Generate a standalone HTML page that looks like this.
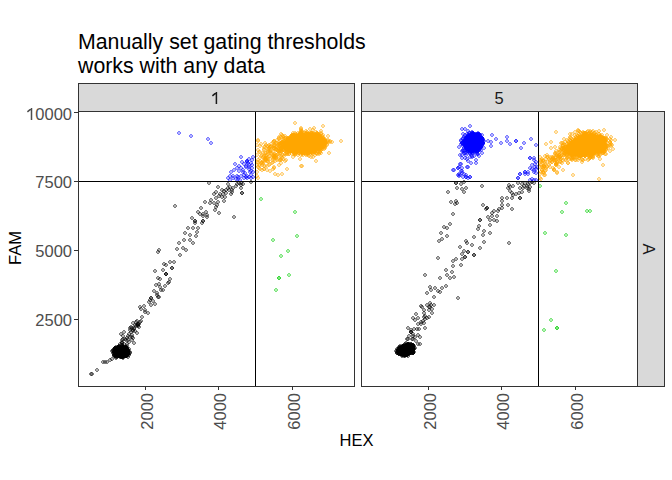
<!DOCTYPE html>
<html><head><meta charset="utf-8">
<style>
html,body{margin:0;padding:0;background:#fff;}
svg{display:block;}
text{font-family:"Liberation Sans",sans-serif;}
</style></head>
<body>
<svg width="672" height="480" viewBox="0 0 672 480">
<defs>
<g id="p"><path d="M-1-2h2v4h-2zM-2-1h1v2h-1zM1-1h1v2h-1z"/><path d="M-1-2h2v1h-2zM-1 1h2v1h-2zM-2-1h1v2h-1zM1-1h1v2h-1z"/></g>
</defs>
<rect x="0" y="0" width="672" height="480" fill="#fff"/>
<text x="78" y="49" font-size="21.3" fill="#000">Manually set gating thresholds</text>
<text x="78" y="73" font-size="21.3" fill="#000">works with any data</text>
<rect x="78.5" y="83.5" width="276" height="28" fill="#d9d9d9" stroke="#333" stroke-width="1"/>
<rect x="361.5" y="83.5" width="276" height="28" fill="#d9d9d9" stroke="#333" stroke-width="1"/>
<rect x="637.5" y="111.5" width="27" height="275" fill="#d9d9d9" stroke="#333" stroke-width="1"/>
<path d="M216.4 92V104M216.2 92.6L212.4 95.9" stroke="#1a1a1a" stroke-width="1.5" fill="none"/>
<text x="499" y="104" font-size="16.5" fill="#1a1a1a" text-anchor="middle">5</text>
<text transform="translate(643,249) rotate(90)" font-size="16.5" fill="#1a1a1a" text-anchor="middle">A</text>
<g fill="#000000" fill-opacity="0.3">
<use href="#p" x="209" y="183"/>
<use href="#p" x="175" y="206"/>
<use href="#p" x="201" y="208"/>
<use href="#p" x="205" y="202"/>
<use href="#p" x="218" y="187"/>
<use href="#p" x="228" y="184"/>
<use href="#p" x="228" y="188"/>
<use href="#p" x="236" y="186"/>
<use href="#p" x="233" y="188"/>
<use href="#p" x="239" y="183"/>
<use href="#p" x="241" y="183"/>
<use href="#p" x="243" y="184"/>
<use href="#p" x="241" y="185"/>
<use href="#p" x="241" y="188"/>
<use href="#p" x="251" y="182"/>
<use href="#p" x="242" y="193"/>
<use href="#p" x="242" y="193"/>
<use href="#p" x="222" y="190"/>
<use href="#p" x="224" y="191"/>
<use href="#p" x="226" y="190"/>
<use href="#p" x="232" y="192"/>
<use href="#p" x="216" y="192"/>
<use href="#p" x="214" y="194"/>
<use href="#p" x="220" y="194"/>
<use href="#p" x="219" y="196"/>
<use href="#p" x="223" y="194"/>
<use href="#p" x="225" y="197"/>
<use href="#p" x="222" y="197"/>
<use href="#p" x="216" y="198"/>
<use href="#p" x="224" y="201"/>
<use href="#p" x="218" y="202"/>
<use href="#p" x="211" y="200"/>
<use href="#p" x="214" y="203"/>
<use href="#p" x="210" y="203"/>
<use href="#p" x="217" y="205"/>
<use href="#p" x="216" y="207"/>
<use href="#p" x="215" y="210"/>
<use href="#p" x="219" y="213"/>
<use href="#p" x="198" y="212"/>
<use href="#p" x="200" y="214"/>
<use href="#p" x="206" y="212"/>
<use href="#p" x="207" y="215"/>
<use href="#p" x="207" y="217"/>
<use href="#p" x="203" y="216"/>
<use href="#p" x="234" y="217"/>
<use href="#p" x="192" y="218"/>
<use href="#p" x="195" y="221"/>
<use href="#p" x="195" y="223"/>
<use href="#p" x="203" y="221"/>
<use href="#p" x="202" y="223"/>
<use href="#p" x="203" y="214"/>
<use href="#p" x="203" y="221"/>
<use href="#p" x="195" y="221"/>
<use href="#p" x="188" y="228"/>
<use href="#p" x="193" y="228"/>
<use href="#p" x="198" y="228"/>
<use href="#p" x="185" y="233"/>
<use href="#p" x="190" y="235"/>
<use href="#p" x="197" y="232"/>
<use href="#p" x="196" y="236"/>
<use href="#p" x="184" y="240"/>
<use href="#p" x="190" y="240"/>
<use href="#p" x="193" y="243"/>
<use href="#p" x="179" y="243"/>
<use href="#p" x="177" y="249"/>
<use href="#p" x="183" y="248"/>
<use href="#p" x="186" y="250"/>
<use href="#p" x="180" y="255"/>
<use href="#p" x="159" y="250"/>
<use href="#p" x="158" y="252"/>
<use href="#p" x="170" y="262"/>
<use href="#p" x="174" y="262"/>
<use href="#p" x="164" y="264"/>
<use href="#p" x="166" y="265"/>
<use href="#p" x="172" y="268"/>
<use href="#p" x="172" y="268"/>
<use href="#p" x="155" y="271"/>
<use href="#p" x="163" y="270"/>
<use href="#p" x="166" y="274"/>
<use href="#p" x="166" y="274"/>
<use href="#p" x="166" y="274"/>
<use href="#p" x="170" y="279"/>
<use href="#p" x="158" y="278"/>
<use href="#p" x="159" y="284"/>
<use href="#p" x="156" y="285"/>
<use href="#p" x="165" y="286"/>
<use href="#p" x="163" y="290"/>
<use href="#p" x="154" y="291"/>
<use href="#p" x="157" y="293"/>
<use href="#p" x="159" y="297"/>
<use href="#p" x="151" y="298"/>
<use href="#p" x="151" y="298"/>
<use href="#p" x="103" y="362"/>
<use href="#p" x="107" y="362"/>
<use href="#p" x="110" y="360"/>
<use href="#p" x="112" y="359"/>
<use href="#p" x="97" y="370"/>
<use href="#p" x="91" y="374"/>
<use href="#p" x="92" y="374"/>
<use href="#p" x="105" y="362"/>
<use href="#p" x="150" y="300"/>
<use href="#p" x="149" y="302"/>
<use href="#p" x="153" y="301"/>
<use href="#p" x="155" y="304"/>
<use href="#p" x="151" y="305"/>
<use href="#p" x="140" y="307"/>
<use href="#p" x="144" y="306"/>
<use href="#p" x="141" y="309"/>
<use href="#p" x="145" y="310"/>
<use href="#p" x="145" y="312"/>
<use href="#p" x="142" y="317"/>
<use href="#p" x="137" y="321"/>
<use href="#p" x="141" y="321"/>
<use href="#p" x="133" y="323"/>
<use href="#p" x="135" y="325"/>
<use href="#p" x="138" y="324"/>
<use href="#p" x="139" y="327"/>
<use href="#p" x="131" y="327"/>
<use href="#p" x="134" y="328"/>
<use href="#p" x="130" y="330"/>
<use href="#p" x="133" y="330"/>
<use href="#p" x="137" y="333"/>
<use href="#p" x="124" y="332"/>
<use href="#p" x="121" y="334"/>
<use href="#p" x="129" y="334"/>
<use href="#p" x="128" y="336"/>
<use href="#p" x="132" y="337"/>
<use href="#p" x="133" y="338"/>
<use href="#p" x="123" y="339"/>
<use href="#p" x="126" y="340"/>
<use href="#p" x="129" y="342"/>
<use href="#p" x="132" y="340"/>
<use href="#p" x="134" y="343"/>
<use href="#p" x="127" y="344"/>
<use href="#p" x="128" y="340"/>
<use href="#p" x="131" y="332"/>
<use href="#p" x="132" y="335"/>
<use href="#p" x="229" y="190"/>
<use href="#p" x="226" y="193"/>
<use href="#p" x="230" y="187"/>
<use href="#p" x="232" y="190"/>
<use href="#p" x="237" y="184"/>
<use href="#p" x="231" y="194"/>
<use href="#p" x="118" y="347"/>
<use href="#p" x="124" y="349"/>
<use href="#p" x="124" y="350"/>
<use href="#p" x="121" y="357"/>
<use href="#p" x="119" y="355"/>
<use href="#p" x="121" y="355"/>
<use href="#p" x="115" y="352"/>
<use href="#p" x="119" y="354"/>
<use href="#p" x="123" y="348"/>
<use href="#p" x="126" y="352"/>
<use href="#p" x="127" y="353"/>
<use href="#p" x="115" y="352"/>
<use href="#p" x="126" y="348"/>
<use href="#p" x="121" y="357"/>
<use href="#p" x="125" y="354"/>
<use href="#p" x="116" y="350"/>
<use href="#p" x="116" y="352"/>
<use href="#p" x="115" y="348"/>
<use href="#p" x="123" y="347"/>
<use href="#p" x="124" y="353"/>
<use href="#p" x="116" y="351"/>
<use href="#p" x="122" y="353"/>
<use href="#p" x="128" y="352"/>
<use href="#p" x="116" y="349"/>
<use href="#p" x="114" y="352"/>
<use href="#p" x="120" y="354"/>
<use href="#p" x="126" y="352"/>
<use href="#p" x="128" y="352"/>
<use href="#p" x="123" y="354"/>
<use href="#p" x="122" y="348"/>
<use href="#p" x="122" y="355"/>
<use href="#p" x="118" y="349"/>
<use href="#p" x="117" y="349"/>
<use href="#p" x="117" y="350"/>
<use href="#p" x="114" y="351"/>
<use href="#p" x="118" y="348"/>
<use href="#p" x="126" y="351"/>
<use href="#p" x="124" y="350"/>
<use href="#p" x="121" y="354"/>
<use href="#p" x="117" y="349"/>
<use href="#p" x="117" y="352"/>
<use href="#p" x="121" y="348"/>
<use href="#p" x="119" y="356"/>
<use href="#p" x="121" y="348"/>
<use href="#p" x="123" y="356"/>
<use href="#p" x="123" y="348"/>
<use href="#p" x="124" y="351"/>
<use href="#p" x="117" y="353"/>
<use href="#p" x="128" y="351"/>
<use href="#p" x="119" y="352"/>
<use href="#p" x="121" y="347"/>
<use href="#p" x="124" y="356"/>
<use href="#p" x="114" y="349"/>
<use href="#p" x="116" y="351"/>
<use href="#p" x="119" y="350"/>
<use href="#p" x="122" y="349"/>
<use href="#p" x="122" y="356"/>
<use href="#p" x="117" y="357"/>
<use href="#p" x="123" y="351"/>
<use href="#p" x="119" y="348"/>
<use href="#p" x="128" y="350"/>
<use href="#p" x="115" y="354"/>
<use href="#p" x="122" y="350"/>
<use href="#p" x="121" y="349"/>
<use href="#p" x="118" y="347"/>
<use href="#p" x="116" y="357"/>
<use href="#p" x="116" y="351"/>
<use href="#p" x="119" y="351"/>
<use href="#p" x="124" y="350"/>
<use href="#p" x="124" y="352"/>
<use href="#p" x="114" y="352"/>
<use href="#p" x="115" y="353"/>
<use href="#p" x="123" y="350"/>
<use href="#p" x="122" y="352"/>
<use href="#p" x="121" y="349"/>
<use href="#p" x="120" y="351"/>
<use href="#p" x="117" y="350"/>
<use href="#p" x="120" y="349"/>
<use href="#p" x="126" y="351"/>
<use href="#p" x="119" y="353"/>
<use href="#p" x="124" y="356"/>
<use href="#p" x="119" y="348"/>
<use href="#p" x="124" y="351"/>
<use href="#p" x="122" y="349"/>
<use href="#p" x="116" y="353"/>
<use href="#p" x="128" y="353"/>
<use href="#p" x="124" y="350"/>
<use href="#p" x="114" y="355"/>
<use href="#p" x="119" y="349"/>
<use href="#p" x="118" y="349"/>
<use href="#p" x="125" y="353"/>
<use href="#p" x="121" y="348"/>
<use href="#p" x="119" y="352"/>
<use href="#p" x="119" y="347"/>
<use href="#p" x="128" y="353"/>
<use href="#p" x="127" y="355"/>
<use href="#p" x="127" y="353"/>
<use href="#p" x="125" y="351"/>
<use href="#p" x="124" y="352"/>
<use href="#p" x="124" y="354"/>
<use href="#p" x="120" y="356"/>
<use href="#p" x="114" y="354"/>
<use href="#p" x="121" y="353"/>
<use href="#p" x="121" y="347"/>
<use href="#p" x="122" y="353"/>
<use href="#p" x="121" y="356"/>
<use href="#p" x="117" y="350"/>
<use href="#p" x="116" y="353"/>
<use href="#p" x="113" y="353"/>
<use href="#p" x="125" y="349"/>
<use href="#p" x="117" y="355"/>
<use href="#p" x="115" y="350"/>
<use href="#p" x="123" y="351"/>
<use href="#p" x="120" y="347"/>
<use href="#p" x="119" y="351"/>
<use href="#p" x="115" y="350"/>
<use href="#p" x="126" y="350"/>
<use href="#p" x="122" y="352"/>
<use href="#p" x="121" y="355"/>
<use href="#p" x="116" y="354"/>
<use href="#p" x="118" y="349"/>
<use href="#p" x="123" y="351"/>
<use href="#p" x="126" y="355"/>
<use href="#p" x="120" y="353"/>
<use href="#p" x="122" y="355"/>
<use href="#p" x="123" y="355"/>
<use href="#p" x="114" y="351"/>
<use href="#p" x="114" y="355"/>
<use href="#p" x="115" y="353"/>
<use href="#p" x="124" y="354"/>
<use href="#p" x="124" y="352"/>
<use href="#p" x="126" y="353"/>
<use href="#p" x="117" y="352"/>
<use href="#p" x="129" y="349"/>
<use href="#p" x="115" y="351"/>
<use href="#p" x="123" y="356"/>
<use href="#p" x="121" y="354"/>
<use href="#p" x="122" y="352"/>
<use href="#p" x="117" y="355"/>
<use href="#p" x="116" y="353"/>
<use href="#p" x="114" y="356"/>
<use href="#p" x="125" y="354"/>
<use href="#p" x="116" y="356"/>
<use href="#p" x="126" y="349"/>
<use href="#p" x="115" y="352"/>
<use href="#p" x="118" y="353"/>
<use href="#p" x="119" y="346"/>
<use href="#p" x="126" y="356"/>
<use href="#p" x="119" y="350"/>
<use href="#p" x="117" y="353"/>
<use href="#p" x="115" y="349"/>
<use href="#p" x="120" y="352"/>
<use href="#p" x="115" y="351"/>
<use href="#p" x="121" y="354"/>
<use href="#p" x="124" y="351"/>
<use href="#p" x="118" y="347"/>
<use href="#p" x="121" y="351"/>
<use href="#p" x="117" y="356"/>
<use href="#p" x="125" y="348"/>
<use href="#p" x="126" y="347"/>
<use href="#p" x="120" y="356"/>
<use href="#p" x="119" y="355"/>
<use href="#p" x="123" y="350"/>
<use href="#p" x="119" y="351"/>
<use href="#p" x="116" y="358"/>
<use href="#p" x="122" y="355"/>
<use href="#p" x="120" y="356"/>
<use href="#p" x="126" y="351"/>
<use href="#p" x="119" y="356"/>
<use href="#p" x="119" y="350"/>
<use href="#p" x="117" y="350"/>
<use href="#p" x="120" y="357"/>
<use href="#p" x="122" y="349"/>
<use href="#p" x="114" y="352"/>
<use href="#p" x="122" y="348"/>
<use href="#p" x="117" y="355"/>
<use href="#p" x="124" y="355"/>
<use href="#p" x="124" y="354"/>
<use href="#p" x="115" y="350"/>
<use href="#p" x="115" y="350"/>
<use href="#p" x="127" y="350"/>
<use href="#p" x="116" y="354"/>
<use href="#p" x="118" y="350"/>
<use href="#p" x="115" y="348"/>
<use href="#p" x="126" y="352"/>
<use href="#p" x="117" y="350"/>
<use href="#p" x="128" y="352"/>
<use href="#p" x="121" y="349"/>
<use href="#p" x="121" y="349"/>
<use href="#p" x="126" y="350"/>
<use href="#p" x="119" y="349"/>
<use href="#p" x="118" y="354"/>
<use href="#p" x="122" y="351"/>
<use href="#p" x="119" y="352"/>
<use href="#p" x="120" y="354"/>
<use href="#p" x="116" y="353"/>
<use href="#p" x="117" y="353"/>
<use href="#p" x="113" y="350"/>
<use href="#p" x="121" y="355"/>
<use href="#p" x="120" y="349"/>
<use href="#p" x="115" y="351"/>
<use href="#p" x="115" y="350"/>
<use href="#p" x="124" y="353"/>
<use href="#p" x="121" y="356"/>
<use href="#p" x="126" y="353"/>
<use href="#p" x="119" y="354"/>
<use href="#p" x="115" y="351"/>
<use href="#p" x="120" y="353"/>
<use href="#p" x="126" y="352"/>
<use href="#p" x="115" y="355"/>
<use href="#p" x="120" y="351"/>
<use href="#p" x="124" y="352"/>
<use href="#p" x="116" y="356"/>
<use href="#p" x="123" y="349"/>
<use href="#p" x="119" y="349"/>
<use href="#p" x="125" y="351"/>
<use href="#p" x="119" y="349"/>
<use href="#p" x="123" y="356"/>
<use href="#p" x="124" y="352"/>
<use href="#p" x="119" y="348"/>
<use href="#p" x="116" y="351"/>
<use href="#p" x="114" y="353"/>
<use href="#p" x="116" y="351"/>
<use href="#p" x="122" y="349"/>
<use href="#p" x="124" y="356"/>
<use href="#p" x="116" y="352"/>
<use href="#p" x="117" y="352"/>
<use href="#p" x="121" y="349"/>
<use href="#p" x="117" y="353"/>
<use href="#p" x="126" y="355"/>
<use href="#p" x="120" y="352"/>
<use href="#p" x="119" y="351"/>
<use href="#p" x="115" y="348"/>
<use href="#p" x="116" y="353"/>
<use href="#p" x="116" y="354"/>
<use href="#p" x="124" y="349"/>
<use href="#p" x="122" y="349"/>
<use href="#p" x="115" y="350"/>
<use href="#p" x="123" y="357"/>
<use href="#p" x="125" y="354"/>
<use href="#p" x="118" y="354"/>
<use href="#p" x="118" y="353"/>
<use href="#p" x="117" y="348"/>
<use href="#p" x="121" y="351"/>
<use href="#p" x="127" y="351"/>
<use href="#p" x="123" y="352"/>
<use href="#p" x="115" y="352"/>
<use href="#p" x="121" y="352"/>
<use href="#p" x="119" y="346"/>
<use href="#p" x="119" y="355"/>
<use href="#p" x="124" y="350"/>
<use href="#p" x="116" y="347"/>
<use href="#p" x="122" y="347"/>
<use href="#p" x="125" y="351"/>
<use href="#p" x="126" y="350"/>
<use href="#p" x="128" y="353"/>
<use href="#p" x="115" y="352"/>
<use href="#p" x="124" y="353"/>
<use href="#p" x="126" y="350"/>
<use href="#p" x="120" y="356"/>
<use href="#p" x="116" y="351"/>
<use href="#p" x="126" y="351"/>
<use href="#p" x="119" y="356"/>
<use href="#p" x="118" y="356"/>
<use href="#p" x="117" y="352"/>
<use href="#p" x="123" y="350"/>
<use href="#p" x="122" y="353"/>
<use href="#p" x="125" y="355"/>
<use href="#p" x="118" y="356"/>
<use href="#p" x="112" y="351"/>
<use href="#p" x="128" y="353"/>
<use href="#p" x="124" y="349"/>
<use href="#p" x="127" y="348"/>
<use href="#p" x="115" y="352"/>
<use href="#p" x="118" y="351"/>
<use href="#p" x="116" y="352"/>
<use href="#p" x="113" y="351"/>
<use href="#p" x="116" y="348"/>
<use href="#p" x="117" y="351"/>
<use href="#p" x="115" y="356"/>
<use href="#p" x="128" y="353"/>
<use href="#p" x="117" y="349"/>
<use href="#p" x="122" y="349"/>
<use href="#p" x="115" y="352"/>
<use href="#p" x="120" y="356"/>
<use href="#p" x="116" y="349"/>
<use href="#p" x="126" y="350"/>
<use href="#p" x="127" y="350"/>
<use href="#p" x="125" y="350"/>
<use href="#p" x="116" y="351"/>
<use href="#p" x="121" y="355"/>
<use href="#p" x="119" y="353"/>
<use href="#p" x="116" y="351"/>
<use href="#p" x="124" y="351"/>
<use href="#p" x="124" y="351"/>
<use href="#p" x="124" y="350"/>
<use href="#p" x="121" y="354"/>
<use href="#p" x="123" y="349"/>
<use href="#p" x="123" y="349"/>
<use href="#p" x="122" y="349"/>
<use href="#p" x="123" y="356"/>
<use href="#p" x="128" y="354"/>
<use href="#p" x="121" y="349"/>
<use href="#p" x="120" y="354"/>
<use href="#p" x="127" y="350"/>
<use href="#p" x="123" y="347"/>
<use href="#p" x="127" y="356"/>
<use href="#p" x="124" y="354"/>
<use href="#p" x="122" y="349"/>
<use href="#p" x="129" y="355"/>
<use href="#p" x="120" y="355"/>
<use href="#p" x="127" y="350"/>
<use href="#p" x="122" y="357"/>
<use href="#p" x="127" y="349"/>
<use href="#p" x="124" y="355"/>
<use href="#p" x="123" y="356"/>
<use href="#p" x="123" y="355"/>
<use href="#p" x="121" y="354"/>
<use href="#p" x="122" y="348"/>
<use href="#p" x="126" y="347"/>
<use href="#p" x="126" y="356"/>
<use href="#p" x="126" y="348"/>
<use href="#p" x="128" y="354"/>
<use href="#p" x="128" y="352"/>
<use href="#p" x="118" y="351"/>
<use href="#p" x="122" y="352"/>
<use href="#p" x="120" y="353"/>
<use href="#p" x="119" y="349"/>
<use href="#p" x="130" y="353"/>
<use href="#p" x="127" y="346"/>
<use href="#p" x="123" y="357"/>
<use href="#p" x="120" y="350"/>
<use href="#p" x="122" y="351"/>
<use href="#p" x="128" y="354"/>
<use href="#p" x="125" y="350"/>
<use href="#p" x="128" y="353"/>
<use href="#p" x="127" y="355"/>
<use href="#p" x="122" y="348"/>
<use href="#p" x="126" y="351"/>
<use href="#p" x="124" y="355"/>
<use href="#p" x="122" y="349"/>
<use href="#p" x="126" y="356"/>
<use href="#p" x="119" y="350"/>
<use href="#p" x="123" y="355"/>
<use href="#p" x="126" y="351"/>
<use href="#p" x="124" y="348"/>
<use href="#p" x="119" y="349"/>
<use href="#p" x="120" y="352"/>
<use href="#p" x="125" y="353"/>
<use href="#p" x="127" y="348"/>
<use href="#p" x="120" y="354"/>
<use href="#p" x="123" y="353"/>
<use href="#p" x="123" y="352"/>
<use href="#p" x="122" y="355"/>
<use href="#p" x="120" y="350"/>
<use href="#p" x="124" y="351"/>
<use href="#p" x="125" y="348"/>
<use href="#p" x="125" y="350"/>
<use href="#p" x="127" y="352"/>
<use href="#p" x="125" y="347"/>
<use href="#p" x="124" y="355"/>
<use href="#p" x="121" y="352"/>
<use href="#p" x="127" y="351"/>
<use href="#p" x="125" y="355"/>
<use href="#p" x="122" y="351"/>
<use href="#p" x="126" y="349"/>
<use href="#p" x="124" y="355"/>
<use href="#p" x="123" y="349"/>
<use href="#p" x="122" y="352"/>
<use href="#p" x="123" y="353"/>
<use href="#p" x="123" y="352"/>
<use href="#p" x="124" y="348"/>
<use href="#p" x="127" y="349"/>
<use href="#p" x="121" y="348"/>
<use href="#p" x="119" y="353"/>
<use href="#p" x="129" y="354"/>
<use href="#p" x="125" y="354"/>
<use href="#p" x="122" y="349"/>
<use href="#p" x="126" y="350"/>
<use href="#p" x="122" y="351"/>
<use href="#p" x="128" y="351"/>
<use href="#p" x="123" y="351"/>
<use href="#p" x="123" y="352"/>
<use href="#p" x="125" y="350"/>
<use href="#p" x="121" y="349"/>
<use href="#p" x="130" y="352"/>
<use href="#p" x="118" y="350"/>
<use href="#p" x="126" y="356"/>
<use href="#p" x="121" y="349"/>
<use href="#p" x="125" y="352"/>
<use href="#p" x="124" y="348"/>
<use href="#p" x="121" y="352"/>
<use href="#p" x="128" y="354"/>
<use href="#p" x="122" y="348"/>
<use href="#p" x="128" y="351"/>
<use href="#p" x="120" y="347"/>
<use href="#p" x="125" y="348"/>
<use href="#p" x="121" y="351"/>
<use href="#p" x="128" y="350"/>
<use href="#p" x="125" y="350"/>
<use href="#p" x="126" y="354"/>
<use href="#p" x="127" y="350"/>
<use href="#p" x="124" y="350"/>
<use href="#p" x="125" y="356"/>
<use href="#p" x="125" y="348"/>
<use href="#p" x="126" y="351"/>
<use href="#p" x="123" y="358"/>
<use href="#p" x="123" y="347"/>
<use href="#p" x="126" y="354"/>
<use href="#p" x="125" y="351"/>
<use href="#p" x="125" y="351"/>
<use href="#p" x="128" y="352"/>
<use href="#p" x="125" y="354"/>
<use href="#p" x="123" y="347"/>
<use href="#p" x="120" y="350"/>
<use href="#p" x="124" y="348"/>
<use href="#p" x="124" y="354"/>
<use href="#p" x="121" y="355"/>
<use href="#p" x="126" y="347"/>
<use href="#p" x="123" y="355"/>
<use href="#p" x="127" y="355"/>
<use href="#p" x="121" y="349"/>
<use href="#p" x="123" y="349"/>
<use href="#p" x="121" y="351"/>
<use href="#p" x="120" y="352"/>
<use href="#p" x="123" y="354"/>
<use href="#p" x="128" y="354"/>
<use href="#p" x="129" y="352"/>
<use href="#p" x="122" y="348"/>
<use href="#p" x="118" y="353"/>
<use href="#p" x="124" y="351"/>
<use href="#p" x="123" y="346"/>
<use href="#p" x="128" y="351"/>
<use href="#p" x="128" y="354"/>
<use href="#p" x="121" y="349"/>
<use href="#p" x="120" y="353"/>
<use href="#p" x="124" y="350"/>
<use href="#p" x="128" y="353"/>
<use href="#p" x="121" y="349"/>
<use href="#p" x="126" y="351"/>
<use href="#p" x="128" y="350"/>
<use href="#p" x="123" y="355"/>
<use href="#p" x="123" y="356"/>
<use href="#p" x="125" y="356"/>
<use href="#p" x="123" y="357"/>
<use href="#p" x="123" y="349"/>
<use href="#p" x="124" y="347"/>
<use href="#p" x="128" y="357"/>
<use href="#p" x="122" y="357"/>
<use href="#p" x="123" y="356"/>
<use href="#p" x="137" y="325"/>
<use href="#p" x="122" y="343"/>
<use href="#p" x="124" y="344"/>
<use href="#p" x="136" y="322"/>
<use href="#p" x="133" y="331"/>
<use href="#p" x="122" y="342"/>
<use href="#p" x="138" y="324"/>
<use href="#p" x="138" y="325"/>
<use href="#p" x="123" y="336"/>
<use href="#p" x="120" y="344"/>
<use href="#p" x="127" y="338"/>
<use href="#p" x="134" y="329"/>
<use href="#p" x="130" y="337"/>
<use href="#p" x="136" y="326"/>
<use href="#p" x="132" y="328"/>
<use href="#p" x="125" y="339"/>
<use href="#p" x="122" y="345"/>
<use href="#p" x="139" y="324"/>
<use href="#p" x="138" y="326"/>
<use href="#p" x="122" y="345"/>
<use href="#p" x="130" y="328"/>
<use href="#p" x="135" y="331"/>
<use href="#p" x="122" y="340"/>
<use href="#p" x="140" y="322"/>
<use href="#p" x="122" y="343"/>
<use href="#p" x="168" y="283"/>
<use href="#p" x="169" y="282"/>
<use href="#p" x="157" y="295"/>
<use href="#p" x="158" y="297"/>
<use href="#p" x="160" y="287"/>
<use href="#p" x="161" y="290"/>
<use href="#p" x="148" y="313"/>
<use href="#p" x="160" y="279"/>
</g>
<g fill="#0000ff" fill-opacity="0.3">
<use href="#p" x="179" y="133"/>
<use href="#p" x="191" y="136"/>
<use href="#p" x="208" y="139"/>
<use href="#p" x="211" y="143"/>
<use href="#p" x="241" y="157"/>
<use href="#p" x="253" y="157"/>
<use href="#p" x="249" y="159"/>
<use href="#p" x="247" y="161"/>
<use href="#p" x="247" y="161"/>
<use href="#p" x="242" y="162"/>
<use href="#p" x="235" y="164"/>
<use href="#p" x="244" y="164"/>
<use href="#p" x="252" y="165"/>
<use href="#p" x="239" y="166"/>
<use href="#p" x="237" y="168"/>
<use href="#p" x="241" y="168"/>
<use href="#p" x="246" y="167"/>
<use href="#p" x="249" y="169"/>
<use href="#p" x="234" y="170"/>
<use href="#p" x="231" y="172"/>
<use href="#p" x="239" y="171"/>
<use href="#p" x="243" y="172"/>
<use href="#p" x="251" y="171"/>
<use href="#p" x="252" y="168"/>
<use href="#p" x="233" y="176"/>
<use href="#p" x="237" y="176"/>
<use href="#p" x="230" y="176"/>
<use href="#p" x="228" y="178"/>
<use href="#p" x="246" y="177"/>
<use href="#p" x="247" y="178"/>
<use href="#p" x="253" y="177"/>
<use href="#p" x="238" y="179"/>
<use href="#p" x="240" y="180"/>
<use href="#p" x="230" y="180"/>
<use href="#p" x="251" y="175"/>
<use href="#p" x="244" y="175"/>
<use href="#p" x="247" y="162"/>
<use href="#p" x="248" y="163"/>
<use href="#p" x="246" y="166"/>
<use href="#p" x="249" y="167"/>
<use href="#p" x="251" y="163"/>
<use href="#p" x="252" y="160"/>
<use href="#p" x="250" y="172"/>
<use href="#p" x="247" y="176"/>
<use href="#p" x="249" y="177"/>
<use href="#p" x="244" y="178"/>
<use href="#p" x="243" y="170"/>
<use href="#p" x="238" y="177"/>
<use href="#p" x="241" y="176"/>
<use href="#p" x="245" y="173"/>
<use href="#p" x="233" y="178"/>
<use href="#p" x="236" y="179"/>
<use href="#p" x="251" y="178"/>
<use href="#p" x="253" y="172"/>
<use href="#p" x="249" y="165"/>
</g>
<g fill="#ffa500" fill-opacity="0.3">
<use href="#p" x="295" y="123"/>
<use href="#p" x="301" y="128"/>
<use href="#p" x="314" y="128"/>
<use href="#p" x="323" y="126"/>
<use href="#p" x="341" y="141"/>
<use href="#p" x="332" y="142"/>
<use href="#p" x="329" y="153"/>
<use href="#p" x="316" y="161"/>
<use href="#p" x="301" y="166"/>
<use href="#p" x="302" y="166"/>
<use href="#p" x="287" y="169"/>
<use href="#p" x="282" y="174"/>
<use href="#p" x="278" y="175"/>
<use href="#p" x="275" y="174"/>
<use href="#p" x="279" y="165"/>
<use href="#p" x="273" y="162"/>
<use href="#p" x="270" y="171"/>
<use href="#p" x="267" y="170"/>
<use href="#p" x="258" y="141"/>
<use href="#p" x="281" y="134"/>
<use href="#p" x="257" y="145"/>
<use href="#p" x="258" y="150"/>
<use href="#p" x="257" y="155"/>
<use href="#p" x="258" y="160"/>
<use href="#p" x="257" y="165"/>
<use href="#p" x="259" y="168"/>
<use href="#p" x="257" y="172"/>
<use href="#p" x="260" y="158"/>
<use href="#p" x="259" y="152"/>
<use href="#p" x="258" y="140"/>
<use href="#p" x="260" y="146"/>
<use href="#p" x="257" y="176"/>
<use href="#p" x="258" y="178"/>
<use href="#p" x="261" y="163"/>
<use href="#p" x="262" y="170"/>
<use href="#p" x="262" y="155"/>
<use href="#p" x="306" y="141"/>
<use href="#p" x="306" y="148"/>
<use href="#p" x="289" y="149"/>
<use href="#p" x="285" y="145"/>
<use href="#p" x="298" y="136"/>
<use href="#p" x="299" y="148"/>
<use href="#p" x="303" y="148"/>
<use href="#p" x="321" y="145"/>
<use href="#p" x="300" y="151"/>
<use href="#p" x="306" y="144"/>
<use href="#p" x="325" y="143"/>
<use href="#p" x="320" y="145"/>
<use href="#p" x="307" y="137"/>
<use href="#p" x="316" y="136"/>
<use href="#p" x="297" y="139"/>
<use href="#p" x="304" y="135"/>
<use href="#p" x="320" y="139"/>
<use href="#p" x="309" y="145"/>
<use href="#p" x="296" y="139"/>
<use href="#p" x="290" y="141"/>
<use href="#p" x="288" y="148"/>
<use href="#p" x="293" y="139"/>
<use href="#p" x="316" y="141"/>
<use href="#p" x="297" y="136"/>
<use href="#p" x="302" y="138"/>
<use href="#p" x="322" y="136"/>
<use href="#p" x="292" y="147"/>
<use href="#p" x="311" y="152"/>
<use href="#p" x="324" y="146"/>
<use href="#p" x="297" y="151"/>
<use href="#p" x="299" y="146"/>
<use href="#p" x="301" y="143"/>
<use href="#p" x="287" y="145"/>
<use href="#p" x="286" y="145"/>
<use href="#p" x="315" y="143"/>
<use href="#p" x="288" y="144"/>
<use href="#p" x="297" y="143"/>
<use href="#p" x="288" y="139"/>
<use href="#p" x="290" y="150"/>
<use href="#p" x="309" y="135"/>
<use href="#p" x="313" y="140"/>
<use href="#p" x="287" y="144"/>
<use href="#p" x="308" y="148"/>
<use href="#p" x="295" y="145"/>
<use href="#p" x="305" y="151"/>
<use href="#p" x="308" y="150"/>
<use href="#p" x="304" y="147"/>
<use href="#p" x="307" y="139"/>
<use href="#p" x="304" y="138"/>
<use href="#p" x="302" y="132"/>
<use href="#p" x="296" y="138"/>
<use href="#p" x="294" y="135"/>
<use href="#p" x="311" y="152"/>
<use href="#p" x="299" y="148"/>
<use href="#p" x="316" y="145"/>
<use href="#p" x="313" y="139"/>
<use href="#p" x="310" y="151"/>
<use href="#p" x="307" y="136"/>
<use href="#p" x="287" y="144"/>
<use href="#p" x="307" y="137"/>
<use href="#p" x="308" y="136"/>
<use href="#p" x="320" y="142"/>
<use href="#p" x="307" y="149"/>
<use href="#p" x="301" y="147"/>
<use href="#p" x="318" y="146"/>
<use href="#p" x="314" y="144"/>
<use href="#p" x="299" y="147"/>
<use href="#p" x="288" y="142"/>
<use href="#p" x="298" y="138"/>
<use href="#p" x="293" y="136"/>
<use href="#p" x="296" y="149"/>
<use href="#p" x="292" y="144"/>
<use href="#p" x="317" y="145"/>
<use href="#p" x="315" y="136"/>
<use href="#p" x="316" y="138"/>
<use href="#p" x="297" y="146"/>
<use href="#p" x="297" y="144"/>
<use href="#p" x="311" y="147"/>
<use href="#p" x="315" y="147"/>
<use href="#p" x="295" y="142"/>
<use href="#p" x="323" y="139"/>
<use href="#p" x="311" y="152"/>
<use href="#p" x="315" y="144"/>
<use href="#p" x="306" y="146"/>
<use href="#p" x="291" y="146"/>
<use href="#p" x="307" y="139"/>
<use href="#p" x="320" y="147"/>
<use href="#p" x="313" y="137"/>
<use href="#p" x="289" y="139"/>
<use href="#p" x="304" y="146"/>
<use href="#p" x="302" y="152"/>
<use href="#p" x="303" y="152"/>
<use href="#p" x="308" y="154"/>
<use href="#p" x="293" y="140"/>
<use href="#p" x="310" y="147"/>
<use href="#p" x="292" y="148"/>
<use href="#p" x="312" y="135"/>
<use href="#p" x="291" y="151"/>
<use href="#p" x="303" y="142"/>
<use href="#p" x="301" y="150"/>
<use href="#p" x="292" y="142"/>
<use href="#p" x="304" y="145"/>
<use href="#p" x="325" y="141"/>
<use href="#p" x="289" y="141"/>
<use href="#p" x="308" y="145"/>
<use href="#p" x="296" y="139"/>
<use href="#p" x="291" y="146"/>
<use href="#p" x="309" y="151"/>
<use href="#p" x="319" y="143"/>
<use href="#p" x="309" y="147"/>
<use href="#p" x="322" y="143"/>
<use href="#p" x="302" y="142"/>
<use href="#p" x="294" y="143"/>
<use href="#p" x="314" y="136"/>
<use href="#p" x="323" y="140"/>
<use href="#p" x="309" y="150"/>
<use href="#p" x="292" y="144"/>
<use href="#p" x="319" y="144"/>
<use href="#p" x="305" y="147"/>
<use href="#p" x="318" y="141"/>
<use href="#p" x="296" y="141"/>
<use href="#p" x="311" y="141"/>
<use href="#p" x="293" y="149"/>
<use href="#p" x="305" y="146"/>
<use href="#p" x="304" y="147"/>
<use href="#p" x="309" y="135"/>
<use href="#p" x="287" y="145"/>
<use href="#p" x="294" y="145"/>
<use href="#p" x="314" y="139"/>
<use href="#p" x="310" y="135"/>
<use href="#p" x="297" y="139"/>
<use href="#p" x="303" y="143"/>
<use href="#p" x="320" y="141"/>
<use href="#p" x="301" y="141"/>
<use href="#p" x="296" y="141"/>
<use href="#p" x="313" y="141"/>
<use href="#p" x="323" y="138"/>
<use href="#p" x="321" y="143"/>
<use href="#p" x="295" y="141"/>
<use href="#p" x="320" y="144"/>
<use href="#p" x="295" y="136"/>
<use href="#p" x="312" y="139"/>
<use href="#p" x="301" y="134"/>
<use href="#p" x="312" y="145"/>
<use href="#p" x="311" y="151"/>
<use href="#p" x="302" y="142"/>
<use href="#p" x="308" y="145"/>
<use href="#p" x="295" y="143"/>
<use href="#p" x="309" y="143"/>
<use href="#p" x="309" y="137"/>
<use href="#p" x="318" y="137"/>
<use href="#p" x="309" y="147"/>
<use href="#p" x="307" y="141"/>
<use href="#p" x="285" y="148"/>
<use href="#p" x="299" y="138"/>
<use href="#p" x="302" y="146"/>
<use href="#p" x="319" y="137"/>
<use href="#p" x="315" y="136"/>
<use href="#p" x="305" y="143"/>
<use href="#p" x="311" y="149"/>
<use href="#p" x="313" y="139"/>
<use href="#p" x="306" y="144"/>
<use href="#p" x="324" y="142"/>
<use href="#p" x="318" y="142"/>
<use href="#p" x="292" y="151"/>
<use href="#p" x="296" y="136"/>
<use href="#p" x="316" y="146"/>
<use href="#p" x="305" y="136"/>
<use href="#p" x="313" y="144"/>
<use href="#p" x="319" y="138"/>
<use href="#p" x="308" y="148"/>
<use href="#p" x="319" y="135"/>
<use href="#p" x="296" y="136"/>
<use href="#p" x="320" y="146"/>
<use href="#p" x="300" y="149"/>
<use href="#p" x="313" y="135"/>
<use href="#p" x="304" y="148"/>
<use href="#p" x="308" y="144"/>
<use href="#p" x="314" y="147"/>
<use href="#p" x="289" y="149"/>
<use href="#p" x="299" y="145"/>
<use href="#p" x="290" y="148"/>
<use href="#p" x="308" y="144"/>
<use href="#p" x="312" y="146"/>
<use href="#p" x="318" y="145"/>
<use href="#p" x="322" y="143"/>
<use href="#p" x="315" y="144"/>
<use href="#p" x="303" y="151"/>
<use href="#p" x="304" y="141"/>
<use href="#p" x="297" y="138"/>
<use href="#p" x="307" y="149"/>
<use href="#p" x="292" y="144"/>
<use href="#p" x="304" y="140"/>
<use href="#p" x="316" y="140"/>
<use href="#p" x="304" y="150"/>
<use href="#p" x="319" y="143"/>
<use href="#p" x="307" y="139"/>
<use href="#p" x="293" y="145"/>
<use href="#p" x="293" y="151"/>
<use href="#p" x="299" y="153"/>
<use href="#p" x="301" y="135"/>
<use href="#p" x="304" y="139"/>
<use href="#p" x="310" y="150"/>
<use href="#p" x="294" y="135"/>
<use href="#p" x="308" y="139"/>
<use href="#p" x="292" y="146"/>
<use href="#p" x="299" y="148"/>
<use href="#p" x="292" y="142"/>
<use href="#p" x="304" y="145"/>
<use href="#p" x="300" y="148"/>
<use href="#p" x="315" y="143"/>
<use href="#p" x="301" y="151"/>
<use href="#p" x="301" y="141"/>
<use href="#p" x="308" y="149"/>
<use href="#p" x="325" y="141"/>
<use href="#p" x="319" y="141"/>
<use href="#p" x="322" y="144"/>
<use href="#p" x="307" y="149"/>
<use href="#p" x="305" y="136"/>
<use href="#p" x="294" y="149"/>
<use href="#p" x="292" y="148"/>
<use href="#p" x="313" y="145"/>
<use href="#p" x="289" y="148"/>
<use href="#p" x="318" y="144"/>
<use href="#p" x="308" y="144"/>
<use href="#p" x="316" y="142"/>
<use href="#p" x="295" y="147"/>
<use href="#p" x="309" y="151"/>
<use href="#p" x="314" y="140"/>
<use href="#p" x="302" y="133"/>
<use href="#p" x="297" y="142"/>
<use href="#p" x="294" y="145"/>
<use href="#p" x="291" y="140"/>
<use href="#p" x="312" y="138"/>
<use href="#p" x="316" y="145"/>
<use href="#p" x="301" y="134"/>
<use href="#p" x="309" y="136"/>
<use href="#p" x="313" y="149"/>
<use href="#p" x="315" y="149"/>
<use href="#p" x="298" y="138"/>
<use href="#p" x="307" y="136"/>
<use href="#p" x="302" y="136"/>
<use href="#p" x="305" y="153"/>
<use href="#p" x="289" y="142"/>
<use href="#p" x="303" y="138"/>
<use href="#p" x="302" y="147"/>
<use href="#p" x="322" y="140"/>
<use href="#p" x="318" y="136"/>
<use href="#p" x="290" y="141"/>
<use href="#p" x="288" y="147"/>
<use href="#p" x="295" y="139"/>
<use href="#p" x="301" y="143"/>
<use href="#p" x="293" y="149"/>
<use href="#p" x="297" y="148"/>
<use href="#p" x="316" y="134"/>
<use href="#p" x="307" y="135"/>
<use href="#p" x="307" y="146"/>
<use href="#p" x="285" y="142"/>
<use href="#p" x="297" y="146"/>
<use href="#p" x="306" y="142"/>
<use href="#p" x="304" y="151"/>
<use href="#p" x="314" y="145"/>
<use href="#p" x="304" y="149"/>
<use href="#p" x="307" y="141"/>
<use href="#p" x="314" y="150"/>
<use href="#p" x="318" y="139"/>
<use href="#p" x="291" y="147"/>
<use href="#p" x="302" y="134"/>
<use href="#p" x="290" y="147"/>
<use href="#p" x="299" y="135"/>
<use href="#p" x="307" y="139"/>
<use href="#p" x="295" y="141"/>
<use href="#p" x="320" y="142"/>
<use href="#p" x="307" y="147"/>
<use href="#p" x="315" y="135"/>
<use href="#p" x="319" y="142"/>
<use href="#p" x="299" y="142"/>
<use href="#p" x="302" y="134"/>
<use href="#p" x="311" y="153"/>
<use href="#p" x="309" y="151"/>
<use href="#p" x="315" y="141"/>
<use href="#p" x="295" y="144"/>
<use href="#p" x="316" y="140"/>
<use href="#p" x="304" y="135"/>
<use href="#p" x="325" y="144"/>
<use href="#p" x="291" y="136"/>
<use href="#p" x="313" y="148"/>
<use href="#p" x="303" y="149"/>
<use href="#p" x="298" y="137"/>
<use href="#p" x="301" y="144"/>
<use href="#p" x="292" y="142"/>
<use href="#p" x="323" y="141"/>
<use href="#p" x="299" y="147"/>
<use href="#p" x="297" y="149"/>
<use href="#p" x="307" y="138"/>
<use href="#p" x="302" y="136"/>
<use href="#p" x="291" y="149"/>
<use href="#p" x="292" y="144"/>
<use href="#p" x="319" y="147"/>
<use href="#p" x="317" y="143"/>
<use href="#p" x="304" y="143"/>
<use href="#p" x="316" y="147"/>
<use href="#p" x="315" y="138"/>
<use href="#p" x="296" y="151"/>
<use href="#p" x="314" y="150"/>
<use href="#p" x="301" y="148"/>
<use href="#p" x="314" y="137"/>
<use href="#p" x="314" y="146"/>
<use href="#p" x="311" y="150"/>
<use href="#p" x="311" y="148"/>
<use href="#p" x="295" y="146"/>
<use href="#p" x="291" y="139"/>
<use href="#p" x="301" y="150"/>
<use href="#p" x="306" y="140"/>
<use href="#p" x="323" y="139"/>
<use href="#p" x="295" y="139"/>
<use href="#p" x="323" y="144"/>
<use href="#p" x="311" y="145"/>
<use href="#p" x="307" y="141"/>
<use href="#p" x="316" y="136"/>
<use href="#p" x="301" y="143"/>
<use href="#p" x="298" y="142"/>
<use href="#p" x="292" y="143"/>
<use href="#p" x="298" y="141"/>
<use href="#p" x="313" y="140"/>
<use href="#p" x="293" y="147"/>
<use href="#p" x="320" y="141"/>
<use href="#p" x="298" y="150"/>
<use href="#p" x="306" y="145"/>
<use href="#p" x="314" y="142"/>
<use href="#p" x="302" y="142"/>
<use href="#p" x="300" y="145"/>
<use href="#p" x="300" y="149"/>
<use href="#p" x="302" y="152"/>
<use href="#p" x="298" y="143"/>
<use href="#p" x="290" y="149"/>
<use href="#p" x="307" y="141"/>
<use href="#p" x="298" y="149"/>
<use href="#p" x="297" y="148"/>
<use href="#p" x="319" y="144"/>
<use href="#p" x="307" y="132"/>
<use href="#p" x="303" y="149"/>
<use href="#p" x="314" y="140"/>
<use href="#p" x="295" y="142"/>
<use href="#p" x="299" y="144"/>
<use href="#p" x="323" y="143"/>
<use href="#p" x="310" y="147"/>
<use href="#p" x="307" y="149"/>
<use href="#p" x="291" y="151"/>
<use href="#p" x="300" y="140"/>
<use href="#p" x="318" y="148"/>
<use href="#p" x="314" y="141"/>
<use href="#p" x="304" y="153"/>
<use href="#p" x="319" y="139"/>
<use href="#p" x="321" y="139"/>
<use href="#p" x="310" y="146"/>
<use href="#p" x="297" y="138"/>
<use href="#p" x="303" y="138"/>
<use href="#p" x="294" y="151"/>
<use href="#p" x="300" y="137"/>
<use href="#p" x="311" y="147"/>
<use href="#p" x="288" y="140"/>
<use href="#p" x="303" y="140"/>
<use href="#p" x="314" y="135"/>
<use href="#p" x="325" y="140"/>
<use href="#p" x="306" y="149"/>
<use href="#p" x="308" y="153"/>
<use href="#p" x="294" y="142"/>
<use href="#p" x="307" y="148"/>
<use href="#p" x="302" y="153"/>
<use href="#p" x="292" y="146"/>
<use href="#p" x="321" y="140"/>
<use href="#p" x="311" y="144"/>
<use href="#p" x="315" y="147"/>
<use href="#p" x="309" y="151"/>
<use href="#p" x="316" y="141"/>
<use href="#p" x="309" y="146"/>
<use href="#p" x="305" y="150"/>
<use href="#p" x="300" y="145"/>
<use href="#p" x="309" y="144"/>
<use href="#p" x="306" y="144"/>
<use href="#p" x="297" y="142"/>
<use href="#p" x="287" y="143"/>
<use href="#p" x="312" y="146"/>
<use href="#p" x="304" y="137"/>
<use href="#p" x="302" y="139"/>
<use href="#p" x="290" y="141"/>
<use href="#p" x="318" y="147"/>
<use href="#p" x="309" y="142"/>
<use href="#p" x="301" y="147"/>
<use href="#p" x="312" y="149"/>
<use href="#p" x="297" y="148"/>
<use href="#p" x="312" y="139"/>
<use href="#p" x="302" y="147"/>
<use href="#p" x="326" y="143"/>
<use href="#p" x="286" y="143"/>
<use href="#p" x="317" y="148"/>
<use href="#p" x="317" y="136"/>
<use href="#p" x="320" y="141"/>
<use href="#p" x="300" y="137"/>
<use href="#p" x="292" y="141"/>
<use href="#p" x="296" y="139"/>
<use href="#p" x="302" y="153"/>
<use href="#p" x="294" y="140"/>
<use href="#p" x="295" y="146"/>
<use href="#p" x="316" y="143"/>
<use href="#p" x="310" y="140"/>
<use href="#p" x="309" y="143"/>
<use href="#p" x="290" y="146"/>
<use href="#p" x="301" y="146"/>
<use href="#p" x="314" y="144"/>
<use href="#p" x="323" y="141"/>
<use href="#p" x="307" y="149"/>
<use href="#p" x="307" y="139"/>
<use href="#p" x="297" y="151"/>
<use href="#p" x="321" y="148"/>
<use href="#p" x="312" y="139"/>
<use href="#p" x="318" y="141"/>
<use href="#p" x="289" y="141"/>
<use href="#p" x="313" y="145"/>
<use href="#p" x="322" y="143"/>
<use href="#p" x="309" y="135"/>
<use href="#p" x="296" y="149"/>
<use href="#p" x="317" y="141"/>
<use href="#p" x="305" y="149"/>
<use href="#p" x="309" y="153"/>
<use href="#p" x="293" y="149"/>
<use href="#p" x="290" y="142"/>
<use href="#p" x="302" y="146"/>
<use href="#p" x="318" y="143"/>
<use href="#p" x="307" y="139"/>
<use href="#p" x="298" y="138"/>
<use href="#p" x="296" y="138"/>
<use href="#p" x="306" y="146"/>
<use href="#p" x="319" y="144"/>
<use href="#p" x="315" y="143"/>
<use href="#p" x="316" y="141"/>
<use href="#p" x="293" y="143"/>
<use href="#p" x="312" y="142"/>
<use href="#p" x="307" y="143"/>
<use href="#p" x="303" y="139"/>
<use href="#p" x="317" y="142"/>
<use href="#p" x="293" y="138"/>
<use href="#p" x="315" y="151"/>
<use href="#p" x="298" y="137"/>
<use href="#p" x="317" y="139"/>
<use href="#p" x="320" y="139"/>
<use href="#p" x="302" y="151"/>
<use href="#p" x="309" y="149"/>
<use href="#p" x="290" y="143"/>
<use href="#p" x="295" y="144"/>
<use href="#p" x="292" y="144"/>
<use href="#p" x="294" y="147"/>
<use href="#p" x="319" y="145"/>
<use href="#p" x="294" y="137"/>
<use href="#p" x="310" y="150"/>
<use href="#p" x="292" y="149"/>
<use href="#p" x="293" y="146"/>
<use href="#p" x="297" y="138"/>
<use href="#p" x="311" y="133"/>
<use href="#p" x="313" y="137"/>
<use href="#p" x="302" y="143"/>
<use href="#p" x="297" y="137"/>
<use href="#p" x="303" y="139"/>
<use href="#p" x="305" y="138"/>
<use href="#p" x="291" y="143"/>
<use href="#p" x="306" y="139"/>
<use href="#p" x="308" y="142"/>
<use href="#p" x="317" y="137"/>
<use href="#p" x="303" y="140"/>
<use href="#p" x="291" y="145"/>
<use href="#p" x="319" y="147"/>
<use href="#p" x="304" y="138"/>
<use href="#p" x="307" y="141"/>
<use href="#p" x="292" y="140"/>
<use href="#p" x="290" y="149"/>
<use href="#p" x="308" y="134"/>
<use href="#p" x="318" y="136"/>
<use href="#p" x="298" y="138"/>
<use href="#p" x="307" y="146"/>
<use href="#p" x="291" y="142"/>
<use href="#p" x="321" y="148"/>
<use href="#p" x="319" y="145"/>
<use href="#p" x="290" y="143"/>
<use href="#p" x="309" y="146"/>
<use href="#p" x="298" y="136"/>
<use href="#p" x="315" y="145"/>
<use href="#p" x="301" y="139"/>
<use href="#p" x="323" y="143"/>
<use href="#p" x="298" y="139"/>
<use href="#p" x="294" y="149"/>
<use href="#p" x="287" y="145"/>
<use href="#p" x="292" y="149"/>
<use href="#p" x="316" y="136"/>
<use href="#p" x="295" y="147"/>
<use href="#p" x="323" y="144"/>
<use href="#p" x="296" y="144"/>
<use href="#p" x="306" y="140"/>
<use href="#p" x="309" y="137"/>
<use href="#p" x="289" y="143"/>
<use href="#p" x="315" y="150"/>
<use href="#p" x="320" y="138"/>
<use href="#p" x="313" y="147"/>
<use href="#p" x="305" y="150"/>
<use href="#p" x="321" y="138"/>
<use href="#p" x="303" y="142"/>
<use href="#p" x="288" y="138"/>
<use href="#p" x="316" y="145"/>
<use href="#p" x="298" y="137"/>
<use href="#p" x="320" y="145"/>
<use href="#p" x="300" y="151"/>
<use href="#p" x="303" y="144"/>
<use href="#p" x="292" y="149"/>
<use href="#p" x="316" y="143"/>
<use href="#p" x="296" y="147"/>
<use href="#p" x="312" y="133"/>
<use href="#p" x="313" y="148"/>
<use href="#p" x="293" y="148"/>
<use href="#p" x="312" y="142"/>
<use href="#p" x="311" y="149"/>
<use href="#p" x="292" y="143"/>
<use href="#p" x="305" y="145"/>
<use href="#p" x="313" y="151"/>
<use href="#p" x="310" y="145"/>
<use href="#p" x="307" y="136"/>
<use href="#p" x="301" y="143"/>
<use href="#p" x="302" y="150"/>
<use href="#p" x="307" y="149"/>
<use href="#p" x="298" y="147"/>
<use href="#p" x="297" y="136"/>
<use href="#p" x="312" y="144"/>
<use href="#p" x="293" y="149"/>
<use href="#p" x="317" y="149"/>
<use href="#p" x="312" y="142"/>
<use href="#p" x="310" y="140"/>
<use href="#p" x="314" y="143"/>
<use href="#p" x="293" y="140"/>
<use href="#p" x="303" y="138"/>
<use href="#p" x="310" y="148"/>
<use href="#p" x="313" y="150"/>
<use href="#p" x="297" y="152"/>
<use href="#p" x="295" y="145"/>
<use href="#p" x="308" y="153"/>
<use href="#p" x="302" y="150"/>
<use href="#p" x="301" y="145"/>
<use href="#p" x="289" y="145"/>
<use href="#p" x="311" y="146"/>
<use href="#p" x="293" y="137"/>
<use href="#p" x="317" y="148"/>
<use href="#p" x="308" y="143"/>
<use href="#p" x="290" y="143"/>
<use href="#p" x="304" y="143"/>
<use href="#p" x="292" y="148"/>
<use href="#p" x="305" y="151"/>
<use href="#p" x="291" y="137"/>
<use href="#p" x="316" y="140"/>
<use href="#p" x="288" y="148"/>
<use href="#p" x="292" y="142"/>
<use href="#p" x="298" y="147"/>
<use href="#p" x="311" y="150"/>
<use href="#p" x="314" y="143"/>
<use href="#p" x="313" y="138"/>
<use href="#p" x="296" y="149"/>
<use href="#p" x="313" y="138"/>
<use href="#p" x="303" y="153"/>
<use href="#p" x="298" y="151"/>
<use href="#p" x="291" y="149"/>
<use href="#p" x="302" y="146"/>
<use href="#p" x="290" y="146"/>
<use href="#p" x="307" y="151"/>
<use href="#p" x="309" y="137"/>
<use href="#p" x="304" y="145"/>
<use href="#p" x="296" y="139"/>
<use href="#p" x="305" y="149"/>
<use href="#p" x="289" y="148"/>
<use href="#p" x="307" y="147"/>
<use href="#p" x="309" y="147"/>
<use href="#p" x="316" y="150"/>
<use href="#p" x="295" y="144"/>
<use href="#p" x="297" y="151"/>
<use href="#p" x="312" y="145"/>
<use href="#p" x="300" y="141"/>
<use href="#p" x="314" y="150"/>
<use href="#p" x="305" y="151"/>
<use href="#p" x="287" y="147"/>
<use href="#p" x="316" y="141"/>
<use href="#p" x="317" y="149"/>
<use href="#p" x="320" y="136"/>
<use href="#p" x="310" y="134"/>
<use href="#p" x="317" y="147"/>
<use href="#p" x="319" y="147"/>
<use href="#p" x="291" y="149"/>
<use href="#p" x="288" y="149"/>
<use href="#p" x="309" y="143"/>
<use href="#p" x="315" y="149"/>
<use href="#p" x="309" y="135"/>
<use href="#p" x="308" y="143"/>
<use href="#p" x="320" y="137"/>
<use href="#p" x="316" y="143"/>
<use href="#p" x="319" y="148"/>
<use href="#p" x="287" y="145"/>
<use href="#p" x="310" y="140"/>
<use href="#p" x="303" y="147"/>
<use href="#p" x="321" y="141"/>
<use href="#p" x="303" y="143"/>
<use href="#p" x="291" y="149"/>
<use href="#p" x="315" y="137"/>
<use href="#p" x="325" y="144"/>
<use href="#p" x="313" y="137"/>
<use href="#p" x="309" y="141"/>
<use href="#p" x="310" y="152"/>
<use href="#p" x="310" y="137"/>
<use href="#p" x="306" y="145"/>
<use href="#p" x="307" y="135"/>
<use href="#p" x="305" y="150"/>
<use href="#p" x="309" y="152"/>
<use href="#p" x="295" y="138"/>
<use href="#p" x="287" y="143"/>
<use href="#p" x="305" y="153"/>
<use href="#p" x="324" y="140"/>
<use href="#p" x="309" y="145"/>
<use href="#p" x="289" y="139"/>
<use href="#p" x="287" y="141"/>
<use href="#p" x="309" y="146"/>
<use href="#p" x="312" y="151"/>
<use href="#p" x="290" y="138"/>
<use href="#p" x="297" y="136"/>
<use href="#p" x="302" y="137"/>
<use href="#p" x="288" y="145"/>
<use href="#p" x="322" y="140"/>
<use href="#p" x="295" y="147"/>
<use href="#p" x="323" y="143"/>
<use href="#p" x="321" y="144"/>
<use href="#p" x="315" y="142"/>
<use href="#p" x="313" y="137"/>
<use href="#p" x="314" y="138"/>
<use href="#p" x="301" y="139"/>
<use href="#p" x="307" y="149"/>
<use href="#p" x="320" y="144"/>
<use href="#p" x="315" y="148"/>
<use href="#p" x="323" y="144"/>
<use href="#p" x="308" y="143"/>
<use href="#p" x="293" y="138"/>
<use href="#p" x="316" y="135"/>
<use href="#p" x="315" y="141"/>
<use href="#p" x="300" y="139"/>
<use href="#p" x="286" y="149"/>
<use href="#p" x="287" y="146"/>
<use href="#p" x="305" y="148"/>
<use href="#p" x="301" y="150"/>
<use href="#p" x="319" y="143"/>
<use href="#p" x="295" y="149"/>
<use href="#p" x="313" y="144"/>
<use href="#p" x="298" y="137"/>
<use href="#p" x="315" y="146"/>
<use href="#p" x="293" y="146"/>
<use href="#p" x="293" y="137"/>
<use href="#p" x="317" y="138"/>
<use href="#p" x="324" y="144"/>
<use href="#p" x="290" y="139"/>
<use href="#p" x="306" y="148"/>
<use href="#p" x="297" y="148"/>
<use href="#p" x="307" y="137"/>
<use href="#p" x="294" y="151"/>
<use href="#p" x="320" y="141"/>
<use href="#p" x="304" y="147"/>
<use href="#p" x="322" y="145"/>
<use href="#p" x="312" y="147"/>
<use href="#p" x="296" y="143"/>
<use href="#p" x="302" y="152"/>
<use href="#p" x="289" y="144"/>
<use href="#p" x="318" y="147"/>
<use href="#p" x="287" y="142"/>
<use href="#p" x="309" y="135"/>
<use href="#p" x="305" y="142"/>
<use href="#p" x="287" y="147"/>
<use href="#p" x="302" y="150"/>
<use href="#p" x="302" y="136"/>
<use href="#p" x="306" y="142"/>
<use href="#p" x="293" y="142"/>
<use href="#p" x="304" y="138"/>
<use href="#p" x="306" y="139"/>
<use href="#p" x="297" y="151"/>
<use href="#p" x="298" y="141"/>
<use href="#p" x="298" y="149"/>
<use href="#p" x="315" y="137"/>
<use href="#p" x="294" y="145"/>
<use href="#p" x="304" y="138"/>
<use href="#p" x="294" y="148"/>
<use href="#p" x="313" y="152"/>
<use href="#p" x="321" y="148"/>
<use href="#p" x="320" y="140"/>
<use href="#p" x="296" y="148"/>
<use href="#p" x="302" y="134"/>
<use href="#p" x="300" y="140"/>
<use href="#p" x="316" y="142"/>
<use href="#p" x="293" y="145"/>
<use href="#p" x="321" y="145"/>
<use href="#p" x="302" y="148"/>
<use href="#p" x="296" y="141"/>
<use href="#p" x="291" y="140"/>
<use href="#p" x="290" y="147"/>
<use href="#p" x="293" y="142"/>
<use href="#p" x="293" y="139"/>
<use href="#p" x="298" y="148"/>
<use href="#p" x="294" y="141"/>
<use href="#p" x="301" y="142"/>
<use href="#p" x="302" y="145"/>
<use href="#p" x="310" y="139"/>
<use href="#p" x="310" y="149"/>
<use href="#p" x="300" y="134"/>
<use href="#p" x="311" y="151"/>
<use href="#p" x="291" y="145"/>
<use href="#p" x="301" y="138"/>
<use href="#p" x="300" y="146"/>
<use href="#p" x="308" y="137"/>
<use href="#p" x="322" y="143"/>
<use href="#p" x="307" y="151"/>
<use href="#p" x="309" y="146"/>
<use href="#p" x="299" y="140"/>
<use href="#p" x="307" y="139"/>
<use href="#p" x="315" y="145"/>
<use href="#p" x="314" y="146"/>
<use href="#p" x="293" y="141"/>
<use href="#p" x="313" y="141"/>
<use href="#p" x="307" y="146"/>
<use href="#p" x="296" y="141"/>
<use href="#p" x="289" y="145"/>
<use href="#p" x="321" y="148"/>
<use href="#p" x="319" y="137"/>
<use href="#p" x="292" y="149"/>
<use href="#p" x="306" y="142"/>
<use href="#p" x="308" y="144"/>
<use href="#p" x="312" y="137"/>
<use href="#p" x="288" y="147"/>
<use href="#p" x="302" y="137"/>
<use href="#p" x="319" y="144"/>
<use href="#p" x="307" y="143"/>
<use href="#p" x="288" y="139"/>
<use href="#p" x="309" y="145"/>
<use href="#p" x="295" y="148"/>
<use href="#p" x="305" y="147"/>
<use href="#p" x="296" y="138"/>
<use href="#p" x="305" y="139"/>
<use href="#p" x="313" y="141"/>
<use href="#p" x="292" y="148"/>
<use href="#p" x="301" y="150"/>
<use href="#p" x="301" y="140"/>
<use href="#p" x="319" y="142"/>
<use href="#p" x="299" y="144"/>
<use href="#p" x="305" y="143"/>
<use href="#p" x="293" y="141"/>
<use href="#p" x="315" y="138"/>
<use href="#p" x="297" y="148"/>
<use href="#p" x="319" y="138"/>
<use href="#p" x="309" y="140"/>
<use href="#p" x="316" y="143"/>
<use href="#p" x="315" y="144"/>
<use href="#p" x="307" y="139"/>
<use href="#p" x="294" y="145"/>
<use href="#p" x="309" y="144"/>
<use href="#p" x="306" y="147"/>
<use href="#p" x="311" y="152"/>
<use href="#p" x="310" y="137"/>
<use href="#p" x="294" y="150"/>
<use href="#p" x="309" y="145"/>
<use href="#p" x="290" y="146"/>
<use href="#p" x="309" y="137"/>
<use href="#p" x="311" y="143"/>
<use href="#p" x="297" y="152"/>
<use href="#p" x="289" y="150"/>
<use href="#p" x="298" y="151"/>
<use href="#p" x="288" y="145"/>
<use href="#p" x="310" y="148"/>
<use href="#p" x="297" y="139"/>
<use href="#p" x="294" y="138"/>
<use href="#p" x="309" y="149"/>
<use href="#p" x="307" y="147"/>
<use href="#p" x="319" y="136"/>
<use href="#p" x="316" y="140"/>
<use href="#p" x="289" y="144"/>
<use href="#p" x="296" y="142"/>
<use href="#p" x="313" y="143"/>
<use href="#p" x="323" y="142"/>
<use href="#p" x="295" y="145"/>
<use href="#p" x="303" y="142"/>
<use href="#p" x="307" y="144"/>
<use href="#p" x="316" y="144"/>
<use href="#p" x="313" y="143"/>
<use href="#p" x="305" y="150"/>
<use href="#p" x="296" y="149"/>
<use href="#p" x="294" y="151"/>
<use href="#p" x="291" y="138"/>
<use href="#p" x="317" y="145"/>
<use href="#p" x="295" y="152"/>
<use href="#p" x="315" y="139"/>
<use href="#p" x="299" y="148"/>
<use href="#p" x="314" y="146"/>
<use href="#p" x="323" y="138"/>
<use href="#p" x="306" y="150"/>
<use href="#p" x="293" y="151"/>
<use href="#p" x="291" y="139"/>
<use href="#p" x="301" y="150"/>
<use href="#p" x="321" y="138"/>
<use href="#p" x="300" y="137"/>
<use href="#p" x="290" y="151"/>
<use href="#p" x="302" y="145"/>
<use href="#p" x="309" y="150"/>
<use href="#p" x="305" y="143"/>
<use href="#p" x="316" y="137"/>
<use href="#p" x="317" y="148"/>
<use href="#p" x="304" y="138"/>
<use href="#p" x="319" y="142"/>
<use href="#p" x="292" y="145"/>
<use href="#p" x="306" y="138"/>
<use href="#p" x="303" y="137"/>
<use href="#p" x="319" y="144"/>
<use href="#p" x="318" y="149"/>
<use href="#p" x="291" y="148"/>
<use href="#p" x="287" y="145"/>
<use href="#p" x="317" y="140"/>
<use href="#p" x="310" y="147"/>
<use href="#p" x="321" y="145"/>
<use href="#p" x="300" y="147"/>
<use href="#p" x="291" y="145"/>
<use href="#p" x="304" y="140"/>
<use href="#p" x="312" y="151"/>
<use href="#p" x="292" y="138"/>
<use href="#p" x="309" y="136"/>
<use href="#p" x="301" y="138"/>
<use href="#p" x="320" y="145"/>
<use href="#p" x="294" y="144"/>
<use href="#p" x="290" y="146"/>
<use href="#p" x="288" y="142"/>
<use href="#p" x="297" y="137"/>
<use href="#p" x="320" y="139"/>
<use href="#p" x="291" y="147"/>
<use href="#p" x="291" y="144"/>
<use href="#p" x="314" y="144"/>
<use href="#p" x="317" y="141"/>
<use href="#p" x="310" y="148"/>
<use href="#p" x="301" y="152"/>
<use href="#p" x="298" y="151"/>
<use href="#p" x="296" y="144"/>
<use href="#p" x="308" y="145"/>
<use href="#p" x="304" y="137"/>
<use href="#p" x="310" y="147"/>
<use href="#p" x="311" y="147"/>
<use href="#p" x="311" y="137"/>
<use href="#p" x="312" y="136"/>
<use href="#p" x="286" y="143"/>
<use href="#p" x="325" y="141"/>
<use href="#p" x="312" y="135"/>
<use href="#p" x="322" y="141"/>
<use href="#p" x="316" y="137"/>
<use href="#p" x="290" y="140"/>
<use href="#p" x="301" y="147"/>
<use href="#p" x="298" y="133"/>
<use href="#p" x="304" y="148"/>
<use href="#p" x="308" y="153"/>
<use href="#p" x="299" y="142"/>
<use href="#p" x="300" y="139"/>
<use href="#p" x="294" y="148"/>
<use href="#p" x="292" y="149"/>
<use href="#p" x="315" y="147"/>
<use href="#p" x="320" y="142"/>
<use href="#p" x="310" y="141"/>
<use href="#p" x="316" y="145"/>
<use href="#p" x="310" y="140"/>
<use href="#p" x="302" y="138"/>
<use href="#p" x="289" y="149"/>
<use href="#p" x="296" y="142"/>
<use href="#p" x="302" y="148"/>
<use href="#p" x="289" y="145"/>
<use href="#p" x="309" y="140"/>
<use href="#p" x="289" y="139"/>
<use href="#p" x="320" y="149"/>
<use href="#p" x="294" y="151"/>
<use href="#p" x="309" y="145"/>
<use href="#p" x="286" y="146"/>
<use href="#p" x="321" y="145"/>
<use href="#p" x="307" y="142"/>
<use href="#p" x="307" y="148"/>
<use href="#p" x="301" y="139"/>
<use href="#p" x="321" y="144"/>
<use href="#p" x="299" y="138"/>
<use href="#p" x="293" y="142"/>
<use href="#p" x="294" y="141"/>
<use href="#p" x="310" y="144"/>
<use href="#p" x="299" y="151"/>
<use href="#p" x="286" y="144"/>
<use href="#p" x="322" y="147"/>
<use href="#p" x="318" y="141"/>
<use href="#p" x="306" y="137"/>
<use href="#p" x="296" y="141"/>
<use href="#p" x="315" y="141"/>
<use href="#p" x="295" y="151"/>
<use href="#p" x="325" y="143"/>
<use href="#p" x="295" y="147"/>
<use href="#p" x="322" y="142"/>
<use href="#p" x="318" y="149"/>
<use href="#p" x="325" y="142"/>
<use href="#p" x="297" y="143"/>
<use href="#p" x="286" y="146"/>
<use href="#p" x="310" y="139"/>
<use href="#p" x="303" y="142"/>
<use href="#p" x="289" y="141"/>
<use href="#p" x="299" y="135"/>
<use href="#p" x="303" y="153"/>
<use href="#p" x="288" y="147"/>
<use href="#p" x="293" y="147"/>
<use href="#p" x="298" y="137"/>
<use href="#p" x="313" y="146"/>
<use href="#p" x="316" y="138"/>
<use href="#p" x="299" y="140"/>
<use href="#p" x="309" y="149"/>
<use href="#p" x="323" y="142"/>
<use href="#p" x="317" y="143"/>
<use href="#p" x="289" y="149"/>
<use href="#p" x="312" y="136"/>
<use href="#p" x="316" y="147"/>
<use href="#p" x="318" y="144"/>
<use href="#p" x="290" y="146"/>
<use href="#p" x="310" y="148"/>
<use href="#p" x="305" y="146"/>
<use href="#p" x="301" y="134"/>
<use href="#p" x="316" y="137"/>
<use href="#p" x="301" y="144"/>
<use href="#p" x="290" y="141"/>
<use href="#p" x="296" y="135"/>
<use href="#p" x="306" y="150"/>
<use href="#p" x="307" y="153"/>
<use href="#p" x="321" y="139"/>
<use href="#p" x="321" y="139"/>
<use href="#p" x="321" y="142"/>
<use href="#p" x="291" y="144"/>
<use href="#p" x="300" y="139"/>
<use href="#p" x="301" y="145"/>
<use href="#p" x="303" y="138"/>
<use href="#p" x="302" y="141"/>
<use href="#p" x="291" y="141"/>
<use href="#p" x="298" y="147"/>
<use href="#p" x="305" y="143"/>
<use href="#p" x="304" y="150"/>
<use href="#p" x="312" y="150"/>
<use href="#p" x="292" y="141"/>
<use href="#p" x="302" y="151"/>
<use href="#p" x="311" y="148"/>
<use href="#p" x="302" y="140"/>
<use href="#p" x="310" y="147"/>
<use href="#p" x="320" y="146"/>
<use href="#p" x="324" y="147"/>
<use href="#p" x="307" y="147"/>
<use href="#p" x="295" y="138"/>
<use href="#p" x="303" y="151"/>
<use href="#p" x="294" y="144"/>
<use href="#p" x="299" y="139"/>
<use href="#p" x="319" y="140"/>
<use href="#p" x="290" y="148"/>
<use href="#p" x="314" y="148"/>
<use href="#p" x="312" y="151"/>
<use href="#p" x="297" y="142"/>
<use href="#p" x="314" y="147"/>
<use href="#p" x="303" y="148"/>
<use href="#p" x="308" y="149"/>
<use href="#p" x="294" y="150"/>
<use href="#p" x="290" y="140"/>
<use href="#p" x="302" y="137"/>
<use href="#p" x="301" y="151"/>
<use href="#p" x="291" y="146"/>
<use href="#p" x="291" y="151"/>
<use href="#p" x="296" y="137"/>
<use href="#p" x="315" y="152"/>
<use href="#p" x="322" y="143"/>
<use href="#p" x="319" y="144"/>
<use href="#p" x="298" y="140"/>
<use href="#p" x="305" y="147"/>
<use href="#p" x="308" y="144"/>
<use href="#p" x="308" y="140"/>
<use href="#p" x="297" y="144"/>
<use href="#p" x="307" y="140"/>
<use href="#p" x="301" y="149"/>
<use href="#p" x="317" y="138"/>
<use href="#p" x="320" y="138"/>
<use href="#p" x="315" y="144"/>
<use href="#p" x="295" y="154"/>
<use href="#p" x="325" y="140"/>
<use href="#p" x="298" y="136"/>
<use href="#p" x="311" y="152"/>
<use href="#p" x="315" y="146"/>
<use href="#p" x="301" y="137"/>
<use href="#p" x="309" y="136"/>
<use href="#p" x="305" y="135"/>
<use href="#p" x="302" y="147"/>
<use href="#p" x="308" y="141"/>
<use href="#p" x="310" y="145"/>
<use href="#p" x="305" y="150"/>
<use href="#p" x="314" y="149"/>
<use href="#p" x="299" y="137"/>
<use href="#p" x="315" y="148"/>
<use href="#p" x="309" y="133"/>
<use href="#p" x="311" y="135"/>
<use href="#p" x="317" y="141"/>
<use href="#p" x="291" y="140"/>
<use href="#p" x="286" y="153"/>
<use href="#p" x="293" y="149"/>
<use href="#p" x="313" y="150"/>
<use href="#p" x="319" y="142"/>
<use href="#p" x="290" y="151"/>
<use href="#p" x="281" y="149"/>
<use href="#p" x="300" y="141"/>
<use href="#p" x="311" y="133"/>
<use href="#p" x="297" y="140"/>
<use href="#p" x="298" y="155"/>
<use href="#p" x="301" y="149"/>
<use href="#p" x="291" y="146"/>
<use href="#p" x="320" y="152"/>
<use href="#p" x="289" y="141"/>
<use href="#p" x="299" y="148"/>
<use href="#p" x="301" y="130"/>
<use href="#p" x="308" y="135"/>
<use href="#p" x="304" y="144"/>
<use href="#p" x="298" y="149"/>
<use href="#p" x="307" y="136"/>
<use href="#p" x="303" y="152"/>
<use href="#p" x="307" y="143"/>
<use href="#p" x="295" y="144"/>
<use href="#p" x="294" y="141"/>
<use href="#p" x="279" y="150"/>
<use href="#p" x="317" y="137"/>
<use href="#p" x="321" y="141"/>
<use href="#p" x="301" y="132"/>
<use href="#p" x="327" y="144"/>
<use href="#p" x="307" y="149"/>
<use href="#p" x="316" y="137"/>
<use href="#p" x="294" y="137"/>
<use href="#p" x="315" y="144"/>
<use href="#p" x="312" y="143"/>
<use href="#p" x="306" y="147"/>
<use href="#p" x="312" y="150"/>
<use href="#p" x="286" y="140"/>
<use href="#p" x="325" y="148"/>
<use href="#p" x="301" y="134"/>
<use href="#p" x="324" y="149"/>
<use href="#p" x="300" y="145"/>
<use href="#p" x="300" y="140"/>
<use href="#p" x="315" y="141"/>
<use href="#p" x="302" y="139"/>
<use href="#p" x="302" y="131"/>
<use href="#p" x="305" y="139"/>
<use href="#p" x="296" y="143"/>
<use href="#p" x="294" y="139"/>
<use href="#p" x="313" y="135"/>
<use href="#p" x="285" y="146"/>
<use href="#p" x="301" y="148"/>
<use href="#p" x="321" y="145"/>
<use href="#p" x="286" y="144"/>
<use href="#p" x="321" y="150"/>
<use href="#p" x="304" y="140"/>
<use href="#p" x="316" y="153"/>
<use href="#p" x="312" y="150"/>
<use href="#p" x="282" y="147"/>
<use href="#p" x="312" y="145"/>
<use href="#p" x="294" y="147"/>
<use href="#p" x="311" y="139"/>
<use href="#p" x="287" y="152"/>
<use href="#p" x="318" y="137"/>
<use href="#p" x="289" y="146"/>
<use href="#p" x="313" y="154"/>
<use href="#p" x="306" y="133"/>
<use href="#p" x="330" y="141"/>
<use href="#p" x="294" y="150"/>
<use href="#p" x="292" y="137"/>
<use href="#p" x="317" y="133"/>
<use href="#p" x="317" y="145"/>
<use href="#p" x="302" y="145"/>
<use href="#p" x="309" y="156"/>
<use href="#p" x="283" y="139"/>
<use href="#p" x="295" y="135"/>
<use href="#p" x="311" y="157"/>
<use href="#p" x="294" y="139"/>
<use href="#p" x="322" y="142"/>
<use href="#p" x="279" y="137"/>
<use href="#p" x="314" y="143"/>
<use href="#p" x="294" y="143"/>
<use href="#p" x="314" y="139"/>
<use href="#p" x="308" y="145"/>
<use href="#p" x="285" y="136"/>
<use href="#p" x="330" y="142"/>
<use href="#p" x="307" y="150"/>
<use href="#p" x="318" y="140"/>
<use href="#p" x="323" y="137"/>
<use href="#p" x="316" y="140"/>
<use href="#p" x="298" y="142"/>
<use href="#p" x="299" y="145"/>
<use href="#p" x="281" y="147"/>
<use href="#p" x="295" y="146"/>
<use href="#p" x="306" y="155"/>
<use href="#p" x="302" y="148"/>
<use href="#p" x="308" y="141"/>
<use href="#p" x="290" y="143"/>
<use href="#p" x="320" y="139"/>
<use href="#p" x="303" y="155"/>
<use href="#p" x="314" y="135"/>
<use href="#p" x="328" y="142"/>
<use href="#p" x="300" y="141"/>
<use href="#p" x="321" y="147"/>
<use href="#p" x="306" y="154"/>
<use href="#p" x="307" y="135"/>
<use href="#p" x="293" y="143"/>
<use href="#p" x="287" y="141"/>
<use href="#p" x="312" y="141"/>
<use href="#p" x="321" y="148"/>
<use href="#p" x="306" y="147"/>
<use href="#p" x="287" y="145"/>
<use href="#p" x="311" y="138"/>
<use href="#p" x="302" y="154"/>
<use href="#p" x="302" y="141"/>
<use href="#p" x="294" y="139"/>
<use href="#p" x="303" y="149"/>
<use href="#p" x="305" y="136"/>
<use href="#p" x="314" y="149"/>
<use href="#p" x="286" y="138"/>
<use href="#p" x="308" y="147"/>
<use href="#p" x="307" y="146"/>
<use href="#p" x="323" y="144"/>
<use href="#p" x="303" y="139"/>
<use href="#p" x="285" y="147"/>
<use href="#p" x="295" y="144"/>
<use href="#p" x="286" y="146"/>
<use href="#p" x="322" y="149"/>
<use href="#p" x="305" y="147"/>
<use href="#p" x="306" y="138"/>
<use href="#p" x="310" y="140"/>
<use href="#p" x="309" y="138"/>
<use href="#p" x="299" y="147"/>
<use href="#p" x="322" y="139"/>
<use href="#p" x="288" y="147"/>
<use href="#p" x="286" y="142"/>
<use href="#p" x="295" y="155"/>
<use href="#p" x="303" y="145"/>
<use href="#p" x="293" y="143"/>
<use href="#p" x="289" y="152"/>
<use href="#p" x="281" y="143"/>
<use href="#p" x="289" y="143"/>
<use href="#p" x="317" y="154"/>
<use href="#p" x="304" y="146"/>
<use href="#p" x="322" y="149"/>
<use href="#p" x="312" y="137"/>
<use href="#p" x="284" y="143"/>
<use href="#p" x="306" y="134"/>
<use href="#p" x="297" y="152"/>
<use href="#p" x="321" y="153"/>
<use href="#p" x="325" y="147"/>
<use href="#p" x="290" y="142"/>
<use href="#p" x="291" y="141"/>
<use href="#p" x="299" y="135"/>
<use href="#p" x="296" y="140"/>
<use href="#p" x="317" y="146"/>
<use href="#p" x="315" y="138"/>
<use href="#p" x="310" y="138"/>
<use href="#p" x="318" y="134"/>
<use href="#p" x="311" y="135"/>
<use href="#p" x="301" y="155"/>
<use href="#p" x="322" y="139"/>
<use href="#p" x="309" y="140"/>
<use href="#p" x="294" y="148"/>
<use href="#p" x="298" y="139"/>
<use href="#p" x="289" y="142"/>
<use href="#p" x="299" y="142"/>
<use href="#p" x="286" y="150"/>
<use href="#p" x="312" y="150"/>
<use href="#p" x="295" y="153"/>
<use href="#p" x="318" y="141"/>
<use href="#p" x="292" y="140"/>
<use href="#p" x="306" y="149"/>
<use href="#p" x="292" y="136"/>
<use href="#p" x="327" y="145"/>
<use href="#p" x="323" y="142"/>
<use href="#p" x="293" y="145"/>
<use href="#p" x="294" y="140"/>
<use href="#p" x="310" y="144"/>
<use href="#p" x="300" y="145"/>
<use href="#p" x="294" y="139"/>
<use href="#p" x="322" y="141"/>
<use href="#p" x="305" y="139"/>
<use href="#p" x="316" y="137"/>
<use href="#p" x="279" y="144"/>
<use href="#p" x="323" y="142"/>
<use href="#p" x="328" y="140"/>
<use href="#p" x="321" y="133"/>
<use href="#p" x="283" y="136"/>
<use href="#p" x="302" y="136"/>
<use href="#p" x="312" y="153"/>
<use href="#p" x="283" y="143"/>
<use href="#p" x="301" y="133"/>
<use href="#p" x="318" y="140"/>
<use href="#p" x="296" y="137"/>
<use href="#p" x="312" y="153"/>
<use href="#p" x="322" y="147"/>
<use href="#p" x="300" y="152"/>
<use href="#p" x="295" y="138"/>
<use href="#p" x="310" y="143"/>
<use href="#p" x="283" y="137"/>
<use href="#p" x="326" y="142"/>
<use href="#p" x="310" y="136"/>
<use href="#p" x="309" y="143"/>
<use href="#p" x="322" y="142"/>
<use href="#p" x="293" y="141"/>
<use href="#p" x="323" y="135"/>
<use href="#p" x="314" y="145"/>
<use href="#p" x="287" y="146"/>
<use href="#p" x="302" y="138"/>
<use href="#p" x="292" y="139"/>
<use href="#p" x="278" y="151"/>
<use href="#p" x="284" y="141"/>
<use href="#p" x="297" y="137"/>
<use href="#p" x="308" y="134"/>
<use href="#p" x="307" y="136"/>
<use href="#p" x="317" y="138"/>
<use href="#p" x="287" y="154"/>
<use href="#p" x="318" y="152"/>
<use href="#p" x="318" y="146"/>
<use href="#p" x="320" y="152"/>
<use href="#p" x="312" y="140"/>
<use href="#p" x="290" y="150"/>
<use href="#p" x="291" y="150"/>
<use href="#p" x="290" y="142"/>
<use href="#p" x="289" y="141"/>
<use href="#p" x="310" y="148"/>
<use href="#p" x="313" y="130"/>
<use href="#p" x="282" y="142"/>
<use href="#p" x="316" y="150"/>
<use href="#p" x="321" y="143"/>
<use href="#p" x="301" y="129"/>
<use href="#p" x="317" y="133"/>
<use href="#p" x="317" y="139"/>
<use href="#p" x="303" y="150"/>
<use href="#p" x="315" y="140"/>
<use href="#p" x="299" y="144"/>
<use href="#p" x="283" y="142"/>
<use href="#p" x="294" y="148"/>
<use href="#p" x="315" y="149"/>
<use href="#p" x="283" y="144"/>
<use href="#p" x="305" y="145"/>
<use href="#p" x="285" y="147"/>
<use href="#p" x="293" y="151"/>
<use href="#p" x="287" y="144"/>
<use href="#p" x="328" y="136"/>
<use href="#p" x="305" y="143"/>
<use href="#p" x="314" y="134"/>
<use href="#p" x="290" y="145"/>
<use href="#p" x="286" y="144"/>
<use href="#p" x="295" y="133"/>
<use href="#p" x="296" y="143"/>
<use href="#p" x="311" y="133"/>
<use href="#p" x="300" y="151"/>
<use href="#p" x="294" y="153"/>
<use href="#p" x="296" y="134"/>
<use href="#p" x="320" y="142"/>
<use href="#p" x="317" y="144"/>
<use href="#p" x="312" y="137"/>
<use href="#p" x="296" y="150"/>
<use href="#p" x="299" y="147"/>
<use href="#p" x="305" y="137"/>
<use href="#p" x="304" y="139"/>
<use href="#p" x="319" y="153"/>
<use href="#p" x="307" y="137"/>
<use href="#p" x="308" y="134"/>
<use href="#p" x="320" y="136"/>
<use href="#p" x="298" y="141"/>
<use href="#p" x="306" y="151"/>
<use href="#p" x="303" y="150"/>
<use href="#p" x="328" y="141"/>
<use href="#p" x="300" y="133"/>
<use href="#p" x="292" y="146"/>
<use href="#p" x="299" y="138"/>
<use href="#p" x="312" y="141"/>
<use href="#p" x="295" y="142"/>
<use href="#p" x="321" y="138"/>
<use href="#p" x="310" y="147"/>
<use href="#p" x="293" y="133"/>
<use href="#p" x="304" y="142"/>
<use href="#p" x="318" y="141"/>
<use href="#p" x="311" y="143"/>
<use href="#p" x="292" y="150"/>
<use href="#p" x="307" y="150"/>
<use href="#p" x="314" y="142"/>
<use href="#p" x="320" y="147"/>
<use href="#p" x="312" y="140"/>
<use href="#p" x="308" y="139"/>
<use href="#p" x="304" y="141"/>
<use href="#p" x="300" y="159"/>
<use href="#p" x="296" y="143"/>
<use href="#p" x="299" y="134"/>
<use href="#p" x="312" y="139"/>
<use href="#p" x="292" y="150"/>
<use href="#p" x="318" y="145"/>
<use href="#p" x="290" y="149"/>
<use href="#p" x="292" y="149"/>
<use href="#p" x="310" y="148"/>
<use href="#p" x="303" y="138"/>
<use href="#p" x="314" y="151"/>
<use href="#p" x="304" y="133"/>
<use href="#p" x="311" y="148"/>
<use href="#p" x="285" y="145"/>
<use href="#p" x="282" y="142"/>
<use href="#p" x="312" y="141"/>
<use href="#p" x="305" y="144"/>
<use href="#p" x="307" y="151"/>
<use href="#p" x="305" y="142"/>
<use href="#p" x="314" y="152"/>
<use href="#p" x="309" y="135"/>
<use href="#p" x="308" y="155"/>
<use href="#p" x="303" y="137"/>
<use href="#p" x="310" y="129"/>
<use href="#p" x="320" y="149"/>
<use href="#p" x="322" y="146"/>
<use href="#p" x="307" y="136"/>
<use href="#p" x="309" y="146"/>
<use href="#p" x="315" y="148"/>
<use href="#p" x="297" y="145"/>
<use href="#p" x="303" y="147"/>
<use href="#p" x="308" y="145"/>
<use href="#p" x="306" y="145"/>
<use href="#p" x="318" y="146"/>
<use href="#p" x="281" y="148"/>
<use href="#p" x="325" y="146"/>
<use href="#p" x="303" y="138"/>
<use href="#p" x="323" y="143"/>
<use href="#p" x="324" y="146"/>
<use href="#p" x="293" y="149"/>
<use href="#p" x="322" y="140"/>
<use href="#p" x="316" y="146"/>
<use href="#p" x="306" y="149"/>
<use href="#p" x="319" y="149"/>
<use href="#p" x="309" y="142"/>
<use href="#p" x="320" y="137"/>
<use href="#p" x="304" y="145"/>
<use href="#p" x="299" y="145"/>
<use href="#p" x="296" y="152"/>
<use href="#p" x="314" y="151"/>
<use href="#p" x="306" y="134"/>
<use href="#p" x="303" y="148"/>
<use href="#p" x="292" y="149"/>
<use href="#p" x="294" y="136"/>
<use href="#p" x="316" y="151"/>
<use href="#p" x="319" y="134"/>
<use href="#p" x="306" y="133"/>
<use href="#p" x="299" y="149"/>
<use href="#p" x="294" y="154"/>
<use href="#p" x="316" y="139"/>
<use href="#p" x="312" y="134"/>
<use href="#p" x="313" y="133"/>
<use href="#p" x="309" y="143"/>
<use href="#p" x="295" y="137"/>
<use href="#p" x="314" y="137"/>
<use href="#p" x="314" y="143"/>
<use href="#p" x="307" y="144"/>
<use href="#p" x="315" y="155"/>
<use href="#p" x="300" y="137"/>
<use href="#p" x="298" y="136"/>
<use href="#p" x="320" y="138"/>
<use href="#p" x="294" y="149"/>
<use href="#p" x="317" y="135"/>
<use href="#p" x="288" y="138"/>
<use href="#p" x="311" y="140"/>
<use href="#p" x="308" y="136"/>
<use href="#p" x="319" y="150"/>
<use href="#p" x="294" y="137"/>
<use href="#p" x="311" y="142"/>
<use href="#p" x="323" y="140"/>
<use href="#p" x="284" y="150"/>
<use href="#p" x="293" y="135"/>
<use href="#p" x="298" y="138"/>
<use href="#p" x="308" y="147"/>
<use href="#p" x="282" y="143"/>
<use href="#p" x="284" y="139"/>
<use href="#p" x="293" y="135"/>
<use href="#p" x="316" y="142"/>
<use href="#p" x="320" y="147"/>
<use href="#p" x="299" y="138"/>
<use href="#p" x="320" y="142"/>
<use href="#p" x="294" y="153"/>
<use href="#p" x="321" y="134"/>
<use href="#p" x="306" y="131"/>
<use href="#p" x="324" y="145"/>
<use href="#p" x="298" y="137"/>
<use href="#p" x="311" y="143"/>
<use href="#p" x="313" y="157"/>
<use href="#p" x="279" y="148"/>
<use href="#p" x="317" y="134"/>
<use href="#p" x="314" y="146"/>
<use href="#p" x="318" y="149"/>
<use href="#p" x="300" y="146"/>
<use href="#p" x="291" y="143"/>
<use href="#p" x="292" y="147"/>
<use href="#p" x="290" y="139"/>
<use href="#p" x="284" y="141"/>
<use href="#p" x="282" y="144"/>
<use href="#p" x="307" y="143"/>
<use href="#p" x="280" y="141"/>
<use href="#p" x="302" y="143"/>
<use href="#p" x="293" y="140"/>
<use href="#p" x="287" y="150"/>
<use href="#p" x="288" y="140"/>
<use href="#p" x="291" y="147"/>
<use href="#p" x="308" y="145"/>
<use href="#p" x="301" y="143"/>
<use href="#p" x="313" y="144"/>
<use href="#p" x="313" y="146"/>
<use href="#p" x="301" y="152"/>
<use href="#p" x="293" y="157"/>
<use href="#p" x="303" y="146"/>
<use href="#p" x="315" y="140"/>
<use href="#p" x="321" y="147"/>
<use href="#p" x="300" y="146"/>
<use href="#p" x="311" y="151"/>
<use href="#p" x="293" y="149"/>
<use href="#p" x="285" y="138"/>
<use href="#p" x="297" y="151"/>
<use href="#p" x="287" y="154"/>
<use href="#p" x="300" y="152"/>
<use href="#p" x="286" y="145"/>
<use href="#p" x="301" y="140"/>
<use href="#p" x="317" y="146"/>
<use href="#p" x="301" y="131"/>
<use href="#p" x="305" y="148"/>
<use href="#p" x="298" y="153"/>
<use href="#p" x="325" y="139"/>
<use href="#p" x="312" y="135"/>
<use href="#p" x="295" y="154"/>
<use href="#p" x="322" y="146"/>
<use href="#p" x="320" y="141"/>
<use href="#p" x="317" y="153"/>
<use href="#p" x="306" y="143"/>
<use href="#p" x="316" y="132"/>
<use href="#p" x="295" y="152"/>
<use href="#p" x="306" y="153"/>
<use href="#p" x="292" y="149"/>
<use href="#p" x="288" y="138"/>
<use href="#p" x="312" y="146"/>
<use href="#p" x="296" y="138"/>
<use href="#p" x="293" y="142"/>
<use href="#p" x="301" y="133"/>
<use href="#p" x="321" y="140"/>
<use href="#p" x="295" y="151"/>
<use href="#p" x="279" y="152"/>
<use href="#p" x="304" y="145"/>
<use href="#p" x="318" y="143"/>
<use href="#p" x="303" y="143"/>
<use href="#p" x="303" y="143"/>
<use href="#p" x="314" y="137"/>
<use href="#p" x="292" y="135"/>
<use href="#p" x="299" y="153"/>
<use href="#p" x="291" y="147"/>
<use href="#p" x="290" y="149"/>
<use href="#p" x="307" y="139"/>
<use href="#p" x="296" y="148"/>
<use href="#p" x="311" y="152"/>
<use href="#p" x="319" y="154"/>
<use href="#p" x="308" y="137"/>
<use href="#p" x="301" y="135"/>
<use href="#p" x="302" y="139"/>
<use href="#p" x="308" y="145"/>
<use href="#p" x="315" y="138"/>
<use href="#p" x="295" y="141"/>
<use href="#p" x="306" y="134"/>
<use href="#p" x="299" y="142"/>
<use href="#p" x="312" y="143"/>
<use href="#p" x="320" y="143"/>
<use href="#p" x="298" y="150"/>
<use href="#p" x="307" y="142"/>
<use href="#p" x="291" y="148"/>
<use href="#p" x="312" y="140"/>
<use href="#p" x="309" y="141"/>
<use href="#p" x="302" y="141"/>
<use href="#p" x="292" y="137"/>
<use href="#p" x="321" y="131"/>
<use href="#p" x="308" y="149"/>
<use href="#p" x="293" y="149"/>
<use href="#p" x="294" y="146"/>
<use href="#p" x="307" y="142"/>
<use href="#p" x="289" y="141"/>
<use href="#p" x="313" y="143"/>
<use href="#p" x="296" y="143"/>
<use href="#p" x="282" y="135"/>
<use href="#p" x="288" y="150"/>
<use href="#p" x="313" y="134"/>
<use href="#p" x="292" y="135"/>
<use href="#p" x="304" y="144"/>
<use href="#p" x="300" y="142"/>
<use href="#p" x="289" y="145"/>
<use href="#p" x="313" y="146"/>
<use href="#p" x="294" y="147"/>
<use href="#p" x="291" y="136"/>
<use href="#p" x="299" y="140"/>
<use href="#p" x="285" y="148"/>
<use href="#p" x="306" y="146"/>
<use href="#p" x="298" y="151"/>
<use href="#p" x="281" y="137"/>
<use href="#p" x="294" y="143"/>
<use href="#p" x="304" y="142"/>
<use href="#p" x="277" y="143"/>
<use href="#p" x="299" y="138"/>
<use href="#p" x="299" y="138"/>
<use href="#p" x="290" y="144"/>
<use href="#p" x="289" y="149"/>
<use href="#p" x="308" y="146"/>
<use href="#p" x="303" y="140"/>
<use href="#p" x="273" y="156"/>
<use href="#p" x="279" y="138"/>
<use href="#p" x="281" y="148"/>
<use href="#p" x="266" y="160"/>
<use href="#p" x="276" y="149"/>
<use href="#p" x="283" y="147"/>
<use href="#p" x="264" y="147"/>
<use href="#p" x="275" y="154"/>
<use href="#p" x="281" y="156"/>
<use href="#p" x="278" y="148"/>
<use href="#p" x="290" y="147"/>
<use href="#p" x="281" y="151"/>
<use href="#p" x="274" y="141"/>
<use href="#p" x="275" y="145"/>
<use href="#p" x="290" y="149"/>
<use href="#p" x="289" y="151"/>
<use href="#p" x="269" y="165"/>
<use href="#p" x="277" y="148"/>
<use href="#p" x="282" y="151"/>
<use href="#p" x="283" y="155"/>
<use href="#p" x="291" y="150"/>
<use href="#p" x="274" y="142"/>
<use href="#p" x="265" y="153"/>
<use href="#p" x="274" y="154"/>
<use href="#p" x="279" y="160"/>
<use href="#p" x="284" y="148"/>
<use href="#p" x="265" y="158"/>
<use href="#p" x="284" y="147"/>
<use href="#p" x="289" y="154"/>
<use href="#p" x="282" y="158"/>
<use href="#p" x="292" y="154"/>
<use href="#p" x="282" y="155"/>
<use href="#p" x="270" y="151"/>
<use href="#p" x="290" y="144"/>
<use href="#p" x="280" y="153"/>
<use href="#p" x="285" y="143"/>
<use href="#p" x="268" y="150"/>
<use href="#p" x="288" y="150"/>
<use href="#p" x="282" y="149"/>
<use href="#p" x="277" y="140"/>
<use href="#p" x="273" y="160"/>
<use href="#p" x="265" y="143"/>
<use href="#p" x="286" y="142"/>
<use href="#p" x="264" y="150"/>
<use href="#p" x="269" y="148"/>
<use href="#p" x="270" y="147"/>
<use href="#p" x="280" y="151"/>
<use href="#p" x="289" y="146"/>
<use href="#p" x="274" y="145"/>
<use href="#p" x="276" y="143"/>
<use href="#p" x="268" y="149"/>
<use href="#p" x="292" y="147"/>
<use href="#p" x="274" y="158"/>
<use href="#p" x="286" y="145"/>
<use href="#p" x="263" y="153"/>
<use href="#p" x="277" y="147"/>
<use href="#p" x="291" y="151"/>
<use href="#p" x="269" y="145"/>
<use href="#p" x="274" y="141"/>
<use href="#p" x="274" y="148"/>
<use href="#p" x="284" y="150"/>
<use href="#p" x="265" y="159"/>
<use href="#p" x="265" y="147"/>
<use href="#p" x="266" y="145"/>
<use href="#p" x="284" y="146"/>
<use href="#p" x="279" y="139"/>
<use href="#p" x="264" y="149"/>
<use href="#p" x="287" y="143"/>
<use href="#p" x="296" y="148"/>
<use href="#p" x="283" y="159"/>
<use href="#p" x="289" y="149"/>
<use href="#p" x="281" y="143"/>
<use href="#p" x="263" y="161"/>
<use href="#p" x="271" y="153"/>
<use href="#p" x="285" y="154"/>
<use href="#p" x="290" y="143"/>
<use href="#p" x="285" y="146"/>
<use href="#p" x="263" y="163"/>
<use href="#p" x="268" y="151"/>
<use href="#p" x="273" y="158"/>
<use href="#p" x="287" y="152"/>
<use href="#p" x="284" y="147"/>
<use href="#p" x="286" y="148"/>
<use href="#p" x="276" y="158"/>
<use href="#p" x="274" y="148"/>
<use href="#p" x="263" y="157"/>
<use href="#p" x="278" y="154"/>
<use href="#p" x="276" y="149"/>
<use href="#p" x="264" y="158"/>
<use href="#p" x="274" y="146"/>
<use href="#p" x="280" y="160"/>
<use href="#p" x="277" y="150"/>
<use href="#p" x="285" y="161"/>
<use href="#p" x="279" y="144"/>
<use href="#p" x="271" y="146"/>
<use href="#p" x="261" y="144"/>
<use href="#p" x="274" y="146"/>
<use href="#p" x="270" y="149"/>
<use href="#p" x="271" y="147"/>
<use href="#p" x="271" y="144"/>
<use href="#p" x="279" y="156"/>
<use href="#p" x="266" y="159"/>
<use href="#p" x="292" y="149"/>
<use href="#p" x="267" y="146"/>
<use href="#p" x="281" y="149"/>
<use href="#p" x="286" y="144"/>
<use href="#p" x="274" y="149"/>
<use href="#p" x="290" y="148"/>
<use href="#p" x="289" y="150"/>
<use href="#p" x="282" y="147"/>
<use href="#p" x="264" y="156"/>
<use href="#p" x="260" y="152"/>
<use href="#p" x="274" y="148"/>
<use href="#p" x="284" y="144"/>
<use href="#p" x="292" y="144"/>
<use href="#p" x="289" y="154"/>
<use href="#p" x="279" y="146"/>
<use href="#p" x="268" y="146"/>
<use href="#p" x="270" y="152"/>
<use href="#p" x="276" y="150"/>
<use href="#p" x="286" y="143"/>
<use href="#p" x="275" y="156"/>
<use href="#p" x="283" y="145"/>
<use href="#p" x="293" y="147"/>
<use href="#p" x="266" y="153"/>
<use href="#p" x="267" y="161"/>
<use href="#p" x="287" y="144"/>
<use href="#p" x="284" y="156"/>
<use href="#p" x="291" y="146"/>
<use href="#p" x="267" y="158"/>
<use href="#p" x="274" y="167"/>
<use href="#p" x="270" y="164"/>
<use href="#p" x="280" y="144"/>
<use href="#p" x="262" y="162"/>
<use href="#p" x="262" y="165"/>
<use href="#p" x="274" y="157"/>
<use href="#p" x="281" y="160"/>
<use href="#p" x="269" y="156"/>
<use href="#p" x="264" y="166"/>
<use href="#p" x="274" y="168"/>
<use href="#p" x="276" y="157"/>
<use href="#p" x="277" y="155"/>
<use href="#p" x="278" y="151"/>
<use href="#p" x="260" y="161"/>
<use href="#p" x="282" y="147"/>
<use href="#p" x="281" y="149"/>
<use href="#p" x="268" y="152"/>
<use href="#p" x="273" y="142"/>
<use href="#p" x="260" y="165"/>
<use href="#p" x="257" y="162"/>
<use href="#p" x="270" y="159"/>
<use href="#p" x="274" y="157"/>
<use href="#p" x="266" y="155"/>
<use href="#p" x="260" y="169"/>
<use href="#p" x="280" y="151"/>
<use href="#p" x="286" y="160"/>
<use href="#p" x="281" y="145"/>
<use href="#p" x="264" y="169"/>
<use href="#p" x="280" y="146"/>
<use href="#p" x="261" y="156"/>
<use href="#p" x="265" y="166"/>
<use href="#p" x="270" y="153"/>
<use href="#p" x="283" y="150"/>
<use href="#p" x="274" y="156"/>
<use href="#p" x="268" y="159"/>
<use href="#p" x="271" y="151"/>
<use href="#p" x="275" y="157"/>
<use href="#p" x="267" y="166"/>
<use href="#p" x="281" y="152"/>
<use href="#p" x="281" y="159"/>
<use href="#p" x="267" y="155"/>
<use href="#p" x="259" y="165"/>
<use href="#p" x="280" y="145"/>
<use href="#p" x="266" y="156"/>
<use href="#p" x="268" y="162"/>
<use href="#p" x="268" y="161"/>
<use href="#p" x="273" y="169"/>
<use href="#p" x="276" y="155"/>
<use href="#p" x="258" y="167"/>
<use href="#p" x="280" y="143"/>
<use href="#p" x="264" y="169"/>
<use href="#p" x="264" y="162"/>
<use href="#p" x="275" y="157"/>
<use href="#p" x="273" y="155"/>
<use href="#p" x="262" y="163"/>
<use href="#p" x="276" y="158"/>
<use href="#p" x="273" y="151"/>
<use href="#p" x="270" y="147"/>
<use href="#p" x="266" y="159"/>
<use href="#p" x="285" y="151"/>
<use href="#p" x="277" y="144"/>
<use href="#p" x="258" y="162"/>
<use href="#p" x="274" y="155"/>
<use href="#p" x="275" y="161"/>
<use href="#p" x="272" y="163"/>
<use href="#p" x="270" y="156"/>
<use href="#p" x="277" y="160"/>
<use href="#p" x="281" y="163"/>
<use href="#p" x="265" y="160"/>
<use href="#p" x="266" y="158"/>
</g>
<g fill="#00cd00" fill-opacity="0.3">
<use href="#p" x="261" y="199"/>
<use href="#p" x="295" y="212"/>
<use href="#p" x="297" y="236"/>
<use href="#p" x="273" y="240"/>
<use href="#p" x="288" y="251"/>
<use href="#p" x="281" y="256"/>
<use href="#p" x="289" y="275"/>
<use href="#p" x="279" y="278"/>
<use href="#p" x="279" y="278"/>
<use href="#p" x="276" y="290"/>
</g>
<g fill="#000000" fill-opacity="0.3">
<use href="#p" x="456" y="183"/>
<use href="#p" x="457" y="188"/>
<use href="#p" x="461" y="184"/>
<use href="#p" x="464" y="182"/>
<use href="#p" x="462" y="189"/>
<use href="#p" x="466" y="188"/>
<use href="#p" x="464" y="192"/>
<use href="#p" x="448" y="192"/>
<use href="#p" x="451" y="202"/>
<use href="#p" x="456" y="201"/>
<use href="#p" x="457" y="203"/>
<use href="#p" x="455" y="204"/>
<use href="#p" x="453" y="214"/>
<use href="#p" x="450" y="224"/>
<use href="#p" x="444" y="227"/>
<use href="#p" x="447" y="228"/>
<use href="#p" x="441" y="233"/>
<use href="#p" x="447" y="236"/>
<use href="#p" x="442" y="239"/>
<use href="#p" x="482" y="186"/>
<use href="#p" x="509" y="185"/>
<use href="#p" x="513" y="186"/>
<use href="#p" x="508" y="188"/>
<use href="#p" x="510" y="191"/>
<use href="#p" x="512" y="193"/>
<use href="#p" x="513" y="195"/>
<use href="#p" x="518" y="183"/>
<use href="#p" x="522" y="184"/>
<use href="#p" x="525" y="183"/>
<use href="#p" x="528" y="184"/>
<use href="#p" x="532" y="182"/>
<use href="#p" x="534" y="183"/>
<use href="#p" x="520" y="188"/>
<use href="#p" x="523" y="188"/>
<use href="#p" x="527" y="188"/>
<use href="#p" x="529" y="189"/>
<use href="#p" x="529" y="191"/>
<use href="#p" x="522" y="192"/>
<use href="#p" x="519" y="193"/>
<use href="#p" x="516" y="194"/>
<use href="#p" x="520" y="198"/>
<use href="#p" x="520" y="198"/>
<use href="#p" x="512" y="198"/>
<use href="#p" x="507" y="198"/>
<use href="#p" x="502" y="198"/>
<use href="#p" x="502" y="201"/>
<use href="#p" x="508" y="205"/>
<use href="#p" x="512" y="209"/>
<use href="#p" x="502" y="205"/>
<use href="#p" x="502" y="208"/>
<use href="#p" x="499" y="209"/>
<use href="#p" x="498" y="211"/>
<use href="#p" x="494" y="211"/>
<use href="#p" x="492" y="213"/>
<use href="#p" x="488" y="217"/>
<use href="#p" x="492" y="216"/>
<use href="#p" x="497" y="216"/>
<use href="#p" x="494" y="220"/>
<use href="#p" x="497" y="221"/>
<use href="#p" x="490" y="220"/>
<use href="#p" x="490" y="225"/>
<use href="#p" x="483" y="205"/>
<use href="#p" x="487" y="208"/>
<use href="#p" x="486" y="209"/>
<use href="#p" x="480" y="220"/>
<use href="#p" x="479" y="226"/>
<use href="#p" x="478" y="229"/>
<use href="#p" x="484" y="231"/>
<use href="#p" x="483" y="235"/>
<use href="#p" x="490" y="233"/>
<use href="#p" x="474" y="237"/>
<use href="#p" x="484" y="242"/>
<use href="#p" x="466" y="241"/>
<use href="#p" x="467" y="243"/>
<use href="#p" x="472" y="245"/>
<use href="#p" x="460" y="247"/>
<use href="#p" x="480" y="248"/>
<use href="#p" x="464" y="251"/>
<use href="#p" x="468" y="252"/>
<use href="#p" x="462" y="254"/>
<use href="#p" x="465" y="257"/>
<use href="#p" x="474" y="255"/>
<use href="#p" x="509" y="243"/>
<use href="#p" x="456" y="259"/>
<use href="#p" x="510" y="187"/>
<use href="#p" x="530" y="183"/>
<use href="#p" x="524" y="186"/>
<use href="#p" x="527" y="186"/>
<use href="#p" x="530" y="187"/>
<use href="#p" x="439" y="241"/>
<use href="#p" x="468" y="252"/>
<use href="#p" x="465" y="257"/>
<use href="#p" x="462" y="259"/>
<use href="#p" x="474" y="255"/>
<use href="#p" x="438" y="258"/>
<use href="#p" x="453" y="261"/>
<use href="#p" x="453" y="266"/>
<use href="#p" x="461" y="265"/>
<use href="#p" x="446" y="270"/>
<use href="#p" x="452" y="272"/>
<use href="#p" x="447" y="275"/>
<use href="#p" x="450" y="278"/>
<use href="#p" x="454" y="277"/>
<use href="#p" x="425" y="275"/>
<use href="#p" x="440" y="278"/>
<use href="#p" x="446" y="286"/>
<use href="#p" x="442" y="288"/>
<use href="#p" x="430" y="287"/>
<use href="#p" x="431" y="290"/>
<use href="#p" x="435" y="288"/>
<use href="#p" x="438" y="291"/>
<use href="#p" x="440" y="292"/>
<use href="#p" x="427" y="293"/>
<use href="#p" x="434" y="297"/>
<use href="#p" x="458" y="298"/>
<use href="#p" x="430" y="303"/>
<use href="#p" x="422" y="307"/>
<use href="#p" x="432" y="309"/>
<use href="#p" x="429" y="310"/>
<use href="#p" x="432" y="313"/>
<use href="#p" x="424" y="313"/>
<use href="#p" x="416" y="314"/>
<use href="#p" x="425" y="316"/>
<use href="#p" x="427" y="318"/>
<use href="#p" x="413" y="318"/>
<use href="#p" x="418" y="318"/>
<use href="#p" x="414" y="329"/>
<use href="#p" x="419" y="329"/>
<use href="#p" x="425" y="328"/>
<use href="#p" x="411" y="332"/>
<use href="#p" x="409" y="336"/>
<use href="#p" x="413" y="334"/>
<use href="#p" x="413" y="336"/>
<use href="#p" x="412" y="339"/>
<use href="#p" x="418" y="335"/>
<use href="#p" x="420" y="337"/>
<use href="#p" x="416" y="341"/>
<use href="#p" x="420" y="344"/>
<use href="#p" x="418" y="344"/>
<use href="#p" x="415" y="320"/>
<use href="#p" x="421" y="322"/>
<use href="#p" x="423" y="321"/>
<use href="#p" x="424" y="323"/>
<use href="#p" x="480" y="220"/>
<use href="#p" x="487" y="208"/>
<use href="#p" x="456" y="183"/>
<use href="#p" x="410" y="347"/>
<use href="#p" x="405" y="348"/>
<use href="#p" x="410" y="349"/>
<use href="#p" x="402" y="347"/>
<use href="#p" x="402" y="346"/>
<use href="#p" x="409" y="352"/>
<use href="#p" x="399" y="350"/>
<use href="#p" x="409" y="350"/>
<use href="#p" x="408" y="352"/>
<use href="#p" x="407" y="346"/>
<use href="#p" x="410" y="347"/>
<use href="#p" x="408" y="347"/>
<use href="#p" x="411" y="351"/>
<use href="#p" x="400" y="350"/>
<use href="#p" x="402" y="354"/>
<use href="#p" x="401" y="350"/>
<use href="#p" x="407" y="348"/>
<use href="#p" x="404" y="350"/>
<use href="#p" x="405" y="349"/>
<use href="#p" x="412" y="350"/>
<use href="#p" x="400" y="353"/>
<use href="#p" x="404" y="354"/>
<use href="#p" x="402" y="349"/>
<use href="#p" x="406" y="349"/>
<use href="#p" x="410" y="351"/>
<use href="#p" x="406" y="347"/>
<use href="#p" x="401" y="353"/>
<use href="#p" x="401" y="353"/>
<use href="#p" x="403" y="348"/>
<use href="#p" x="413" y="351"/>
<use href="#p" x="408" y="351"/>
<use href="#p" x="407" y="345"/>
<use href="#p" x="403" y="355"/>
<use href="#p" x="407" y="350"/>
<use href="#p" x="402" y="354"/>
<use href="#p" x="407" y="351"/>
<use href="#p" x="399" y="350"/>
<use href="#p" x="411" y="352"/>
<use href="#p" x="399" y="353"/>
<use href="#p" x="408" y="352"/>
<use href="#p" x="402" y="347"/>
<use href="#p" x="403" y="351"/>
<use href="#p" x="399" y="354"/>
<use href="#p" x="400" y="348"/>
<use href="#p" x="407" y="345"/>
<use href="#p" x="403" y="350"/>
<use href="#p" x="401" y="350"/>
<use href="#p" x="400" y="349"/>
<use href="#p" x="399" y="352"/>
<use href="#p" x="407" y="350"/>
<use href="#p" x="409" y="353"/>
<use href="#p" x="406" y="345"/>
<use href="#p" x="407" y="350"/>
<use href="#p" x="406" y="350"/>
<use href="#p" x="406" y="353"/>
<use href="#p" x="412" y="350"/>
<use href="#p" x="410" y="349"/>
<use href="#p" x="413" y="348"/>
<use href="#p" x="397" y="353"/>
<use href="#p" x="401" y="353"/>
<use href="#p" x="409" y="345"/>
<use href="#p" x="407" y="347"/>
<use href="#p" x="401" y="350"/>
<use href="#p" x="410" y="347"/>
<use href="#p" x="409" y="346"/>
<use href="#p" x="400" y="348"/>
<use href="#p" x="400" y="350"/>
<use href="#p" x="404" y="353"/>
<use href="#p" x="408" y="356"/>
<use href="#p" x="412" y="349"/>
<use href="#p" x="401" y="347"/>
<use href="#p" x="399" y="350"/>
<use href="#p" x="403" y="348"/>
<use href="#p" x="409" y="348"/>
<use href="#p" x="412" y="351"/>
<use href="#p" x="399" y="347"/>
<use href="#p" x="399" y="348"/>
<use href="#p" x="405" y="348"/>
<use href="#p" x="406" y="350"/>
<use href="#p" x="403" y="351"/>
<use href="#p" x="409" y="354"/>
<use href="#p" x="411" y="346"/>
<use href="#p" x="404" y="353"/>
<use href="#p" x="405" y="355"/>
<use href="#p" x="399" y="351"/>
<use href="#p" x="398" y="352"/>
<use href="#p" x="409" y="348"/>
<use href="#p" x="407" y="355"/>
<use href="#p" x="407" y="347"/>
<use href="#p" x="406" y="350"/>
<use href="#p" x="404" y="348"/>
<use href="#p" x="407" y="350"/>
<use href="#p" x="403" y="346"/>
<use href="#p" x="400" y="348"/>
<use href="#p" x="405" y="355"/>
<use href="#p" x="413" y="349"/>
<use href="#p" x="401" y="351"/>
<use href="#p" x="404" y="348"/>
<use href="#p" x="408" y="352"/>
<use href="#p" x="400" y="352"/>
<use href="#p" x="403" y="348"/>
<use href="#p" x="406" y="352"/>
<use href="#p" x="409" y="348"/>
<use href="#p" x="400" y="353"/>
<use href="#p" x="409" y="351"/>
<use href="#p" x="408" y="345"/>
<use href="#p" x="406" y="348"/>
<use href="#p" x="401" y="350"/>
<use href="#p" x="400" y="346"/>
<use href="#p" x="404" y="345"/>
<use href="#p" x="404" y="346"/>
<use href="#p" x="407" y="346"/>
<use href="#p" x="405" y="348"/>
<use href="#p" x="405" y="353"/>
<use href="#p" x="408" y="354"/>
<use href="#p" x="402" y="354"/>
<use href="#p" x="408" y="352"/>
<use href="#p" x="410" y="351"/>
<use href="#p" x="408" y="349"/>
<use href="#p" x="405" y="355"/>
<use href="#p" x="413" y="352"/>
<use href="#p" x="405" y="348"/>
<use href="#p" x="402" y="352"/>
<use href="#p" x="402" y="348"/>
<use href="#p" x="402" y="354"/>
<use href="#p" x="403" y="346"/>
<use href="#p" x="409" y="346"/>
<use href="#p" x="406" y="354"/>
<use href="#p" x="406" y="349"/>
<use href="#p" x="402" y="355"/>
<use href="#p" x="399" y="352"/>
<use href="#p" x="403" y="348"/>
<use href="#p" x="405" y="355"/>
<use href="#p" x="410" y="349"/>
<use href="#p" x="405" y="351"/>
<use href="#p" x="410" y="353"/>
<use href="#p" x="407" y="349"/>
<use href="#p" x="413" y="352"/>
<use href="#p" x="403" y="348"/>
<use href="#p" x="412" y="350"/>
<use href="#p" x="402" y="356"/>
<use href="#p" x="411" y="349"/>
<use href="#p" x="405" y="349"/>
<use href="#p" x="399" y="351"/>
<use href="#p" x="409" y="353"/>
<use href="#p" x="403" y="346"/>
<use href="#p" x="407" y="346"/>
<use href="#p" x="411" y="350"/>
<use href="#p" x="409" y="350"/>
<use href="#p" x="411" y="348"/>
<use href="#p" x="398" y="353"/>
<use href="#p" x="402" y="347"/>
<use href="#p" x="398" y="350"/>
<use href="#p" x="402" y="347"/>
<use href="#p" x="410" y="350"/>
<use href="#p" x="407" y="354"/>
<use href="#p" x="401" y="350"/>
<use href="#p" x="410" y="353"/>
<use href="#p" x="411" y="353"/>
<use href="#p" x="402" y="349"/>
<use href="#p" x="407" y="348"/>
<use href="#p" x="405" y="351"/>
<use href="#p" x="405" y="347"/>
<use href="#p" x="401" y="354"/>
<use href="#p" x="404" y="353"/>
<use href="#p" x="403" y="349"/>
<use href="#p" x="398" y="351"/>
<use href="#p" x="409" y="346"/>
<use href="#p" x="401" y="351"/>
<use href="#p" x="409" y="347"/>
<use href="#p" x="402" y="349"/>
<use href="#p" x="407" y="355"/>
<use href="#p" x="406" y="350"/>
<use href="#p" x="405" y="355"/>
<use href="#p" x="401" y="353"/>
<use href="#p" x="402" y="354"/>
<use href="#p" x="412" y="348"/>
<use href="#p" x="402" y="350"/>
<use href="#p" x="410" y="351"/>
<use href="#p" x="406" y="348"/>
<use href="#p" x="407" y="352"/>
<use href="#p" x="409" y="353"/>
<use href="#p" x="405" y="349"/>
<use href="#p" x="412" y="350"/>
<use href="#p" x="405" y="354"/>
<use href="#p" x="400" y="347"/>
<use href="#p" x="397" y="352"/>
<use href="#p" x="403" y="351"/>
<use href="#p" x="410" y="352"/>
<use href="#p" x="407" y="347"/>
<use href="#p" x="407" y="345"/>
<use href="#p" x="405" y="346"/>
<use href="#p" x="403" y="354"/>
<use href="#p" x="409" y="353"/>
<use href="#p" x="407" y="352"/>
<use href="#p" x="397" y="351"/>
<use href="#p" x="411" y="347"/>
<use href="#p" x="405" y="349"/>
<use href="#p" x="409" y="346"/>
<use href="#p" x="404" y="347"/>
<use href="#p" x="399" y="353"/>
<use href="#p" x="403" y="354"/>
<use href="#p" x="410" y="351"/>
<use href="#p" x="402" y="351"/>
<use href="#p" x="408" y="353"/>
<use href="#p" x="403" y="351"/>
<use href="#p" x="404" y="353"/>
<use href="#p" x="403" y="349"/>
<use href="#p" x="406" y="352"/>
<use href="#p" x="401" y="349"/>
<use href="#p" x="400" y="348"/>
<use href="#p" x="399" y="349"/>
<use href="#p" x="402" y="353"/>
<use href="#p" x="408" y="352"/>
<use href="#p" x="400" y="351"/>
<use href="#p" x="409" y="347"/>
<use href="#p" x="409" y="353"/>
<use href="#p" x="401" y="349"/>
<use href="#p" x="397" y="349"/>
<use href="#p" x="401" y="354"/>
<use href="#p" x="400" y="349"/>
<use href="#p" x="405" y="351"/>
<use href="#p" x="409" y="353"/>
<use href="#p" x="403" y="354"/>
<use href="#p" x="402" y="352"/>
<use href="#p" x="400" y="350"/>
<use href="#p" x="401" y="349"/>
<use href="#p" x="399" y="354"/>
<use href="#p" x="406" y="348"/>
<use href="#p" x="403" y="352"/>
<use href="#p" x="406" y="350"/>
<use href="#p" x="401" y="352"/>
<use href="#p" x="406" y="355"/>
<use href="#p" x="406" y="355"/>
<use href="#p" x="401" y="349"/>
<use href="#p" x="402" y="351"/>
<use href="#p" x="408" y="352"/>
<use href="#p" x="400" y="350"/>
<use href="#p" x="401" y="351"/>
<use href="#p" x="405" y="354"/>
<use href="#p" x="397" y="353"/>
<use href="#p" x="406" y="350"/>
<use href="#p" x="398" y="350"/>
<use href="#p" x="410" y="348"/>
<use href="#p" x="406" y="354"/>
<use href="#p" x="399" y="354"/>
<use href="#p" x="402" y="348"/>
<use href="#p" x="405" y="352"/>
<use href="#p" x="407" y="353"/>
<use href="#p" x="403" y="348"/>
<use href="#p" x="412" y="350"/>
<use href="#p" x="407" y="351"/>
<use href="#p" x="404" y="355"/>
<use href="#p" x="410" y="348"/>
<use href="#p" x="408" y="352"/>
<use href="#p" x="400" y="348"/>
<use href="#p" x="408" y="344"/>
<use href="#p" x="409" y="348"/>
<use href="#p" x="406" y="345"/>
<use href="#p" x="400" y="352"/>
<use href="#p" x="409" y="353"/>
<use href="#p" x="403" y="349"/>
<use href="#p" x="405" y="350"/>
<use href="#p" x="406" y="349"/>
<use href="#p" x="406" y="347"/>
<use href="#p" x="413" y="350"/>
<use href="#p" x="408" y="353"/>
<use href="#p" x="410" y="352"/>
<use href="#p" x="401" y="350"/>
<use href="#p" x="403" y="346"/>
<use href="#p" x="403" y="351"/>
<use href="#p" x="403" y="347"/>
<use href="#p" x="407" y="355"/>
<use href="#p" x="401" y="353"/>
<use href="#p" x="404" y="356"/>
<use href="#p" x="407" y="347"/>
<use href="#p" x="401" y="348"/>
<use href="#p" x="411" y="350"/>
<use href="#p" x="404" y="347"/>
<use href="#p" x="404" y="349"/>
<use href="#p" x="410" y="349"/>
<use href="#p" x="414" y="349"/>
<use href="#p" x="407" y="353"/>
<use href="#p" x="402" y="349"/>
<use href="#p" x="401" y="354"/>
<use href="#p" x="405" y="356"/>
<use href="#p" x="407" y="354"/>
<use href="#p" x="408" y="353"/>
<use href="#p" x="409" y="346"/>
<use href="#p" x="396" y="351"/>
<use href="#p" x="406" y="353"/>
<use href="#p" x="411" y="349"/>
<use href="#p" x="413" y="350"/>
<use href="#p" x="411" y="347"/>
<use href="#p" x="412" y="352"/>
<use href="#p" x="401" y="354"/>
<use href="#p" x="398" y="349"/>
<use href="#p" x="407" y="346"/>
<use href="#p" x="402" y="355"/>
<use href="#p" x="402" y="351"/>
<use href="#p" x="405" y="350"/>
<use href="#p" x="415" y="348"/>
<use href="#p" x="409" y="344"/>
<use href="#p" x="408" y="344"/>
<use href="#p" x="408" y="348"/>
<use href="#p" x="408" y="350"/>
<use href="#p" x="405" y="346"/>
<use href="#p" x="413" y="349"/>
<use href="#p" x="412" y="345"/>
<use href="#p" x="411" y="353"/>
<use href="#p" x="404" y="350"/>
<use href="#p" x="410" y="348"/>
<use href="#p" x="412" y="352"/>
<use href="#p" x="413" y="353"/>
<use href="#p" x="411" y="349"/>
<use href="#p" x="408" y="351"/>
<use href="#p" x="410" y="350"/>
<use href="#p" x="407" y="345"/>
<use href="#p" x="408" y="346"/>
<use href="#p" x="406" y="348"/>
<use href="#p" x="408" y="347"/>
<use href="#p" x="407" y="349"/>
<use href="#p" x="407" y="347"/>
<use href="#p" x="408" y="354"/>
<use href="#p" x="406" y="351"/>
<use href="#p" x="410" y="351"/>
<use href="#p" x="411" y="351"/>
<use href="#p" x="410" y="348"/>
<use href="#p" x="407" y="347"/>
<use href="#p" x="410" y="346"/>
<use href="#p" x="413" y="347"/>
<use href="#p" x="411" y="347"/>
<use href="#p" x="403" y="351"/>
<use href="#p" x="413" y="346"/>
<use href="#p" x="407" y="350"/>
<use href="#p" x="413" y="351"/>
<use href="#p" x="410" y="351"/>
<use href="#p" x="410" y="348"/>
<use href="#p" x="407" y="352"/>
<use href="#p" x="412" y="351"/>
<use href="#p" x="405" y="347"/>
<use href="#p" x="406" y="347"/>
<use href="#p" x="407" y="348"/>
<use href="#p" x="408" y="349"/>
<use href="#p" x="407" y="351"/>
<use href="#p" x="410" y="348"/>
<use href="#p" x="411" y="351"/>
<use href="#p" x="413" y="348"/>
<use href="#p" x="410" y="350"/>
<use href="#p" x="411" y="345"/>
<use href="#p" x="411" y="349"/>
<use href="#p" x="406" y="351"/>
<use href="#p" x="412" y="351"/>
<use href="#p" x="410" y="347"/>
<use href="#p" x="413" y="349"/>
<use href="#p" x="413" y="353"/>
<use href="#p" x="406" y="352"/>
<use href="#p" x="408" y="347"/>
<use href="#p" x="412" y="349"/>
<use href="#p" x="411" y="346"/>
<use href="#p" x="411" y="347"/>
<use href="#p" x="404" y="351"/>
<use href="#p" x="406" y="350"/>
<use href="#p" x="414" y="348"/>
<use href="#p" x="406" y="347"/>
<use href="#p" x="412" y="349"/>
<use href="#p" x="409" y="351"/>
<use href="#p" x="409" y="348"/>
<use href="#p" x="409" y="353"/>
<use href="#p" x="406" y="348"/>
<use href="#p" x="412" y="345"/>
<use href="#p" x="411" y="350"/>
<use href="#p" x="409" y="351"/>
<use href="#p" x="414" y="346"/>
<use href="#p" x="409" y="351"/>
<use href="#p" x="410" y="348"/>
<use href="#p" x="412" y="350"/>
<use href="#p" x="410" y="345"/>
<use href="#p" x="411" y="352"/>
<use href="#p" x="405" y="344"/>
<use href="#p" x="407" y="346"/>
<use href="#p" x="408" y="344"/>
<use href="#p" x="409" y="345"/>
<use href="#p" x="407" y="344"/>
<use href="#p" x="412" y="345"/>
<use href="#p" x="413" y="350"/>
<use href="#p" x="408" y="346"/>
<use href="#p" x="410" y="351"/>
<use href="#p" x="410" y="345"/>
<use href="#p" x="406" y="346"/>
<use href="#p" x="410" y="347"/>
<use href="#p" x="406" y="343"/>
<use href="#p" x="408" y="348"/>
<use href="#p" x="411" y="353"/>
<use href="#p" x="409" y="347"/>
<use href="#p" x="408" y="351"/>
<use href="#p" x="413" y="345"/>
<use href="#p" x="413" y="353"/>
<use href="#p" x="408" y="350"/>
<use href="#p" x="407" y="351"/>
<use href="#p" x="414" y="352"/>
<use href="#p" x="411" y="344"/>
<use href="#p" x="413" y="351"/>
<use href="#p" x="411" y="344"/>
<use href="#p" x="413" y="353"/>
<use href="#p" x="410" y="349"/>
<use href="#p" x="411" y="349"/>
<use href="#p" x="406" y="347"/>
<use href="#p" x="411" y="352"/>
<use href="#p" x="411" y="352"/>
<use href="#p" x="410" y="346"/>
<use href="#p" x="412" y="346"/>
<use href="#p" x="408" y="349"/>
<use href="#p" x="409" y="350"/>
<use href="#p" x="412" y="348"/>
<use href="#p" x="413" y="349"/>
<use href="#p" x="409" y="344"/>
<use href="#p" x="413" y="345"/>
<use href="#p" x="412" y="350"/>
<use href="#p" x="413" y="346"/>
<use href="#p" x="421" y="306"/>
<use href="#p" x="429" y="317"/>
<use href="#p" x="415" y="337"/>
<use href="#p" x="407" y="339"/>
<use href="#p" x="424" y="317"/>
<use href="#p" x="418" y="324"/>
<use href="#p" x="431" y="305"/>
<use href="#p" x="434" y="305"/>
<use href="#p" x="421" y="324"/>
<use href="#p" x="427" y="305"/>
<use href="#p" x="417" y="329"/>
<use href="#p" x="411" y="330"/>
<use href="#p" x="408" y="328"/>
<use href="#p" x="430" y="307"/>
<use href="#p" x="413" y="339"/>
<use href="#p" x="411" y="332"/>
<use href="#p" x="429" y="307"/>
<use href="#p" x="413" y="345"/>
<use href="#p" x="408" y="339"/>
<use href="#p" x="424" y="310"/>
<use href="#p" x="425" y="319"/>
<use href="#p" x="411" y="332"/>
</g>
<g fill="#0000ff" fill-opacity="0.3">
<use href="#p" x="492" y="135"/>
<use href="#p" x="496" y="139"/>
<use href="#p" x="501" y="143"/>
<use href="#p" x="507" y="137"/>
<use href="#p" x="507" y="141"/>
<use href="#p" x="510" y="144"/>
<use href="#p" x="516" y="141"/>
<use href="#p" x="516" y="141"/>
<use href="#p" x="524" y="143"/>
<use href="#p" x="521" y="148"/>
<use href="#p" x="531" y="139"/>
<use href="#p" x="536" y="145"/>
<use href="#p" x="530" y="158"/>
<use href="#p" x="520" y="174"/>
<use href="#p" x="518" y="178"/>
<use href="#p" x="525" y="172"/>
<use href="#p" x="470" y="126"/>
<use href="#p" x="462" y="129"/>
<use href="#p" x="465" y="129"/>
<use href="#p" x="461" y="140"/>
<use href="#p" x="461" y="144"/>
<use href="#p" x="488" y="141"/>
<use href="#p" x="491" y="142"/>
<use href="#p" x="491" y="146"/>
<use href="#p" x="482" y="153"/>
<use href="#p" x="479" y="156"/>
<use href="#p" x="476" y="160"/>
<use href="#p" x="471" y="163"/>
<use href="#p" x="468" y="161"/>
<use href="#p" x="462" y="158"/>
<use href="#p" x="462" y="151"/>
<use href="#p" x="467" y="167"/>
<use href="#p" x="460" y="164"/>
<use href="#p" x="458" y="168"/>
<use href="#p" x="454" y="170"/>
<use href="#p" x="461" y="171"/>
<use href="#p" x="460" y="175"/>
<use href="#p" x="458" y="175"/>
<use href="#p" x="466" y="177"/>
<use href="#p" x="470" y="177"/>
<use href="#p" x="453" y="170"/>
<use href="#p" x="458" y="168"/>
<use href="#p" x="461" y="164"/>
<use href="#p" x="462" y="168"/>
<use href="#p" x="462" y="171"/>
<use href="#p" x="468" y="167"/>
<use href="#p" x="459" y="174"/>
<use href="#p" x="459" y="176"/>
<use href="#p" x="464" y="174"/>
<use href="#p" x="466" y="177"/>
<use href="#p" x="470" y="177"/>
<use href="#p" x="530" y="158"/>
<use href="#p" x="534" y="158"/>
<use href="#p" x="534" y="160"/>
<use href="#p" x="536" y="162"/>
<use href="#p" x="535" y="164"/>
<use href="#p" x="532" y="165"/>
<use href="#p" x="530" y="168"/>
<use href="#p" x="532" y="169"/>
<use href="#p" x="534" y="170"/>
<use href="#p" x="536" y="169"/>
<use href="#p" x="534" y="172"/>
<use href="#p" x="536" y="173"/>
<use href="#p" x="525" y="172"/>
<use href="#p" x="528" y="172"/>
<use href="#p" x="525" y="174"/>
<use href="#p" x="528" y="174"/>
<use href="#p" x="520" y="174"/>
<use href="#p" x="518" y="178"/>
<use href="#p" x="532" y="179"/>
<use href="#p" x="534" y="180"/>
<use href="#p" x="536" y="180"/>
<use href="#p" x="530" y="180"/>
<use href="#p" x="535" y="167"/>
<use href="#p" x="537" y="167"/>
<use href="#p" x="462" y="173"/>
<use href="#p" x="466" y="175"/>
<use href="#p" x="468" y="178"/>
<use href="#p" x="463" y="177"/>
<use href="#p" x="473" y="138"/>
<use href="#p" x="474" y="150"/>
<use href="#p" x="469" y="146"/>
<use href="#p" x="479" y="148"/>
<use href="#p" x="475" y="149"/>
<use href="#p" x="474" y="142"/>
<use href="#p" x="468" y="149"/>
<use href="#p" x="478" y="150"/>
<use href="#p" x="478" y="144"/>
<use href="#p" x="466" y="144"/>
<use href="#p" x="479" y="141"/>
<use href="#p" x="474" y="139"/>
<use href="#p" x="467" y="149"/>
<use href="#p" x="484" y="141"/>
<use href="#p" x="468" y="147"/>
<use href="#p" x="473" y="138"/>
<use href="#p" x="473" y="137"/>
<use href="#p" x="466" y="147"/>
<use href="#p" x="478" y="140"/>
<use href="#p" x="469" y="148"/>
<use href="#p" x="475" y="149"/>
<use href="#p" x="469" y="138"/>
<use href="#p" x="471" y="136"/>
<use href="#p" x="468" y="149"/>
<use href="#p" x="469" y="139"/>
<use href="#p" x="473" y="145"/>
<use href="#p" x="481" y="143"/>
<use href="#p" x="475" y="140"/>
<use href="#p" x="474" y="137"/>
<use href="#p" x="475" y="141"/>
<use href="#p" x="477" y="135"/>
<use href="#p" x="466" y="145"/>
<use href="#p" x="474" y="141"/>
<use href="#p" x="475" y="145"/>
<use href="#p" x="468" y="139"/>
<use href="#p" x="475" y="140"/>
<use href="#p" x="477" y="149"/>
<use href="#p" x="467" y="145"/>
<use href="#p" x="470" y="146"/>
<use href="#p" x="471" y="150"/>
<use href="#p" x="469" y="141"/>
<use href="#p" x="477" y="145"/>
<use href="#p" x="470" y="148"/>
<use href="#p" x="467" y="139"/>
<use href="#p" x="475" y="149"/>
<use href="#p" x="467" y="144"/>
<use href="#p" x="475" y="135"/>
<use href="#p" x="480" y="142"/>
<use href="#p" x="478" y="137"/>
<use href="#p" x="470" y="144"/>
<use href="#p" x="470" y="142"/>
<use href="#p" x="477" y="148"/>
<use href="#p" x="482" y="143"/>
<use href="#p" x="466" y="147"/>
<use href="#p" x="473" y="148"/>
<use href="#p" x="471" y="143"/>
<use href="#p" x="469" y="139"/>
<use href="#p" x="472" y="139"/>
<use href="#p" x="482" y="143"/>
<use href="#p" x="472" y="141"/>
<use href="#p" x="473" y="143"/>
<use href="#p" x="471" y="136"/>
<use href="#p" x="466" y="148"/>
<use href="#p" x="471" y="151"/>
<use href="#p" x="476" y="148"/>
<use href="#p" x="475" y="139"/>
<use href="#p" x="478" y="135"/>
<use href="#p" x="478" y="148"/>
<use href="#p" x="470" y="136"/>
<use href="#p" x="475" y="139"/>
<use href="#p" x="471" y="138"/>
<use href="#p" x="466" y="140"/>
<use href="#p" x="481" y="144"/>
<use href="#p" x="479" y="143"/>
<use href="#p" x="473" y="145"/>
<use href="#p" x="466" y="137"/>
<use href="#p" x="467" y="143"/>
<use href="#p" x="472" y="143"/>
<use href="#p" x="468" y="137"/>
<use href="#p" x="478" y="138"/>
<use href="#p" x="481" y="145"/>
<use href="#p" x="468" y="145"/>
<use href="#p" x="467" y="146"/>
<use href="#p" x="471" y="143"/>
<use href="#p" x="473" y="139"/>
<use href="#p" x="476" y="142"/>
<use href="#p" x="473" y="138"/>
<use href="#p" x="474" y="146"/>
<use href="#p" x="477" y="148"/>
<use href="#p" x="478" y="136"/>
<use href="#p" x="480" y="139"/>
<use href="#p" x="468" y="139"/>
<use href="#p" x="481" y="143"/>
<use href="#p" x="477" y="147"/>
<use href="#p" x="468" y="147"/>
<use href="#p" x="465" y="141"/>
<use href="#p" x="470" y="146"/>
<use href="#p" x="481" y="143"/>
<use href="#p" x="475" y="141"/>
<use href="#p" x="472" y="144"/>
<use href="#p" x="482" y="135"/>
<use href="#p" x="481" y="147"/>
<use href="#p" x="469" y="142"/>
<use href="#p" x="466" y="147"/>
<use href="#p" x="474" y="145"/>
<use href="#p" x="474" y="145"/>
<use href="#p" x="473" y="141"/>
<use href="#p" x="472" y="136"/>
<use href="#p" x="479" y="138"/>
<use href="#p" x="480" y="143"/>
<use href="#p" x="478" y="147"/>
<use href="#p" x="475" y="144"/>
<use href="#p" x="475" y="146"/>
<use href="#p" x="481" y="139"/>
<use href="#p" x="476" y="148"/>
<use href="#p" x="477" y="149"/>
<use href="#p" x="475" y="150"/>
<use href="#p" x="472" y="146"/>
<use href="#p" x="475" y="142"/>
<use href="#p" x="468" y="136"/>
<use href="#p" x="471" y="137"/>
<use href="#p" x="473" y="142"/>
<use href="#p" x="476" y="142"/>
<use href="#p" x="476" y="140"/>
<use href="#p" x="474" y="136"/>
<use href="#p" x="476" y="143"/>
<use href="#p" x="465" y="140"/>
<use href="#p" x="470" y="151"/>
<use href="#p" x="479" y="139"/>
<use href="#p" x="468" y="139"/>
<use href="#p" x="480" y="138"/>
<use href="#p" x="469" y="139"/>
<use href="#p" x="467" y="138"/>
<use href="#p" x="481" y="137"/>
<use href="#p" x="478" y="149"/>
<use href="#p" x="470" y="148"/>
<use href="#p" x="468" y="143"/>
<use href="#p" x="472" y="137"/>
<use href="#p" x="479" y="148"/>
<use href="#p" x="469" y="149"/>
<use href="#p" x="467" y="148"/>
<use href="#p" x="468" y="146"/>
<use href="#p" x="475" y="148"/>
<use href="#p" x="473" y="142"/>
<use href="#p" x="466" y="143"/>
<use href="#p" x="479" y="145"/>
<use href="#p" x="472" y="144"/>
<use href="#p" x="475" y="143"/>
<use href="#p" x="483" y="141"/>
<use href="#p" x="480" y="146"/>
<use href="#p" x="476" y="150"/>
<use href="#p" x="472" y="148"/>
<use href="#p" x="467" y="143"/>
<use href="#p" x="474" y="148"/>
<use href="#p" x="473" y="135"/>
<use href="#p" x="473" y="139"/>
<use href="#p" x="471" y="145"/>
<use href="#p" x="479" y="144"/>
<use href="#p" x="469" y="145"/>
<use href="#p" x="475" y="140"/>
<use href="#p" x="470" y="137"/>
<use href="#p" x="471" y="144"/>
<use href="#p" x="477" y="146"/>
<use href="#p" x="467" y="143"/>
<use href="#p" x="476" y="135"/>
<use href="#p" x="481" y="146"/>
<use href="#p" x="470" y="146"/>
<use href="#p" x="472" y="142"/>
<use href="#p" x="473" y="137"/>
<use href="#p" x="471" y="149"/>
<use href="#p" x="467" y="151"/>
<use href="#p" x="479" y="137"/>
<use href="#p" x="465" y="141"/>
<use href="#p" x="470" y="140"/>
<use href="#p" x="477" y="149"/>
<use href="#p" x="471" y="148"/>
<use href="#p" x="469" y="149"/>
<use href="#p" x="470" y="147"/>
<use href="#p" x="472" y="142"/>
<use href="#p" x="474" y="139"/>
<use href="#p" x="482" y="141"/>
<use href="#p" x="470" y="148"/>
<use href="#p" x="478" y="141"/>
<use href="#p" x="477" y="145"/>
<use href="#p" x="473" y="149"/>
<use href="#p" x="474" y="136"/>
<use href="#p" x="467" y="145"/>
<use href="#p" x="469" y="140"/>
<use href="#p" x="482" y="145"/>
<use href="#p" x="469" y="144"/>
<use href="#p" x="478" y="144"/>
<use href="#p" x="476" y="137"/>
<use href="#p" x="481" y="147"/>
<use href="#p" x="469" y="147"/>
<use href="#p" x="479" y="139"/>
<use href="#p" x="475" y="151"/>
<use href="#p" x="471" y="145"/>
<use href="#p" x="471" y="143"/>
<use href="#p" x="472" y="142"/>
<use href="#p" x="478" y="137"/>
<use href="#p" x="472" y="135"/>
<use href="#p" x="477" y="143"/>
<use href="#p" x="473" y="142"/>
<use href="#p" x="474" y="143"/>
<use href="#p" x="480" y="147"/>
<use href="#p" x="478" y="144"/>
<use href="#p" x="480" y="146"/>
<use href="#p" x="472" y="153"/>
<use href="#p" x="479" y="145"/>
<use href="#p" x="469" y="137"/>
<use href="#p" x="472" y="140"/>
<use href="#p" x="472" y="137"/>
<use href="#p" x="479" y="142"/>
<use href="#p" x="474" y="135"/>
<use href="#p" x="469" y="142"/>
<use href="#p" x="477" y="136"/>
<use href="#p" x="472" y="134"/>
<use href="#p" x="481" y="142"/>
<use href="#p" x="470" y="146"/>
<use href="#p" x="478" y="142"/>
<use href="#p" x="476" y="149"/>
<use href="#p" x="482" y="145"/>
<use href="#p" x="476" y="148"/>
<use href="#p" x="476" y="137"/>
<use href="#p" x="469" y="139"/>
<use href="#p" x="473" y="133"/>
<use href="#p" x="479" y="138"/>
<use href="#p" x="467" y="143"/>
<use href="#p" x="470" y="143"/>
<use href="#p" x="469" y="136"/>
<use href="#p" x="468" y="139"/>
<use href="#p" x="471" y="143"/>
<use href="#p" x="473" y="148"/>
<use href="#p" x="480" y="145"/>
<use href="#p" x="478" y="144"/>
<use href="#p" x="476" y="143"/>
<use href="#p" x="475" y="144"/>
<use href="#p" x="478" y="140"/>
<use href="#p" x="475" y="144"/>
<use href="#p" x="472" y="143"/>
<use href="#p" x="483" y="144"/>
<use href="#p" x="480" y="137"/>
<use href="#p" x="480" y="147"/>
<use href="#p" x="471" y="148"/>
<use href="#p" x="471" y="143"/>
<use href="#p" x="477" y="151"/>
<use href="#p" x="479" y="148"/>
<use href="#p" x="478" y="138"/>
<use href="#p" x="467" y="143"/>
<use href="#p" x="472" y="140"/>
<use href="#p" x="476" y="146"/>
<use href="#p" x="473" y="139"/>
<use href="#p" x="475" y="137"/>
<use href="#p" x="473" y="147"/>
<use href="#p" x="472" y="151"/>
<use href="#p" x="474" y="138"/>
<use href="#p" x="478" y="137"/>
<use href="#p" x="476" y="142"/>
<use href="#p" x="470" y="143"/>
<use href="#p" x="469" y="144"/>
<use href="#p" x="469" y="143"/>
<use href="#p" x="473" y="151"/>
<use href="#p" x="474" y="144"/>
<use href="#p" x="470" y="144"/>
<use href="#p" x="479" y="150"/>
<use href="#p" x="472" y="143"/>
<use href="#p" x="469" y="147"/>
<use href="#p" x="478" y="147"/>
<use href="#p" x="472" y="141"/>
<use href="#p" x="467" y="138"/>
<use href="#p" x="476" y="141"/>
<use href="#p" x="483" y="143"/>
<use href="#p" x="466" y="143"/>
<use href="#p" x="478" y="137"/>
<use href="#p" x="468" y="137"/>
<use href="#p" x="468" y="139"/>
<use href="#p" x="480" y="142"/>
<use href="#p" x="474" y="150"/>
<use href="#p" x="469" y="143"/>
<use href="#p" x="472" y="148"/>
<use href="#p" x="477" y="142"/>
<use href="#p" x="468" y="145"/>
<use href="#p" x="471" y="137"/>
<use href="#p" x="474" y="147"/>
<use href="#p" x="476" y="140"/>
<use href="#p" x="474" y="136"/>
<use href="#p" x="468" y="148"/>
<use href="#p" x="477" y="142"/>
<use href="#p" x="476" y="150"/>
<use href="#p" x="472" y="139"/>
<use href="#p" x="473" y="139"/>
<use href="#p" x="472" y="151"/>
<use href="#p" x="468" y="136"/>
<use href="#p" x="475" y="135"/>
<use href="#p" x="471" y="148"/>
<use href="#p" x="474" y="145"/>
<use href="#p" x="470" y="148"/>
<use href="#p" x="473" y="150"/>
<use href="#p" x="468" y="139"/>
<use href="#p" x="482" y="141"/>
<use href="#p" x="470" y="145"/>
<use href="#p" x="475" y="141"/>
<use href="#p" x="468" y="139"/>
<use href="#p" x="477" y="141"/>
<use href="#p" x="479" y="138"/>
<use href="#p" x="474" y="141"/>
<use href="#p" x="472" y="144"/>
<use href="#p" x="474" y="147"/>
<use href="#p" x="471" y="136"/>
<use href="#p" x="480" y="143"/>
<use href="#p" x="471" y="145"/>
<use href="#p" x="471" y="143"/>
<use href="#p" x="473" y="140"/>
<use href="#p" x="474" y="152"/>
<use href="#p" x="475" y="147"/>
<use href="#p" x="476" y="143"/>
<use href="#p" x="466" y="145"/>
<use href="#p" x="468" y="143"/>
<use href="#p" x="475" y="141"/>
<use href="#p" x="473" y="145"/>
<use href="#p" x="468" y="148"/>
<use href="#p" x="475" y="150"/>
<use href="#p" x="481" y="143"/>
<use href="#p" x="469" y="139"/>
<use href="#p" x="469" y="138"/>
<use href="#p" x="480" y="142"/>
<use href="#p" x="477" y="135"/>
<use href="#p" x="473" y="138"/>
<use href="#p" x="465" y="143"/>
<use href="#p" x="476" y="146"/>
<use href="#p" x="480" y="138"/>
<use href="#p" x="471" y="138"/>
<use href="#p" x="472" y="144"/>
<use href="#p" x="473" y="138"/>
<use href="#p" x="477" y="144"/>
<use href="#p" x="473" y="147"/>
<use href="#p" x="474" y="150"/>
<use href="#p" x="473" y="134"/>
<use href="#p" x="473" y="141"/>
<use href="#p" x="478" y="144"/>
<use href="#p" x="479" y="150"/>
<use href="#p" x="477" y="144"/>
<use href="#p" x="473" y="134"/>
<use href="#p" x="476" y="143"/>
<use href="#p" x="471" y="150"/>
<use href="#p" x="471" y="143"/>
<use href="#p" x="471" y="141"/>
<use href="#p" x="479" y="142"/>
<use href="#p" x="471" y="143"/>
<use href="#p" x="472" y="136"/>
<use href="#p" x="482" y="142"/>
<use href="#p" x="480" y="148"/>
<use href="#p" x="475" y="145"/>
<use href="#p" x="482" y="138"/>
<use href="#p" x="473" y="141"/>
<use href="#p" x="476" y="142"/>
<use href="#p" x="478" y="137"/>
<use href="#p" x="473" y="142"/>
<use href="#p" x="481" y="144"/>
<use href="#p" x="477" y="137"/>
<use href="#p" x="473" y="137"/>
<use href="#p" x="472" y="151"/>
<use href="#p" x="475" y="143"/>
<use href="#p" x="473" y="146"/>
<use href="#p" x="469" y="142"/>
<use href="#p" x="478" y="139"/>
<use href="#p" x="469" y="140"/>
<use href="#p" x="468" y="147"/>
<use href="#p" x="474" y="137"/>
<use href="#p" x="467" y="141"/>
<use href="#p" x="481" y="147"/>
<use href="#p" x="467" y="145"/>
<use href="#p" x="470" y="137"/>
<use href="#p" x="478" y="146"/>
<use href="#p" x="470" y="137"/>
<use href="#p" x="478" y="140"/>
<use href="#p" x="475" y="141"/>
<use href="#p" x="473" y="141"/>
<use href="#p" x="469" y="133"/>
<use href="#p" x="475" y="145"/>
<use href="#p" x="470" y="133"/>
<use href="#p" x="471" y="143"/>
<use href="#p" x="475" y="144"/>
<use href="#p" x="479" y="146"/>
<use href="#p" x="473" y="143"/>
<use href="#p" x="475" y="148"/>
<use href="#p" x="475" y="141"/>
<use href="#p" x="471" y="148"/>
<use href="#p" x="478" y="138"/>
<use href="#p" x="478" y="145"/>
<use href="#p" x="477" y="138"/>
<use href="#p" x="470" y="145"/>
<use href="#p" x="467" y="146"/>
<use href="#p" x="469" y="148"/>
<use href="#p" x="468" y="139"/>
<use href="#p" x="477" y="144"/>
<use href="#p" x="467" y="148"/>
<use href="#p" x="472" y="141"/>
<use href="#p" x="469" y="135"/>
<use href="#p" x="465" y="141"/>
<use href="#p" x="469" y="148"/>
<use href="#p" x="477" y="138"/>
<use href="#p" x="473" y="144"/>
<use href="#p" x="477" y="141"/>
<use href="#p" x="479" y="141"/>
<use href="#p" x="471" y="143"/>
<use href="#p" x="479" y="138"/>
<use href="#p" x="479" y="139"/>
<use href="#p" x="462" y="143"/>
<use href="#p" x="471" y="148"/>
<use href="#p" x="470" y="141"/>
<use href="#p" x="472" y="137"/>
<use href="#p" x="466" y="140"/>
<use href="#p" x="466" y="145"/>
<use href="#p" x="468" y="142"/>
<use href="#p" x="474" y="135"/>
<use href="#p" x="478" y="139"/>
<use href="#p" x="467" y="147"/>
<use href="#p" x="477" y="145"/>
<use href="#p" x="473" y="139"/>
<use href="#p" x="478" y="148"/>
<use href="#p" x="476" y="141"/>
<use href="#p" x="476" y="147"/>
<use href="#p" x="472" y="148"/>
<use href="#p" x="473" y="145"/>
<use href="#p" x="470" y="145"/>
<use href="#p" x="466" y="142"/>
<use href="#p" x="473" y="138"/>
<use href="#p" x="469" y="148"/>
<use href="#p" x="468" y="141"/>
<use href="#p" x="476" y="148"/>
<use href="#p" x="468" y="147"/>
<use href="#p" x="475" y="144"/>
<use href="#p" x="470" y="136"/>
<use href="#p" x="470" y="144"/>
<use href="#p" x="473" y="148"/>
<use href="#p" x="477" y="137"/>
<use href="#p" x="476" y="140"/>
<use href="#p" x="471" y="150"/>
<use href="#p" x="469" y="139"/>
<use href="#p" x="483" y="143"/>
<use href="#p" x="471" y="149"/>
<use href="#p" x="473" y="148"/>
<use href="#p" x="470" y="140"/>
<use href="#p" x="477" y="151"/>
<use href="#p" x="465" y="146"/>
<use href="#p" x="478" y="136"/>
<use href="#p" x="478" y="134"/>
<use href="#p" x="479" y="137"/>
<use href="#p" x="478" y="147"/>
<use href="#p" x="475" y="145"/>
<use href="#p" x="468" y="144"/>
<use href="#p" x="469" y="148"/>
<use href="#p" x="481" y="142"/>
<use href="#p" x="464" y="145"/>
<use href="#p" x="473" y="138"/>
<use href="#p" x="467" y="149"/>
<use href="#p" x="470" y="135"/>
<use href="#p" x="476" y="142"/>
<use href="#p" x="473" y="138"/>
<use href="#p" x="469" y="140"/>
<use href="#p" x="476" y="139"/>
<use href="#p" x="474" y="143"/>
<use href="#p" x="473" y="136"/>
<use href="#p" x="474" y="149"/>
<use href="#p" x="466" y="138"/>
<use href="#p" x="474" y="142"/>
<use href="#p" x="471" y="137"/>
<use href="#p" x="469" y="144"/>
<use href="#p" x="469" y="147"/>
<use href="#p" x="474" y="136"/>
<use href="#p" x="473" y="139"/>
<use href="#p" x="478" y="143"/>
<use href="#p" x="469" y="138"/>
<use href="#p" x="473" y="146"/>
<use href="#p" x="468" y="139"/>
<use href="#p" x="470" y="141"/>
<use href="#p" x="471" y="137"/>
<use href="#p" x="481" y="143"/>
<use href="#p" x="473" y="146"/>
<use href="#p" x="481" y="144"/>
<use href="#p" x="473" y="135"/>
<use href="#p" x="469" y="143"/>
<use href="#p" x="469" y="144"/>
<use href="#p" x="480" y="139"/>
<use href="#p" x="479" y="145"/>
<use href="#p" x="474" y="136"/>
<use href="#p" x="468" y="144"/>
<use href="#p" x="472" y="141"/>
<use href="#p" x="472" y="146"/>
<use href="#p" x="477" y="150"/>
<use href="#p" x="469" y="141"/>
<use href="#p" x="473" y="140"/>
<use href="#p" x="468" y="135"/>
<use href="#p" x="479" y="134"/>
<use href="#p" x="480" y="144"/>
<use href="#p" x="474" y="143"/>
<use href="#p" x="481" y="144"/>
<use href="#p" x="478" y="144"/>
<use href="#p" x="479" y="148"/>
<use href="#p" x="476" y="148"/>
<use href="#p" x="467" y="138"/>
<use href="#p" x="480" y="135"/>
<use href="#p" x="482" y="138"/>
<use href="#p" x="471" y="142"/>
<use href="#p" x="479" y="145"/>
<use href="#p" x="471" y="136"/>
<use href="#p" x="478" y="149"/>
<use href="#p" x="472" y="147"/>
<use href="#p" x="479" y="138"/>
<use href="#p" x="472" y="146"/>
<use href="#p" x="477" y="146"/>
<use href="#p" x="473" y="145"/>
<use href="#p" x="471" y="144"/>
<use href="#p" x="469" y="143"/>
<use href="#p" x="476" y="150"/>
<use href="#p" x="471" y="138"/>
<use href="#p" x="476" y="139"/>
<use href="#p" x="478" y="136"/>
<use href="#p" x="473" y="138"/>
<use href="#p" x="477" y="140"/>
<use href="#p" x="471" y="148"/>
<use href="#p" x="474" y="148"/>
<use href="#p" x="475" y="140"/>
<use href="#p" x="480" y="144"/>
<use href="#p" x="473" y="133"/>
<use href="#p" x="469" y="141"/>
<use href="#p" x="475" y="150"/>
<use href="#p" x="480" y="148"/>
<use href="#p" x="471" y="147"/>
<use href="#p" x="476" y="139"/>
<use href="#p" x="473" y="140"/>
<use href="#p" x="482" y="140"/>
<use href="#p" x="467" y="142"/>
<use href="#p" x="483" y="143"/>
<use href="#p" x="478" y="146"/>
<use href="#p" x="463" y="143"/>
<use href="#p" x="472" y="144"/>
<use href="#p" x="471" y="147"/>
<use href="#p" x="475" y="136"/>
<use href="#p" x="476" y="136"/>
<use href="#p" x="468" y="139"/>
<use href="#p" x="471" y="136"/>
<use href="#p" x="467" y="137"/>
<use href="#p" x="478" y="145"/>
<use href="#p" x="475" y="139"/>
<use href="#p" x="478" y="143"/>
<use href="#p" x="470" y="136"/>
<use href="#p" x="472" y="137"/>
<use href="#p" x="470" y="149"/>
<use href="#p" x="467" y="142"/>
<use href="#p" x="472" y="151"/>
<use href="#p" x="474" y="145"/>
<use href="#p" x="464" y="141"/>
<use href="#p" x="468" y="146"/>
<use href="#p" x="472" y="139"/>
<use href="#p" x="471" y="142"/>
<use href="#p" x="480" y="144"/>
<use href="#p" x="471" y="137"/>
<use href="#p" x="473" y="151"/>
<use href="#p" x="477" y="149"/>
<use href="#p" x="472" y="134"/>
<use href="#p" x="475" y="137"/>
<use href="#p" x="471" y="151"/>
<use href="#p" x="479" y="146"/>
<use href="#p" x="473" y="141"/>
<use href="#p" x="469" y="140"/>
<use href="#p" x="482" y="143"/>
<use href="#p" x="470" y="148"/>
<use href="#p" x="466" y="138"/>
<use href="#p" x="476" y="150"/>
<use href="#p" x="472" y="142"/>
<use href="#p" x="479" y="134"/>
<use href="#p" x="479" y="148"/>
<use href="#p" x="471" y="147"/>
<use href="#p" x="475" y="138"/>
<use href="#p" x="478" y="143"/>
<use href="#p" x="477" y="138"/>
<use href="#p" x="475" y="143"/>
<use href="#p" x="466" y="147"/>
<use href="#p" x="477" y="146"/>
<use href="#p" x="476" y="148"/>
<use href="#p" x="473" y="137"/>
<use href="#p" x="476" y="134"/>
<use href="#p" x="475" y="150"/>
<use href="#p" x="469" y="139"/>
<use href="#p" x="480" y="144"/>
<use href="#p" x="479" y="148"/>
<use href="#p" x="478" y="147"/>
<use href="#p" x="467" y="139"/>
<use href="#p" x="477" y="137"/>
<use href="#p" x="473" y="147"/>
<use href="#p" x="469" y="138"/>
<use href="#p" x="470" y="142"/>
<use href="#p" x="478" y="134"/>
<use href="#p" x="473" y="146"/>
<use href="#p" x="476" y="136"/>
<use href="#p" x="479" y="143"/>
<use href="#p" x="471" y="143"/>
<use href="#p" x="474" y="141"/>
<use href="#p" x="477" y="140"/>
<use href="#p" x="478" y="141"/>
<use href="#p" x="477" y="137"/>
<use href="#p" x="474" y="148"/>
<use href="#p" x="470" y="136"/>
<use href="#p" x="466" y="142"/>
<use href="#p" x="474" y="142"/>
<use href="#p" x="467" y="142"/>
<use href="#p" x="472" y="136"/>
<use href="#p" x="471" y="150"/>
<use href="#p" x="470" y="143"/>
<use href="#p" x="468" y="139"/>
<use href="#p" x="478" y="151"/>
<use href="#p" x="474" y="141"/>
<use href="#p" x="472" y="133"/>
<use href="#p" x="477" y="134"/>
<use href="#p" x="474" y="147"/>
<use href="#p" x="477" y="145"/>
<use href="#p" x="472" y="137"/>
<use href="#p" x="474" y="144"/>
<use href="#p" x="479" y="146"/>
<use href="#p" x="473" y="149"/>
<use href="#p" x="471" y="146"/>
<use href="#p" x="472" y="146"/>
<use href="#p" x="475" y="146"/>
<use href="#p" x="467" y="144"/>
<use href="#p" x="472" y="149"/>
<use href="#p" x="470" y="147"/>
<use href="#p" x="480" y="135"/>
<use href="#p" x="479" y="139"/>
<use href="#p" x="476" y="136"/>
<use href="#p" x="479" y="148"/>
<use href="#p" x="470" y="135"/>
<use href="#p" x="480" y="143"/>
<use href="#p" x="472" y="145"/>
<use href="#p" x="476" y="137"/>
<use href="#p" x="475" y="134"/>
<use href="#p" x="477" y="146"/>
<use href="#p" x="465" y="142"/>
<use href="#p" x="477" y="137"/>
<use href="#p" x="470" y="149"/>
<use href="#p" x="473" y="142"/>
<use href="#p" x="476" y="142"/>
<use href="#p" x="467" y="140"/>
<use href="#p" x="473" y="136"/>
<use href="#p" x="471" y="140"/>
<use href="#p" x="468" y="140"/>
<use href="#p" x="474" y="145"/>
<use href="#p" x="467" y="137"/>
<use href="#p" x="472" y="143"/>
<use href="#p" x="477" y="141"/>
<use href="#p" x="475" y="137"/>
<use href="#p" x="482" y="138"/>
<use href="#p" x="481" y="138"/>
<use href="#p" x="471" y="151"/>
<use href="#p" x="471" y="152"/>
<use href="#p" x="474" y="134"/>
<use href="#p" x="478" y="154"/>
<use href="#p" x="468" y="148"/>
<use href="#p" x="475" y="140"/>
<use href="#p" x="474" y="140"/>
<use href="#p" x="474" y="139"/>
<use href="#p" x="474" y="143"/>
<use href="#p" x="482" y="139"/>
<use href="#p" x="472" y="133"/>
<use href="#p" x="479" y="147"/>
<use href="#p" x="465" y="144"/>
<use href="#p" x="475" y="140"/>
<use href="#p" x="477" y="153"/>
<use href="#p" x="466" y="153"/>
<use href="#p" x="483" y="143"/>
<use href="#p" x="475" y="150"/>
<use href="#p" x="464" y="143"/>
<use href="#p" x="479" y="135"/>
<use href="#p" x="462" y="143"/>
<use href="#p" x="475" y="151"/>
<use href="#p" x="470" y="142"/>
<use href="#p" x="479" y="142"/>
<use href="#p" x="484" y="148"/>
<use href="#p" x="469" y="142"/>
<use href="#p" x="471" y="141"/>
<use href="#p" x="471" y="137"/>
<use href="#p" x="482" y="140"/>
<use href="#p" x="463" y="139"/>
<use href="#p" x="469" y="139"/>
<use href="#p" x="471" y="135"/>
<use href="#p" x="463" y="144"/>
<use href="#p" x="465" y="135"/>
<use href="#p" x="481" y="142"/>
<use href="#p" x="472" y="156"/>
<use href="#p" x="466" y="148"/>
<use href="#p" x="474" y="143"/>
<use href="#p" x="471" y="147"/>
<use href="#p" x="465" y="144"/>
<use href="#p" x="469" y="144"/>
<use href="#p" x="474" y="143"/>
<use href="#p" x="471" y="137"/>
<use href="#p" x="473" y="136"/>
<use href="#p" x="473" y="138"/>
<use href="#p" x="476" y="144"/>
<use href="#p" x="463" y="138"/>
<use href="#p" x="469" y="142"/>
<use href="#p" x="476" y="147"/>
<use href="#p" x="472" y="148"/>
<use href="#p" x="473" y="153"/>
<use href="#p" x="466" y="140"/>
<use href="#p" x="469" y="150"/>
<use href="#p" x="472" y="148"/>
<use href="#p" x="471" y="140"/>
<use href="#p" x="476" y="139"/>
<use href="#p" x="482" y="142"/>
<use href="#p" x="471" y="141"/>
<use href="#p" x="478" y="141"/>
<use href="#p" x="480" y="143"/>
<use href="#p" x="468" y="151"/>
<use href="#p" x="481" y="150"/>
<use href="#p" x="474" y="143"/>
<use href="#p" x="478" y="134"/>
<use href="#p" x="463" y="146"/>
<use href="#p" x="478" y="133"/>
<use href="#p" x="475" y="149"/>
<use href="#p" x="465" y="142"/>
<use href="#p" x="478" y="144"/>
<use href="#p" x="472" y="137"/>
<use href="#p" x="482" y="138"/>
<use href="#p" x="466" y="141"/>
<use href="#p" x="468" y="131"/>
<use href="#p" x="477" y="143"/>
<use href="#p" x="483" y="140"/>
<use href="#p" x="483" y="139"/>
<use href="#p" x="467" y="134"/>
<use href="#p" x="475" y="140"/>
<use href="#p" x="470" y="145"/>
<use href="#p" x="466" y="143"/>
<use href="#p" x="467" y="141"/>
<use href="#p" x="480" y="143"/>
<use href="#p" x="472" y="132"/>
<use href="#p" x="468" y="150"/>
<use href="#p" x="471" y="144"/>
<use href="#p" x="470" y="142"/>
<use href="#p" x="473" y="137"/>
<use href="#p" x="472" y="152"/>
<use href="#p" x="468" y="147"/>
<use href="#p" x="476" y="135"/>
<use href="#p" x="465" y="145"/>
<use href="#p" x="468" y="140"/>
<use href="#p" x="469" y="147"/>
<use href="#p" x="461" y="141"/>
<use href="#p" x="477" y="151"/>
<use href="#p" x="469" y="150"/>
<use href="#p" x="470" y="153"/>
<use href="#p" x="480" y="149"/>
<use href="#p" x="464" y="142"/>
<use href="#p" x="468" y="149"/>
<use href="#p" x="477" y="141"/>
<use href="#p" x="481" y="141"/>
<use href="#p" x="465" y="143"/>
<use href="#p" x="470" y="146"/>
<use href="#p" x="463" y="150"/>
<use href="#p" x="464" y="148"/>
<use href="#p" x="478" y="135"/>
<use href="#p" x="471" y="148"/>
<use href="#p" x="475" y="149"/>
<use href="#p" x="467" y="150"/>
<use href="#p" x="474" y="139"/>
<use href="#p" x="480" y="140"/>
<use href="#p" x="480" y="144"/>
<use href="#p" x="472" y="148"/>
<use href="#p" x="478" y="144"/>
<use href="#p" x="480" y="147"/>
<use href="#p" x="464" y="151"/>
<use href="#p" x="478" y="149"/>
<use href="#p" x="467" y="159"/>
<use href="#p" x="479" y="143"/>
<use href="#p" x="476" y="163"/>
<use href="#p" x="472" y="143"/>
<use href="#p" x="474" y="150"/>
<use href="#p" x="462" y="143"/>
<use href="#p" x="474" y="150"/>
<use href="#p" x="466" y="155"/>
<use href="#p" x="462" y="155"/>
<use href="#p" x="470" y="148"/>
<use href="#p" x="464" y="137"/>
<use href="#p" x="471" y="146"/>
<use href="#p" x="466" y="148"/>
<use href="#p" x="472" y="147"/>
<use href="#p" x="470" y="153"/>
<use href="#p" x="463" y="134"/>
<use href="#p" x="470" y="154"/>
<use href="#p" x="464" y="153"/>
<use href="#p" x="465" y="144"/>
<use href="#p" x="470" y="157"/>
<use href="#p" x="463" y="151"/>
<use href="#p" x="460" y="155"/>
<use href="#p" x="465" y="145"/>
<use href="#p" x="476" y="146"/>
<use href="#p" x="466" y="148"/>
<use href="#p" x="473" y="147"/>
<use href="#p" x="470" y="144"/>
<use href="#p" x="475" y="148"/>
<use href="#p" x="471" y="145"/>
<use href="#p" x="473" y="149"/>
<use href="#p" x="477" y="148"/>
<use href="#p" x="477" y="138"/>
<use href="#p" x="472" y="151"/>
<use href="#p" x="469" y="148"/>
<use href="#p" x="474" y="156"/>
<use href="#p" x="459" y="147"/>
<use href="#p" x="465" y="153"/>
<use href="#p" x="472" y="157"/>
<use href="#p" x="465" y="158"/>
<use href="#p" x="472" y="150"/>
<use href="#p" x="464" y="141"/>
<use href="#p" x="475" y="145"/>
<use href="#p" x="472" y="145"/>
<use href="#p" x="477" y="154"/>
<use href="#p" x="477" y="152"/>
<use href="#p" x="459" y="167"/>
<use href="#p" x="467" y="138"/>
<use href="#p" x="468" y="151"/>
</g>
<g fill="#ffa500" fill-opacity="0.3">
<use href="#p" x="556" y="132"/>
<use href="#p" x="604" y="130"/>
<use href="#p" x="615" y="140"/>
<use href="#p" x="613" y="149"/>
<use href="#p" x="603" y="165"/>
<use href="#p" x="599" y="179"/>
<use href="#p" x="573" y="175"/>
<use href="#p" x="563" y="170"/>
<use href="#p" x="557" y="172"/>
<use href="#p" x="546" y="144"/>
<use href="#p" x="551" y="142"/>
<use href="#p" x="551" y="148"/>
<use href="#p" x="540" y="157"/>
<use href="#p" x="541" y="162"/>
<use href="#p" x="540" y="167"/>
<use href="#p" x="542" y="170"/>
<use href="#p" x="540" y="174"/>
<use href="#p" x="543" y="160"/>
<use href="#p" x="540" y="178"/>
<use href="#p" x="541" y="179"/>
<use href="#p" x="544" y="165"/>
<use href="#p" x="545" y="171"/>
<use href="#p" x="545" y="156"/>
<use href="#p" x="541" y="164"/>
<use href="#p" x="543" y="168"/>
<use href="#p" x="592" y="139"/>
<use href="#p" x="604" y="148"/>
<use href="#p" x="577" y="143"/>
<use href="#p" x="594" y="146"/>
<use href="#p" x="606" y="141"/>
<use href="#p" x="587" y="140"/>
<use href="#p" x="593" y="139"/>
<use href="#p" x="598" y="147"/>
<use href="#p" x="580" y="141"/>
<use href="#p" x="582" y="139"/>
<use href="#p" x="578" y="145"/>
<use href="#p" x="587" y="153"/>
<use href="#p" x="588" y="142"/>
<use href="#p" x="568" y="146"/>
<use href="#p" x="594" y="137"/>
<use href="#p" x="600" y="149"/>
<use href="#p" x="582" y="148"/>
<use href="#p" x="580" y="144"/>
<use href="#p" x="596" y="143"/>
<use href="#p" x="590" y="148"/>
<use href="#p" x="592" y="139"/>
<use href="#p" x="580" y="142"/>
<use href="#p" x="580" y="150"/>
<use href="#p" x="576" y="148"/>
<use href="#p" x="589" y="149"/>
<use href="#p" x="592" y="150"/>
<use href="#p" x="581" y="147"/>
<use href="#p" x="571" y="147"/>
<use href="#p" x="600" y="145"/>
<use href="#p" x="592" y="150"/>
<use href="#p" x="593" y="153"/>
<use href="#p" x="594" y="145"/>
<use href="#p" x="573" y="147"/>
<use href="#p" x="581" y="142"/>
<use href="#p" x="596" y="141"/>
<use href="#p" x="575" y="151"/>
<use href="#p" x="576" y="146"/>
<use href="#p" x="585" y="152"/>
<use href="#p" x="594" y="143"/>
<use href="#p" x="575" y="140"/>
<use href="#p" x="580" y="140"/>
<use href="#p" x="577" y="143"/>
<use href="#p" x="571" y="150"/>
<use href="#p" x="592" y="153"/>
<use href="#p" x="598" y="143"/>
<use href="#p" x="587" y="143"/>
<use href="#p" x="575" y="151"/>
<use href="#p" x="576" y="150"/>
<use href="#p" x="586" y="140"/>
<use href="#p" x="574" y="138"/>
<use href="#p" x="586" y="146"/>
<use href="#p" x="599" y="145"/>
<use href="#p" x="601" y="140"/>
<use href="#p" x="599" y="146"/>
<use href="#p" x="575" y="149"/>
<use href="#p" x="584" y="153"/>
<use href="#p" x="597" y="137"/>
<use href="#p" x="602" y="149"/>
<use href="#p" x="586" y="150"/>
<use href="#p" x="581" y="142"/>
<use href="#p" x="571" y="144"/>
<use href="#p" x="580" y="154"/>
<use href="#p" x="598" y="138"/>
<use href="#p" x="571" y="141"/>
<use href="#p" x="597" y="149"/>
<use href="#p" x="582" y="139"/>
<use href="#p" x="597" y="150"/>
<use href="#p" x="577" y="147"/>
<use href="#p" x="582" y="143"/>
<use href="#p" x="593" y="143"/>
<use href="#p" x="574" y="143"/>
<use href="#p" x="599" y="150"/>
<use href="#p" x="577" y="142"/>
<use href="#p" x="602" y="140"/>
<use href="#p" x="579" y="141"/>
<use href="#p" x="574" y="148"/>
<use href="#p" x="588" y="150"/>
<use href="#p" x="573" y="152"/>
<use href="#p" x="577" y="142"/>
<use href="#p" x="595" y="138"/>
<use href="#p" x="595" y="146"/>
<use href="#p" x="574" y="142"/>
<use href="#p" x="591" y="135"/>
<use href="#p" x="571" y="145"/>
<use href="#p" x="583" y="146"/>
<use href="#p" x="571" y="146"/>
<use href="#p" x="589" y="142"/>
<use href="#p" x="597" y="144"/>
<use href="#p" x="603" y="143"/>
<use href="#p" x="574" y="147"/>
<use href="#p" x="583" y="145"/>
<use href="#p" x="573" y="155"/>
<use href="#p" x="595" y="152"/>
<use href="#p" x="597" y="138"/>
<use href="#p" x="583" y="136"/>
<use href="#p" x="599" y="136"/>
<use href="#p" x="587" y="138"/>
<use href="#p" x="586" y="141"/>
<use href="#p" x="599" y="145"/>
<use href="#p" x="592" y="141"/>
<use href="#p" x="575" y="139"/>
<use href="#p" x="588" y="143"/>
<use href="#p" x="595" y="151"/>
<use href="#p" x="575" y="154"/>
<use href="#p" x="593" y="143"/>
<use href="#p" x="585" y="151"/>
<use href="#p" x="586" y="147"/>
<use href="#p" x="601" y="137"/>
<use href="#p" x="601" y="144"/>
<use href="#p" x="600" y="146"/>
<use href="#p" x="584" y="149"/>
<use href="#p" x="591" y="141"/>
<use href="#p" x="595" y="142"/>
<use href="#p" x="591" y="142"/>
<use href="#p" x="584" y="155"/>
<use href="#p" x="585" y="136"/>
<use href="#p" x="588" y="143"/>
<use href="#p" x="583" y="144"/>
<use href="#p" x="590" y="145"/>
<use href="#p" x="580" y="142"/>
<use href="#p" x="597" y="141"/>
<use href="#p" x="584" y="142"/>
<use href="#p" x="603" y="146"/>
<use href="#p" x="587" y="143"/>
<use href="#p" x="594" y="149"/>
<use href="#p" x="581" y="156"/>
<use href="#p" x="596" y="146"/>
<use href="#p" x="597" y="145"/>
<use href="#p" x="601" y="142"/>
<use href="#p" x="582" y="151"/>
<use href="#p" x="605" y="138"/>
<use href="#p" x="588" y="138"/>
<use href="#p" x="597" y="143"/>
<use href="#p" x="579" y="150"/>
<use href="#p" x="604" y="144"/>
<use href="#p" x="578" y="153"/>
<use href="#p" x="578" y="149"/>
<use href="#p" x="604" y="146"/>
<use href="#p" x="570" y="146"/>
<use href="#p" x="588" y="153"/>
<use href="#p" x="592" y="145"/>
<use href="#p" x="590" y="148"/>
<use href="#p" x="598" y="148"/>
<use href="#p" x="605" y="142"/>
<use href="#p" x="572" y="145"/>
<use href="#p" x="587" y="154"/>
<use href="#p" x="574" y="155"/>
<use href="#p" x="584" y="145"/>
<use href="#p" x="592" y="143"/>
<use href="#p" x="577" y="152"/>
<use href="#p" x="570" y="147"/>
<use href="#p" x="577" y="144"/>
<use href="#p" x="585" y="141"/>
<use href="#p" x="585" y="156"/>
<use href="#p" x="582" y="138"/>
<use href="#p" x="592" y="153"/>
<use href="#p" x="591" y="152"/>
<use href="#p" x="580" y="141"/>
<use href="#p" x="603" y="151"/>
<use href="#p" x="577" y="141"/>
<use href="#p" x="600" y="147"/>
<use href="#p" x="585" y="153"/>
<use href="#p" x="583" y="142"/>
<use href="#p" x="597" y="148"/>
<use href="#p" x="596" y="144"/>
<use href="#p" x="585" y="138"/>
<use href="#p" x="583" y="142"/>
<use href="#p" x="585" y="147"/>
<use href="#p" x="581" y="137"/>
<use href="#p" x="600" y="147"/>
<use href="#p" x="574" y="151"/>
<use href="#p" x="594" y="153"/>
<use href="#p" x="575" y="146"/>
<use href="#p" x="598" y="150"/>
<use href="#p" x="603" y="145"/>
<use href="#p" x="571" y="144"/>
<use href="#p" x="589" y="146"/>
<use href="#p" x="603" y="147"/>
<use href="#p" x="583" y="150"/>
<use href="#p" x="600" y="142"/>
<use href="#p" x="585" y="147"/>
<use href="#p" x="575" y="154"/>
<use href="#p" x="584" y="146"/>
<use href="#p" x="579" y="151"/>
<use href="#p" x="572" y="143"/>
<use href="#p" x="606" y="147"/>
<use href="#p" x="595" y="145"/>
<use href="#p" x="600" y="145"/>
<use href="#p" x="602" y="145"/>
<use href="#p" x="572" y="145"/>
<use href="#p" x="586" y="146"/>
<use href="#p" x="586" y="142"/>
<use href="#p" x="591" y="149"/>
<use href="#p" x="574" y="154"/>
<use href="#p" x="607" y="145"/>
<use href="#p" x="590" y="142"/>
<use href="#p" x="597" y="143"/>
<use href="#p" x="580" y="150"/>
<use href="#p" x="593" y="146"/>
<use href="#p" x="580" y="154"/>
<use href="#p" x="589" y="140"/>
<use href="#p" x="598" y="146"/>
<use href="#p" x="584" y="148"/>
<use href="#p" x="586" y="142"/>
<use href="#p" x="588" y="140"/>
<use href="#p" x="595" y="147"/>
<use href="#p" x="589" y="153"/>
<use href="#p" x="600" y="144"/>
<use href="#p" x="592" y="144"/>
<use href="#p" x="587" y="144"/>
<use href="#p" x="580" y="141"/>
<use href="#p" x="572" y="144"/>
<use href="#p" x="591" y="150"/>
<use href="#p" x="590" y="146"/>
<use href="#p" x="583" y="141"/>
<use href="#p" x="581" y="145"/>
<use href="#p" x="576" y="147"/>
<use href="#p" x="599" y="147"/>
<use href="#p" x="585" y="140"/>
<use href="#p" x="582" y="137"/>
<use href="#p" x="576" y="139"/>
<use href="#p" x="596" y="142"/>
<use href="#p" x="581" y="149"/>
<use href="#p" x="579" y="155"/>
<use href="#p" x="595" y="136"/>
<use href="#p" x="600" y="146"/>
<use href="#p" x="571" y="150"/>
<use href="#p" x="577" y="152"/>
<use href="#p" x="592" y="146"/>
<use href="#p" x="592" y="141"/>
<use href="#p" x="581" y="146"/>
<use href="#p" x="576" y="154"/>
<use href="#p" x="585" y="143"/>
<use href="#p" x="585" y="152"/>
<use href="#p" x="582" y="150"/>
<use href="#p" x="595" y="140"/>
<use href="#p" x="593" y="148"/>
<use href="#p" x="583" y="148"/>
<use href="#p" x="571" y="145"/>
<use href="#p" x="599" y="137"/>
<use href="#p" x="593" y="154"/>
<use href="#p" x="601" y="151"/>
<use href="#p" x="595" y="142"/>
<use href="#p" x="584" y="136"/>
<use href="#p" x="580" y="149"/>
<use href="#p" x="595" y="151"/>
<use href="#p" x="587" y="136"/>
<use href="#p" x="573" y="150"/>
<use href="#p" x="598" y="139"/>
<use href="#p" x="591" y="150"/>
<use href="#p" x="575" y="145"/>
<use href="#p" x="596" y="151"/>
<use href="#p" x="597" y="147"/>
<use href="#p" x="604" y="138"/>
<use href="#p" x="580" y="138"/>
<use href="#p" x="573" y="145"/>
<use href="#p" x="585" y="141"/>
<use href="#p" x="600" y="140"/>
<use href="#p" x="583" y="137"/>
<use href="#p" x="587" y="153"/>
<use href="#p" x="579" y="143"/>
<use href="#p" x="590" y="137"/>
<use href="#p" x="590" y="139"/>
<use href="#p" x="586" y="151"/>
<use href="#p" x="587" y="145"/>
<use href="#p" x="590" y="139"/>
<use href="#p" x="578" y="147"/>
<use href="#p" x="594" y="153"/>
<use href="#p" x="596" y="138"/>
<use href="#p" x="603" y="146"/>
<use href="#p" x="575" y="151"/>
<use href="#p" x="606" y="139"/>
<use href="#p" x="571" y="141"/>
<use href="#p" x="590" y="143"/>
<use href="#p" x="582" y="150"/>
<use href="#p" x="588" y="140"/>
<use href="#p" x="585" y="146"/>
<use href="#p" x="601" y="147"/>
<use href="#p" x="580" y="149"/>
<use href="#p" x="590" y="136"/>
<use href="#p" x="603" y="138"/>
<use href="#p" x="586" y="137"/>
<use href="#p" x="574" y="141"/>
<use href="#p" x="577" y="142"/>
<use href="#p" x="577" y="144"/>
<use href="#p" x="573" y="144"/>
<use href="#p" x="604" y="146"/>
<use href="#p" x="581" y="146"/>
<use href="#p" x="603" y="149"/>
<use href="#p" x="578" y="142"/>
<use href="#p" x="579" y="137"/>
<use href="#p" x="586" y="149"/>
<use href="#p" x="605" y="141"/>
<use href="#p" x="596" y="142"/>
<use href="#p" x="574" y="150"/>
<use href="#p" x="581" y="151"/>
<use href="#p" x="585" y="144"/>
<use href="#p" x="570" y="148"/>
<use href="#p" x="586" y="137"/>
<use href="#p" x="598" y="140"/>
<use href="#p" x="590" y="141"/>
<use href="#p" x="591" y="151"/>
<use href="#p" x="602" y="144"/>
<use href="#p" x="572" y="150"/>
<use href="#p" x="595" y="148"/>
<use href="#p" x="577" y="144"/>
<use href="#p" x="575" y="150"/>
<use href="#p" x="575" y="141"/>
<use href="#p" x="601" y="145"/>
<use href="#p" x="582" y="147"/>
<use href="#p" x="600" y="146"/>
<use href="#p" x="598" y="151"/>
<use href="#p" x="580" y="143"/>
<use href="#p" x="579" y="147"/>
<use href="#p" x="603" y="148"/>
<use href="#p" x="584" y="152"/>
<use href="#p" x="601" y="138"/>
<use href="#p" x="589" y="140"/>
<use href="#p" x="582" y="140"/>
<use href="#p" x="600" y="144"/>
<use href="#p" x="592" y="152"/>
<use href="#p" x="573" y="154"/>
<use href="#p" x="588" y="149"/>
<use href="#p" x="571" y="143"/>
<use href="#p" x="569" y="146"/>
<use href="#p" x="583" y="152"/>
<use href="#p" x="592" y="146"/>
<use href="#p" x="600" y="142"/>
<use href="#p" x="584" y="153"/>
<use href="#p" x="597" y="140"/>
<use href="#p" x="603" y="142"/>
<use href="#p" x="586" y="154"/>
<use href="#p" x="570" y="151"/>
<use href="#p" x="569" y="146"/>
<use href="#p" x="570" y="146"/>
<use href="#p" x="574" y="142"/>
<use href="#p" x="569" y="146"/>
<use href="#p" x="577" y="141"/>
<use href="#p" x="600" y="147"/>
<use href="#p" x="588" y="145"/>
<use href="#p" x="590" y="152"/>
<use href="#p" x="587" y="145"/>
<use href="#p" x="572" y="151"/>
<use href="#p" x="584" y="140"/>
<use href="#p" x="588" y="144"/>
<use href="#p" x="597" y="138"/>
<use href="#p" x="590" y="142"/>
<use href="#p" x="581" y="143"/>
<use href="#p" x="597" y="142"/>
<use href="#p" x="578" y="146"/>
<use href="#p" x="594" y="150"/>
<use href="#p" x="573" y="143"/>
<use href="#p" x="572" y="146"/>
<use href="#p" x="591" y="153"/>
<use href="#p" x="579" y="148"/>
<use href="#p" x="577" y="140"/>
<use href="#p" x="595" y="139"/>
<use href="#p" x="589" y="145"/>
<use href="#p" x="596" y="137"/>
<use href="#p" x="577" y="146"/>
<use href="#p" x="589" y="141"/>
<use href="#p" x="584" y="142"/>
<use href="#p" x="579" y="140"/>
<use href="#p" x="580" y="149"/>
<use href="#p" x="585" y="154"/>
<use href="#p" x="595" y="146"/>
<use href="#p" x="572" y="142"/>
<use href="#p" x="579" y="137"/>
<use href="#p" x="597" y="142"/>
<use href="#p" x="585" y="138"/>
<use href="#p" x="581" y="141"/>
<use href="#p" x="593" y="147"/>
<use href="#p" x="591" y="136"/>
<use href="#p" x="576" y="145"/>
<use href="#p" x="596" y="146"/>
<use href="#p" x="583" y="148"/>
<use href="#p" x="571" y="138"/>
<use href="#p" x="587" y="141"/>
<use href="#p" x="581" y="140"/>
<use href="#p" x="573" y="142"/>
<use href="#p" x="580" y="149"/>
<use href="#p" x="594" y="140"/>
<use href="#p" x="578" y="147"/>
<use href="#p" x="591" y="137"/>
<use href="#p" x="587" y="147"/>
<use href="#p" x="602" y="148"/>
<use href="#p" x="572" y="142"/>
<use href="#p" x="592" y="145"/>
<use href="#p" x="575" y="144"/>
<use href="#p" x="585" y="139"/>
<use href="#p" x="573" y="143"/>
<use href="#p" x="582" y="140"/>
<use href="#p" x="595" y="149"/>
<use href="#p" x="599" y="147"/>
<use href="#p" x="584" y="146"/>
<use href="#p" x="586" y="150"/>
<use href="#p" x="593" y="140"/>
<use href="#p" x="594" y="145"/>
<use href="#p" x="570" y="145"/>
<use href="#p" x="589" y="136"/>
<use href="#p" x="573" y="145"/>
<use href="#p" x="579" y="146"/>
<use href="#p" x="602" y="141"/>
<use href="#p" x="602" y="143"/>
<use href="#p" x="590" y="139"/>
<use href="#p" x="594" y="153"/>
<use href="#p" x="592" y="137"/>
<use href="#p" x="587" y="138"/>
<use href="#p" x="579" y="140"/>
<use href="#p" x="598" y="143"/>
<use href="#p" x="585" y="138"/>
<use href="#p" x="600" y="141"/>
<use href="#p" x="576" y="137"/>
<use href="#p" x="583" y="141"/>
<use href="#p" x="599" y="147"/>
<use href="#p" x="585" y="138"/>
<use href="#p" x="581" y="142"/>
<use href="#p" x="582" y="136"/>
<use href="#p" x="601" y="147"/>
<use href="#p" x="600" y="138"/>
<use href="#p" x="578" y="144"/>
<use href="#p" x="593" y="138"/>
<use href="#p" x="596" y="143"/>
<use href="#p" x="590" y="144"/>
<use href="#p" x="587" y="147"/>
<use href="#p" x="577" y="151"/>
<use href="#p" x="588" y="155"/>
<use href="#p" x="589" y="143"/>
<use href="#p" x="578" y="141"/>
<use href="#p" x="580" y="147"/>
<use href="#p" x="573" y="152"/>
<use href="#p" x="572" y="143"/>
<use href="#p" x="573" y="153"/>
<use href="#p" x="579" y="150"/>
<use href="#p" x="589" y="145"/>
<use href="#p" x="578" y="144"/>
<use href="#p" x="596" y="151"/>
<use href="#p" x="581" y="156"/>
<use href="#p" x="590" y="138"/>
<use href="#p" x="591" y="141"/>
<use href="#p" x="581" y="139"/>
<use href="#p" x="580" y="144"/>
<use href="#p" x="591" y="149"/>
<use href="#p" x="580" y="154"/>
<use href="#p" x="582" y="142"/>
<use href="#p" x="599" y="140"/>
<use href="#p" x="581" y="143"/>
<use href="#p" x="584" y="136"/>
<use href="#p" x="588" y="138"/>
<use href="#p" x="587" y="149"/>
<use href="#p" x="585" y="142"/>
<use href="#p" x="604" y="142"/>
<use href="#p" x="598" y="152"/>
<use href="#p" x="591" y="142"/>
<use href="#p" x="574" y="142"/>
<use href="#p" x="591" y="149"/>
<use href="#p" x="572" y="146"/>
<use href="#p" x="584" y="150"/>
<use href="#p" x="586" y="137"/>
<use href="#p" x="586" y="143"/>
<use href="#p" x="570" y="145"/>
<use href="#p" x="576" y="140"/>
<use href="#p" x="580" y="138"/>
<use href="#p" x="572" y="142"/>
<use href="#p" x="591" y="143"/>
<use href="#p" x="576" y="141"/>
<use href="#p" x="592" y="140"/>
<use href="#p" x="570" y="147"/>
<use href="#p" x="585" y="142"/>
<use href="#p" x="581" y="154"/>
<use href="#p" x="580" y="146"/>
<use href="#p" x="586" y="134"/>
<use href="#p" x="588" y="149"/>
<use href="#p" x="583" y="152"/>
<use href="#p" x="586" y="151"/>
<use href="#p" x="588" y="152"/>
<use href="#p" x="583" y="139"/>
<use href="#p" x="588" y="137"/>
<use href="#p" x="570" y="150"/>
<use href="#p" x="584" y="154"/>
<use href="#p" x="594" y="143"/>
<use href="#p" x="592" y="147"/>
<use href="#p" x="603" y="142"/>
<use href="#p" x="584" y="144"/>
<use href="#p" x="588" y="151"/>
<use href="#p" x="579" y="144"/>
<use href="#p" x="582" y="151"/>
<use href="#p" x="578" y="152"/>
<use href="#p" x="605" y="145"/>
<use href="#p" x="604" y="146"/>
<use href="#p" x="587" y="142"/>
<use href="#p" x="586" y="153"/>
<use href="#p" x="580" y="153"/>
<use href="#p" x="597" y="151"/>
<use href="#p" x="598" y="142"/>
<use href="#p" x="604" y="142"/>
<use href="#p" x="591" y="151"/>
<use href="#p" x="600" y="142"/>
<use href="#p" x="580" y="153"/>
<use href="#p" x="588" y="138"/>
<use href="#p" x="578" y="147"/>
<use href="#p" x="569" y="147"/>
<use href="#p" x="578" y="150"/>
<use href="#p" x="581" y="149"/>
<use href="#p" x="586" y="152"/>
<use href="#p" x="596" y="137"/>
<use href="#p" x="592" y="138"/>
<use href="#p" x="597" y="150"/>
<use href="#p" x="582" y="144"/>
<use href="#p" x="572" y="144"/>
<use href="#p" x="594" y="143"/>
<use href="#p" x="585" y="150"/>
<use href="#p" x="588" y="143"/>
<use href="#p" x="592" y="150"/>
<use href="#p" x="573" y="149"/>
<use href="#p" x="600" y="150"/>
<use href="#p" x="577" y="149"/>
<use href="#p" x="592" y="138"/>
<use href="#p" x="590" y="146"/>
<use href="#p" x="597" y="148"/>
<use href="#p" x="585" y="156"/>
<use href="#p" x="595" y="137"/>
<use href="#p" x="586" y="145"/>
<use href="#p" x="579" y="152"/>
<use href="#p" x="604" y="142"/>
<use href="#p" x="590" y="150"/>
<use href="#p" x="599" y="152"/>
<use href="#p" x="568" y="147"/>
<use href="#p" x="598" y="151"/>
<use href="#p" x="596" y="152"/>
<use href="#p" x="594" y="151"/>
<use href="#p" x="601" y="149"/>
<use href="#p" x="574" y="152"/>
<use href="#p" x="580" y="140"/>
<use href="#p" x="599" y="146"/>
<use href="#p" x="592" y="138"/>
<use href="#p" x="588" y="153"/>
<use href="#p" x="588" y="151"/>
<use href="#p" x="569" y="153"/>
<use href="#p" x="592" y="150"/>
<use href="#p" x="587" y="142"/>
<use href="#p" x="569" y="146"/>
<use href="#p" x="589" y="136"/>
<use href="#p" x="582" y="146"/>
<use href="#p" x="582" y="141"/>
<use href="#p" x="592" y="135"/>
<use href="#p" x="600" y="147"/>
<use href="#p" x="576" y="151"/>
<use href="#p" x="591" y="145"/>
<use href="#p" x="600" y="150"/>
<use href="#p" x="578" y="147"/>
<use href="#p" x="577" y="152"/>
<use href="#p" x="597" y="145"/>
<use href="#p" x="573" y="149"/>
<use href="#p" x="599" y="139"/>
<use href="#p" x="594" y="150"/>
<use href="#p" x="570" y="148"/>
<use href="#p" x="604" y="148"/>
<use href="#p" x="583" y="142"/>
<use href="#p" x="572" y="146"/>
<use href="#p" x="576" y="154"/>
<use href="#p" x="590" y="149"/>
<use href="#p" x="582" y="152"/>
<use href="#p" x="602" y="147"/>
<use href="#p" x="601" y="142"/>
<use href="#p" x="590" y="136"/>
<use href="#p" x="588" y="141"/>
<use href="#p" x="587" y="152"/>
<use href="#p" x="601" y="140"/>
<use href="#p" x="599" y="144"/>
<use href="#p" x="588" y="141"/>
<use href="#p" x="576" y="154"/>
<use href="#p" x="580" y="148"/>
<use href="#p" x="570" y="147"/>
<use href="#p" x="584" y="152"/>
<use href="#p" x="579" y="142"/>
<use href="#p" x="581" y="146"/>
<use href="#p" x="586" y="137"/>
<use href="#p" x="601" y="139"/>
<use href="#p" x="604" y="142"/>
<use href="#p" x="575" y="148"/>
<use href="#p" x="590" y="152"/>
<use href="#p" x="589" y="150"/>
<use href="#p" x="605" y="145"/>
<use href="#p" x="574" y="141"/>
<use href="#p" x="589" y="150"/>
<use href="#p" x="603" y="146"/>
<use href="#p" x="576" y="149"/>
<use href="#p" x="572" y="149"/>
<use href="#p" x="582" y="152"/>
<use href="#p" x="593" y="145"/>
<use href="#p" x="603" y="149"/>
<use href="#p" x="573" y="148"/>
<use href="#p" x="595" y="138"/>
<use href="#p" x="579" y="143"/>
<use href="#p" x="596" y="135"/>
<use href="#p" x="587" y="139"/>
<use href="#p" x="605" y="146"/>
<use href="#p" x="572" y="147"/>
<use href="#p" x="591" y="149"/>
<use href="#p" x="601" y="138"/>
<use href="#p" x="599" y="150"/>
<use href="#p" x="585" y="144"/>
<use href="#p" x="591" y="140"/>
<use href="#p" x="602" y="140"/>
<use href="#p" x="578" y="149"/>
<use href="#p" x="597" y="138"/>
<use href="#p" x="581" y="152"/>
<use href="#p" x="576" y="152"/>
<use href="#p" x="579" y="151"/>
<use href="#p" x="573" y="148"/>
<use href="#p" x="594" y="154"/>
<use href="#p" x="580" y="140"/>
<use href="#p" x="602" y="141"/>
<use href="#p" x="593" y="137"/>
<use href="#p" x="592" y="137"/>
<use href="#p" x="602" y="142"/>
<use href="#p" x="596" y="149"/>
<use href="#p" x="588" y="149"/>
<use href="#p" x="578" y="145"/>
<use href="#p" x="581" y="152"/>
<use href="#p" x="599" y="146"/>
<use href="#p" x="590" y="141"/>
<use href="#p" x="576" y="149"/>
<use href="#p" x="596" y="142"/>
<use href="#p" x="580" y="139"/>
<use href="#p" x="578" y="153"/>
<use href="#p" x="576" y="151"/>
<use href="#p" x="577" y="147"/>
<use href="#p" x="597" y="146"/>
<use href="#p" x="592" y="154"/>
<use href="#p" x="578" y="146"/>
<use href="#p" x="591" y="140"/>
<use href="#p" x="583" y="147"/>
<use href="#p" x="593" y="149"/>
<use href="#p" x="590" y="136"/>
<use href="#p" x="606" y="145"/>
<use href="#p" x="582" y="144"/>
<use href="#p" x="600" y="149"/>
<use href="#p" x="586" y="149"/>
<use href="#p" x="573" y="148"/>
<use href="#p" x="576" y="150"/>
<use href="#p" x="584" y="147"/>
<use href="#p" x="594" y="151"/>
<use href="#p" x="598" y="141"/>
<use href="#p" x="594" y="150"/>
<use href="#p" x="597" y="151"/>
<use href="#p" x="583" y="144"/>
<use href="#p" x="593" y="144"/>
<use href="#p" x="593" y="151"/>
<use href="#p" x="594" y="139"/>
<use href="#p" x="572" y="154"/>
<use href="#p" x="581" y="144"/>
<use href="#p" x="579" y="138"/>
<use href="#p" x="594" y="140"/>
<use href="#p" x="600" y="139"/>
<use href="#p" x="599" y="151"/>
<use href="#p" x="581" y="148"/>
<use href="#p" x="598" y="145"/>
<use href="#p" x="598" y="151"/>
<use href="#p" x="601" y="142"/>
<use href="#p" x="580" y="141"/>
<use href="#p" x="602" y="144"/>
<use href="#p" x="588" y="138"/>
<use href="#p" x="576" y="141"/>
<use href="#p" x="589" y="137"/>
<use href="#p" x="585" y="142"/>
<use href="#p" x="597" y="138"/>
<use href="#p" x="591" y="145"/>
<use href="#p" x="583" y="140"/>
<use href="#p" x="602" y="142"/>
<use href="#p" x="600" y="144"/>
<use href="#p" x="589" y="138"/>
<use href="#p" x="596" y="143"/>
<use href="#p" x="582" y="147"/>
<use href="#p" x="599" y="147"/>
<use href="#p" x="584" y="143"/>
<use href="#p" x="574" y="148"/>
<use href="#p" x="568" y="152"/>
<use href="#p" x="584" y="154"/>
<use href="#p" x="592" y="141"/>
<use href="#p" x="601" y="147"/>
<use href="#p" x="591" y="149"/>
<use href="#p" x="597" y="140"/>
<use href="#p" x="596" y="151"/>
<use href="#p" x="591" y="142"/>
<use href="#p" x="573" y="144"/>
<use href="#p" x="592" y="150"/>
<use href="#p" x="601" y="147"/>
<use href="#p" x="597" y="142"/>
<use href="#p" x="594" y="145"/>
<use href="#p" x="576" y="152"/>
<use href="#p" x="579" y="154"/>
<use href="#p" x="586" y="153"/>
<use href="#p" x="589" y="143"/>
<use href="#p" x="599" y="150"/>
<use href="#p" x="591" y="146"/>
<use href="#p" x="575" y="151"/>
<use href="#p" x="589" y="136"/>
<use href="#p" x="573" y="141"/>
<use href="#p" x="602" y="143"/>
<use href="#p" x="587" y="139"/>
<use href="#p" x="571" y="153"/>
<use href="#p" x="588" y="149"/>
<use href="#p" x="589" y="138"/>
<use href="#p" x="576" y="148"/>
<use href="#p" x="582" y="141"/>
<use href="#p" x="601" y="139"/>
<use href="#p" x="597" y="144"/>
<use href="#p" x="579" y="141"/>
<use href="#p" x="590" y="154"/>
<use href="#p" x="601" y="149"/>
<use href="#p" x="592" y="148"/>
<use href="#p" x="575" y="150"/>
<use href="#p" x="601" y="140"/>
<use href="#p" x="594" y="146"/>
<use href="#p" x="581" y="148"/>
<use href="#p" x="583" y="137"/>
<use href="#p" x="583" y="146"/>
<use href="#p" x="595" y="139"/>
<use href="#p" x="597" y="139"/>
<use href="#p" x="582" y="136"/>
<use href="#p" x="594" y="143"/>
<use href="#p" x="583" y="139"/>
<use href="#p" x="598" y="140"/>
<use href="#p" x="604" y="140"/>
<use href="#p" x="575" y="144"/>
<use href="#p" x="580" y="148"/>
<use href="#p" x="607" y="146"/>
<use href="#p" x="580" y="147"/>
<use href="#p" x="582" y="155"/>
<use href="#p" x="590" y="141"/>
<use href="#p" x="585" y="146"/>
<use href="#p" x="575" y="149"/>
<use href="#p" x="596" y="138"/>
<use href="#p" x="575" y="149"/>
<use href="#p" x="596" y="150"/>
<use href="#p" x="593" y="150"/>
<use href="#p" x="592" y="148"/>
<use href="#p" x="583" y="145"/>
<use href="#p" x="593" y="137"/>
<use href="#p" x="575" y="140"/>
<use href="#p" x="595" y="144"/>
<use href="#p" x="568" y="149"/>
<use href="#p" x="595" y="148"/>
<use href="#p" x="589" y="141"/>
<use href="#p" x="601" y="144"/>
<use href="#p" x="579" y="140"/>
<use href="#p" x="579" y="150"/>
<use href="#p" x="579" y="156"/>
<use href="#p" x="582" y="140"/>
<use href="#p" x="577" y="138"/>
<use href="#p" x="596" y="139"/>
<use href="#p" x="570" y="151"/>
<use href="#p" x="571" y="144"/>
<use href="#p" x="585" y="142"/>
<use href="#p" x="574" y="147"/>
<use href="#p" x="579" y="140"/>
<use href="#p" x="605" y="144"/>
<use href="#p" x="588" y="144"/>
<use href="#p" x="575" y="140"/>
<use href="#p" x="574" y="152"/>
<use href="#p" x="601" y="140"/>
<use href="#p" x="575" y="143"/>
<use href="#p" x="582" y="138"/>
<use href="#p" x="576" y="144"/>
<use href="#p" x="588" y="156"/>
<use href="#p" x="599" y="150"/>
<use href="#p" x="585" y="155"/>
<use href="#p" x="591" y="142"/>
<use href="#p" x="598" y="145"/>
<use href="#p" x="591" y="148"/>
<use href="#p" x="580" y="140"/>
<use href="#p" x="573" y="150"/>
<use href="#p" x="602" y="144"/>
<use href="#p" x="600" y="150"/>
<use href="#p" x="599" y="150"/>
<use href="#p" x="581" y="142"/>
<use href="#p" x="591" y="148"/>
<use href="#p" x="597" y="143"/>
<use href="#p" x="589" y="156"/>
<use href="#p" x="573" y="151"/>
<use href="#p" x="586" y="146"/>
<use href="#p" x="582" y="146"/>
<use href="#p" x="576" y="142"/>
<use href="#p" x="571" y="147"/>
<use href="#p" x="581" y="145"/>
<use href="#p" x="596" y="147"/>
<use href="#p" x="584" y="141"/>
<use href="#p" x="580" y="153"/>
<use href="#p" x="594" y="142"/>
<use href="#p" x="577" y="147"/>
<use href="#p" x="588" y="145"/>
<use href="#p" x="587" y="154"/>
<use href="#p" x="599" y="146"/>
<use href="#p" x="575" y="150"/>
<use href="#p" x="603" y="142"/>
<use href="#p" x="582" y="138"/>
<use href="#p" x="593" y="153"/>
<use href="#p" x="585" y="153"/>
<use href="#p" x="601" y="137"/>
<use href="#p" x="571" y="151"/>
<use href="#p" x="580" y="136"/>
<use href="#p" x="594" y="149"/>
<use href="#p" x="598" y="147"/>
<use href="#p" x="579" y="137"/>
<use href="#p" x="594" y="152"/>
<use href="#p" x="595" y="139"/>
<use href="#p" x="577" y="151"/>
<use href="#p" x="588" y="155"/>
<use href="#p" x="581" y="138"/>
<use href="#p" x="575" y="148"/>
<use href="#p" x="589" y="149"/>
<use href="#p" x="587" y="138"/>
<use href="#p" x="585" y="148"/>
<use href="#p" x="580" y="151"/>
<use href="#p" x="578" y="151"/>
<use href="#p" x="586" y="150"/>
<use href="#p" x="594" y="151"/>
<use href="#p" x="585" y="148"/>
<use href="#p" x="573" y="146"/>
<use href="#p" x="587" y="140"/>
<use href="#p" x="578" y="147"/>
<use href="#p" x="596" y="140"/>
<use href="#p" x="591" y="152"/>
<use href="#p" x="573" y="144"/>
<use href="#p" x="572" y="153"/>
<use href="#p" x="601" y="142"/>
<use href="#p" x="594" y="145"/>
<use href="#p" x="587" y="145"/>
<use href="#p" x="592" y="150"/>
<use href="#p" x="583" y="136"/>
<use href="#p" x="592" y="137"/>
<use href="#p" x="593" y="150"/>
<use href="#p" x="576" y="146"/>
<use href="#p" x="580" y="149"/>
<use href="#p" x="593" y="145"/>
<use href="#p" x="577" y="154"/>
<use href="#p" x="576" y="144"/>
<use href="#p" x="588" y="139"/>
<use href="#p" x="578" y="141"/>
<use href="#p" x="570" y="144"/>
<use href="#p" x="575" y="142"/>
<use href="#p" x="586" y="145"/>
<use href="#p" x="598" y="140"/>
<use href="#p" x="583" y="155"/>
<use href="#p" x="579" y="147"/>
<use href="#p" x="582" y="149"/>
<use href="#p" x="602" y="145"/>
<use href="#p" x="592" y="150"/>
<use href="#p" x="611" y="140"/>
<use href="#p" x="585" y="155"/>
<use href="#p" x="577" y="145"/>
<use href="#p" x="586" y="142"/>
<use href="#p" x="572" y="150"/>
<use href="#p" x="579" y="139"/>
<use href="#p" x="562" y="143"/>
<use href="#p" x="599" y="131"/>
<use href="#p" x="601" y="151"/>
<use href="#p" x="590" y="158"/>
<use href="#p" x="573" y="152"/>
<use href="#p" x="597" y="144"/>
<use href="#p" x="575" y="151"/>
<use href="#p" x="599" y="134"/>
<use href="#p" x="586" y="146"/>
<use href="#p" x="591" y="155"/>
<use href="#p" x="565" y="148"/>
<use href="#p" x="582" y="144"/>
<use href="#p" x="596" y="146"/>
<use href="#p" x="604" y="139"/>
<use href="#p" x="606" y="149"/>
<use href="#p" x="596" y="138"/>
<use href="#p" x="560" y="147"/>
<use href="#p" x="568" y="146"/>
<use href="#p" x="573" y="144"/>
<use href="#p" x="605" y="151"/>
<use href="#p" x="595" y="133"/>
<use href="#p" x="593" y="138"/>
<use href="#p" x="602" y="149"/>
<use href="#p" x="576" y="154"/>
<use href="#p" x="581" y="141"/>
<use href="#p" x="572" y="145"/>
<use href="#p" x="578" y="141"/>
<use href="#p" x="595" y="142"/>
<use href="#p" x="588" y="144"/>
<use href="#p" x="588" y="145"/>
<use href="#p" x="564" y="153"/>
<use href="#p" x="594" y="135"/>
<use href="#p" x="577" y="157"/>
<use href="#p" x="589" y="154"/>
<use href="#p" x="588" y="152"/>
<use href="#p" x="571" y="159"/>
<use href="#p" x="569" y="144"/>
<use href="#p" x="593" y="149"/>
<use href="#p" x="569" y="151"/>
<use href="#p" x="568" y="152"/>
<use href="#p" x="587" y="138"/>
<use href="#p" x="567" y="152"/>
<use href="#p" x="589" y="147"/>
<use href="#p" x="576" y="155"/>
<use href="#p" x="602" y="151"/>
<use href="#p" x="589" y="137"/>
<use href="#p" x="581" y="133"/>
<use href="#p" x="582" y="159"/>
<use href="#p" x="585" y="154"/>
<use href="#p" x="593" y="152"/>
<use href="#p" x="590" y="155"/>
<use href="#p" x="574" y="143"/>
<use href="#p" x="577" y="141"/>
<use href="#p" x="601" y="136"/>
<use href="#p" x="599" y="141"/>
<use href="#p" x="600" y="148"/>
<use href="#p" x="579" y="152"/>
<use href="#p" x="589" y="148"/>
<use href="#p" x="586" y="142"/>
<use href="#p" x="578" y="136"/>
<use href="#p" x="592" y="138"/>
<use href="#p" x="582" y="155"/>
<use href="#p" x="587" y="135"/>
<use href="#p" x="575" y="135"/>
<use href="#p" x="595" y="135"/>
<use href="#p" x="582" y="151"/>
<use href="#p" x="596" y="143"/>
<use href="#p" x="591" y="137"/>
<use href="#p" x="600" y="146"/>
<use href="#p" x="600" y="146"/>
<use href="#p" x="579" y="156"/>
<use href="#p" x="595" y="142"/>
<use href="#p" x="599" y="144"/>
<use href="#p" x="586" y="133"/>
<use href="#p" x="596" y="146"/>
<use href="#p" x="576" y="154"/>
<use href="#p" x="584" y="140"/>
<use href="#p" x="604" y="150"/>
<use href="#p" x="571" y="158"/>
<use href="#p" x="605" y="140"/>
<use href="#p" x="584" y="142"/>
<use href="#p" x="583" y="137"/>
<use href="#p" x="604" y="145"/>
<use href="#p" x="587" y="153"/>
<use href="#p" x="582" y="141"/>
<use href="#p" x="583" y="140"/>
<use href="#p" x="589" y="151"/>
<use href="#p" x="604" y="140"/>
<use href="#p" x="569" y="143"/>
<use href="#p" x="572" y="142"/>
<use href="#p" x="567" y="151"/>
<use href="#p" x="600" y="137"/>
<use href="#p" x="574" y="142"/>
<use href="#p" x="568" y="147"/>
<use href="#p" x="591" y="143"/>
<use href="#p" x="606" y="150"/>
<use href="#p" x="566" y="147"/>
<use href="#p" x="570" y="149"/>
<use href="#p" x="588" y="142"/>
<use href="#p" x="583" y="137"/>
<use href="#p" x="584" y="137"/>
<use href="#p" x="591" y="138"/>
<use href="#p" x="605" y="147"/>
<use href="#p" x="594" y="152"/>
<use href="#p" x="603" y="140"/>
<use href="#p" x="593" y="135"/>
<use href="#p" x="571" y="155"/>
<use href="#p" x="592" y="150"/>
<use href="#p" x="590" y="139"/>
<use href="#p" x="569" y="142"/>
<use href="#p" x="580" y="151"/>
<use href="#p" x="593" y="145"/>
<use href="#p" x="573" y="140"/>
<use href="#p" x="578" y="130"/>
<use href="#p" x="599" y="141"/>
<use href="#p" x="574" y="150"/>
<use href="#p" x="572" y="159"/>
<use href="#p" x="603" y="148"/>
<use href="#p" x="604" y="150"/>
<use href="#p" x="596" y="145"/>
<use href="#p" x="578" y="155"/>
<use href="#p" x="604" y="151"/>
<use href="#p" x="569" y="150"/>
<use href="#p" x="588" y="152"/>
<use href="#p" x="578" y="146"/>
<use href="#p" x="601" y="146"/>
<use href="#p" x="602" y="148"/>
<use href="#p" x="583" y="140"/>
<use href="#p" x="590" y="135"/>
<use href="#p" x="587" y="143"/>
<use href="#p" x="580" y="151"/>
<use href="#p" x="564" y="139"/>
<use href="#p" x="589" y="144"/>
<use href="#p" x="577" y="149"/>
<use href="#p" x="575" y="158"/>
<use href="#p" x="582" y="155"/>
<use href="#p" x="583" y="133"/>
<use href="#p" x="607" y="135"/>
<use href="#p" x="573" y="151"/>
<use href="#p" x="596" y="144"/>
<use href="#p" x="577" y="135"/>
<use href="#p" x="590" y="157"/>
<use href="#p" x="606" y="138"/>
<use href="#p" x="585" y="135"/>
<use href="#p" x="591" y="140"/>
<use href="#p" x="575" y="141"/>
<use href="#p" x="604" y="146"/>
<use href="#p" x="581" y="142"/>
<use href="#p" x="587" y="149"/>
<use href="#p" x="570" y="138"/>
<use href="#p" x="599" y="134"/>
<use href="#p" x="604" y="147"/>
<use href="#p" x="594" y="147"/>
<use href="#p" x="588" y="143"/>
<use href="#p" x="586" y="151"/>
<use href="#p" x="588" y="144"/>
<use href="#p" x="580" y="149"/>
<use href="#p" x="597" y="145"/>
<use href="#p" x="604" y="140"/>
<use href="#p" x="599" y="154"/>
<use href="#p" x="602" y="142"/>
<use href="#p" x="580" y="140"/>
<use href="#p" x="577" y="155"/>
<use href="#p" x="596" y="145"/>
<use href="#p" x="602" y="148"/>
<use href="#p" x="566" y="147"/>
<use href="#p" x="564" y="151"/>
<use href="#p" x="603" y="144"/>
<use href="#p" x="592" y="149"/>
<use href="#p" x="610" y="145"/>
<use href="#p" x="567" y="150"/>
<use href="#p" x="572" y="158"/>
<use href="#p" x="573" y="158"/>
<use href="#p" x="574" y="149"/>
<use href="#p" x="574" y="142"/>
<use href="#p" x="577" y="149"/>
<use href="#p" x="578" y="131"/>
<use href="#p" x="582" y="155"/>
<use href="#p" x="611" y="137"/>
<use href="#p" x="588" y="140"/>
<use href="#p" x="585" y="159"/>
<use href="#p" x="582" y="148"/>
<use href="#p" x="588" y="148"/>
<use href="#p" x="599" y="138"/>
<use href="#p" x="564" y="148"/>
<use href="#p" x="588" y="150"/>
<use href="#p" x="569" y="152"/>
<use href="#p" x="593" y="148"/>
<use href="#p" x="598" y="151"/>
<use href="#p" x="605" y="141"/>
<use href="#p" x="606" y="140"/>
<use href="#p" x="606" y="148"/>
<use href="#p" x="593" y="144"/>
<use href="#p" x="574" y="153"/>
<use href="#p" x="602" y="138"/>
<use href="#p" x="600" y="140"/>
<use href="#p" x="577" y="140"/>
<use href="#p" x="596" y="153"/>
<use href="#p" x="596" y="132"/>
<use href="#p" x="605" y="145"/>
<use href="#p" x="586" y="142"/>
<use href="#p" x="601" y="149"/>
<use href="#p" x="589" y="141"/>
<use href="#p" x="581" y="151"/>
<use href="#p" x="578" y="136"/>
<use href="#p" x="584" y="155"/>
<use href="#p" x="570" y="152"/>
<use href="#p" x="602" y="135"/>
<use href="#p" x="586" y="150"/>
<use href="#p" x="583" y="145"/>
<use href="#p" x="604" y="149"/>
<use href="#p" x="571" y="151"/>
<use href="#p" x="601" y="143"/>
<use href="#p" x="590" y="139"/>
<use href="#p" x="564" y="150"/>
<use href="#p" x="570" y="134"/>
<use href="#p" x="580" y="144"/>
<use href="#p" x="596" y="135"/>
<use href="#p" x="563" y="148"/>
<use href="#p" x="571" y="155"/>
<use href="#p" x="570" y="140"/>
<use href="#p" x="596" y="151"/>
<use href="#p" x="587" y="141"/>
<use href="#p" x="567" y="140"/>
<use href="#p" x="593" y="145"/>
<use href="#p" x="567" y="150"/>
<use href="#p" x="576" y="146"/>
<use href="#p" x="601" y="146"/>
<use href="#p" x="596" y="142"/>
<use href="#p" x="589" y="139"/>
<use href="#p" x="598" y="156"/>
<use href="#p" x="575" y="141"/>
<use href="#p" x="563" y="143"/>
<use href="#p" x="584" y="138"/>
<use href="#p" x="574" y="148"/>
<use href="#p" x="581" y="152"/>
<use href="#p" x="588" y="145"/>
<use href="#p" x="593" y="131"/>
<use href="#p" x="575" y="132"/>
<use href="#p" x="579" y="158"/>
<use href="#p" x="591" y="137"/>
<use href="#p" x="586" y="137"/>
<use href="#p" x="585" y="133"/>
<use href="#p" x="589" y="159"/>
<use href="#p" x="566" y="151"/>
<use href="#p" x="567" y="149"/>
<use href="#p" x="585" y="133"/>
<use href="#p" x="568" y="149"/>
<use href="#p" x="575" y="157"/>
<use href="#p" x="572" y="155"/>
<use href="#p" x="582" y="137"/>
<use href="#p" x="570" y="148"/>
<use href="#p" x="588" y="134"/>
<use href="#p" x="602" y="150"/>
<use href="#p" x="567" y="150"/>
<use href="#p" x="602" y="153"/>
<use href="#p" x="572" y="154"/>
<use href="#p" x="602" y="137"/>
<use href="#p" x="592" y="139"/>
<use href="#p" x="582" y="151"/>
<use href="#p" x="599" y="156"/>
<use href="#p" x="562" y="148"/>
<use href="#p" x="578" y="147"/>
<use href="#p" x="563" y="150"/>
<use href="#p" x="579" y="150"/>
<use href="#p" x="580" y="137"/>
<use href="#p" x="579" y="146"/>
<use href="#p" x="591" y="156"/>
<use href="#p" x="575" y="146"/>
<use href="#p" x="587" y="150"/>
<use href="#p" x="598" y="147"/>
<use href="#p" x="574" y="150"/>
<use href="#p" x="606" y="142"/>
<use href="#p" x="576" y="144"/>
<use href="#p" x="574" y="154"/>
<use href="#p" x="587" y="150"/>
<use href="#p" x="579" y="158"/>
<use href="#p" x="593" y="157"/>
<use href="#p" x="605" y="141"/>
<use href="#p" x="598" y="144"/>
<use href="#p" x="565" y="147"/>
<use href="#p" x="600" y="155"/>
<use href="#p" x="587" y="142"/>
<use href="#p" x="580" y="148"/>
<use href="#p" x="604" y="140"/>
<use href="#p" x="588" y="146"/>
<use href="#p" x="582" y="137"/>
<use href="#p" x="596" y="142"/>
<use href="#p" x="601" y="141"/>
<use href="#p" x="583" y="155"/>
<use href="#p" x="603" y="153"/>
<use href="#p" x="560" y="151"/>
<use href="#p" x="577" y="151"/>
<use href="#p" x="602" y="145"/>
<use href="#p" x="604" y="146"/>
<use href="#p" x="610" y="142"/>
<use href="#p" x="605" y="154"/>
<use href="#p" x="584" y="143"/>
<use href="#p" x="582" y="138"/>
<use href="#p" x="573" y="151"/>
<use href="#p" x="573" y="150"/>
<use href="#p" x="572" y="134"/>
<use href="#p" x="596" y="141"/>
<use href="#p" x="595" y="142"/>
<use href="#p" x="597" y="148"/>
<use href="#p" x="594" y="150"/>
<use href="#p" x="579" y="144"/>
<use href="#p" x="591" y="145"/>
<use href="#p" x="584" y="133"/>
<use href="#p" x="572" y="160"/>
<use href="#p" x="596" y="146"/>
<use href="#p" x="592" y="135"/>
<use href="#p" x="587" y="141"/>
<use href="#p" x="587" y="132"/>
<use href="#p" x="587" y="136"/>
<use href="#p" x="583" y="137"/>
<use href="#p" x="588" y="160"/>
<use href="#p" x="595" y="152"/>
<use href="#p" x="601" y="147"/>
<use href="#p" x="602" y="139"/>
<use href="#p" x="583" y="146"/>
<use href="#p" x="574" y="144"/>
<use href="#p" x="582" y="138"/>
<use href="#p" x="577" y="139"/>
<use href="#p" x="569" y="153"/>
<use href="#p" x="590" y="145"/>
<use href="#p" x="565" y="142"/>
<use href="#p" x="595" y="150"/>
<use href="#p" x="608" y="146"/>
<use href="#p" x="593" y="158"/>
<use href="#p" x="595" y="149"/>
<use href="#p" x="603" y="153"/>
<use href="#p" x="563" y="145"/>
<use href="#p" x="571" y="150"/>
<use href="#p" x="601" y="138"/>
<use href="#p" x="563" y="145"/>
<use href="#p" x="567" y="156"/>
<use href="#p" x="586" y="150"/>
<use href="#p" x="610" y="143"/>
<use href="#p" x="583" y="145"/>
<use href="#p" x="579" y="145"/>
<use href="#p" x="589" y="153"/>
<use href="#p" x="565" y="154"/>
<use href="#p" x="577" y="145"/>
<use href="#p" x="570" y="137"/>
<use href="#p" x="600" y="136"/>
<use href="#p" x="594" y="144"/>
<use href="#p" x="582" y="142"/>
<use href="#p" x="593" y="154"/>
<use href="#p" x="580" y="154"/>
<use href="#p" x="587" y="142"/>
<use href="#p" x="581" y="149"/>
<use href="#p" x="598" y="152"/>
<use href="#p" x="597" y="143"/>
<use href="#p" x="589" y="143"/>
<use href="#p" x="581" y="143"/>
<use href="#p" x="574" y="152"/>
<use href="#p" x="587" y="142"/>
<use href="#p" x="568" y="141"/>
<use href="#p" x="592" y="157"/>
<use href="#p" x="587" y="149"/>
<use href="#p" x="602" y="139"/>
<use href="#p" x="598" y="142"/>
<use href="#p" x="591" y="145"/>
<use href="#p" x="582" y="145"/>
<use href="#p" x="582" y="153"/>
<use href="#p" x="583" y="155"/>
<use href="#p" x="593" y="156"/>
<use href="#p" x="594" y="141"/>
<use href="#p" x="571" y="153"/>
<use href="#p" x="600" y="159"/>
<use href="#p" x="589" y="145"/>
<use href="#p" x="602" y="140"/>
<use href="#p" x="573" y="148"/>
<use href="#p" x="565" y="147"/>
<use href="#p" x="575" y="147"/>
<use href="#p" x="590" y="140"/>
<use href="#p" x="570" y="155"/>
<use href="#p" x="593" y="137"/>
<use href="#p" x="595" y="136"/>
<use href="#p" x="608" y="148"/>
<use href="#p" x="606" y="154"/>
<use href="#p" x="601" y="138"/>
<use href="#p" x="597" y="155"/>
<use href="#p" x="570" y="150"/>
<use href="#p" x="599" y="137"/>
<use href="#p" x="578" y="160"/>
<use href="#p" x="600" y="138"/>
<use href="#p" x="578" y="141"/>
<use href="#p" x="583" y="148"/>
<use href="#p" x="599" y="148"/>
<use href="#p" x="589" y="141"/>
<use href="#p" x="583" y="154"/>
<use href="#p" x="583" y="160"/>
<use href="#p" x="610" y="142"/>
<use href="#p" x="590" y="158"/>
<use href="#p" x="585" y="149"/>
<use href="#p" x="587" y="138"/>
<use href="#p" x="583" y="152"/>
<use href="#p" x="579" y="148"/>
<use href="#p" x="600" y="144"/>
<use href="#p" x="592" y="140"/>
<use href="#p" x="582" y="144"/>
<use href="#p" x="599" y="152"/>
<use href="#p" x="588" y="145"/>
<use href="#p" x="603" y="140"/>
<use href="#p" x="611" y="146"/>
<use href="#p" x="581" y="148"/>
<use href="#p" x="592" y="149"/>
<use href="#p" x="574" y="157"/>
<use href="#p" x="566" y="152"/>
<use href="#p" x="583" y="132"/>
<use href="#p" x="595" y="143"/>
<use href="#p" x="579" y="141"/>
<use href="#p" x="594" y="144"/>
<use href="#p" x="575" y="141"/>
<use href="#p" x="596" y="145"/>
<use href="#p" x="581" y="156"/>
<use href="#p" x="580" y="156"/>
<use href="#p" x="600" y="142"/>
<use href="#p" x="590" y="132"/>
<use href="#p" x="567" y="144"/>
<use href="#p" x="601" y="150"/>
<use href="#p" x="586" y="152"/>
<use href="#p" x="599" y="150"/>
<use href="#p" x="603" y="140"/>
<use href="#p" x="592" y="151"/>
<use href="#p" x="597" y="151"/>
<use href="#p" x="581" y="149"/>
<use href="#p" x="580" y="144"/>
<use href="#p" x="569" y="152"/>
<use href="#p" x="605" y="148"/>
<use href="#p" x="598" y="154"/>
<use href="#p" x="610" y="139"/>
<use href="#p" x="575" y="141"/>
<use href="#p" x="581" y="148"/>
<use href="#p" x="570" y="148"/>
<use href="#p" x="579" y="155"/>
<use href="#p" x="590" y="149"/>
<use href="#p" x="572" y="155"/>
<use href="#p" x="576" y="145"/>
<use href="#p" x="567" y="148"/>
<use href="#p" x="603" y="143"/>
<use href="#p" x="591" y="133"/>
<use href="#p" x="592" y="136"/>
<use href="#p" x="606" y="145"/>
<use href="#p" x="578" y="140"/>
<use href="#p" x="604" y="152"/>
<use href="#p" x="573" y="149"/>
<use href="#p" x="573" y="157"/>
<use href="#p" x="582" y="160"/>
<use href="#p" x="579" y="152"/>
<use href="#p" x="588" y="131"/>
<use href="#p" x="593" y="136"/>
<use href="#p" x="600" y="150"/>
<use href="#p" x="590" y="153"/>
<use href="#p" x="589" y="145"/>
<use href="#p" x="604" y="138"/>
<use href="#p" x="580" y="146"/>
<use href="#p" x="597" y="148"/>
<use href="#p" x="582" y="162"/>
<use href="#p" x="575" y="151"/>
<use href="#p" x="595" y="152"/>
<use href="#p" x="586" y="148"/>
<use href="#p" x="602" y="152"/>
<use href="#p" x="585" y="156"/>
<use href="#p" x="607" y="139"/>
<use href="#p" x="575" y="150"/>
<use href="#p" x="603" y="138"/>
<use href="#p" x="582" y="142"/>
<use href="#p" x="587" y="134"/>
<use href="#p" x="584" y="135"/>
<use href="#p" x="598" y="150"/>
<use href="#p" x="600" y="151"/>
<use href="#p" x="597" y="137"/>
<use href="#p" x="590" y="155"/>
<use href="#p" x="573" y="151"/>
<use href="#p" x="589" y="136"/>
<use href="#p" x="595" y="146"/>
<use href="#p" x="581" y="146"/>
<use href="#p" x="590" y="134"/>
<use href="#p" x="583" y="138"/>
<use href="#p" x="591" y="135"/>
<use href="#p" x="610" y="151"/>
<use href="#p" x="578" y="148"/>
<use href="#p" x="596" y="151"/>
<use href="#p" x="571" y="152"/>
<use href="#p" x="593" y="153"/>
<use href="#p" x="591" y="151"/>
<use href="#p" x="574" y="152"/>
<use href="#p" x="589" y="146"/>
<use href="#p" x="580" y="155"/>
<use href="#p" x="585" y="149"/>
<use href="#p" x="564" y="153"/>
<use href="#p" x="570" y="153"/>
<use href="#p" x="590" y="131"/>
<use href="#p" x="582" y="147"/>
<use href="#p" x="611" y="144"/>
<use href="#p" x="586" y="144"/>
<use href="#p" x="584" y="145"/>
<use href="#p" x="582" y="145"/>
<use href="#p" x="576" y="142"/>
<use href="#p" x="589" y="143"/>
<use href="#p" x="594" y="133"/>
<use href="#p" x="592" y="140"/>
<use href="#p" x="584" y="133"/>
<use href="#p" x="584" y="137"/>
<use href="#p" x="577" y="150"/>
<use href="#p" x="583" y="143"/>
<use href="#p" x="583" y="140"/>
<use href="#p" x="575" y="160"/>
<use href="#p" x="591" y="146"/>
<use href="#p" x="575" y="140"/>
<use href="#p" x="591" y="145"/>
<use href="#p" x="589" y="139"/>
<use href="#p" x="592" y="140"/>
<use href="#p" x="592" y="132"/>
<use href="#p" x="591" y="139"/>
<use href="#p" x="577" y="141"/>
<use href="#p" x="587" y="144"/>
<use href="#p" x="582" y="153"/>
<use href="#p" x="582" y="144"/>
<use href="#p" x="593" y="152"/>
<use href="#p" x="569" y="147"/>
<use href="#p" x="591" y="157"/>
<use href="#p" x="589" y="148"/>
<use href="#p" x="576" y="141"/>
<use href="#p" x="601" y="145"/>
<use href="#p" x="567" y="144"/>
<use href="#p" x="589" y="143"/>
<use href="#p" x="579" y="131"/>
<use href="#p" x="586" y="148"/>
<use href="#p" x="585" y="148"/>
<use href="#p" x="578" y="150"/>
<use href="#p" x="585" y="145"/>
<use href="#p" x="587" y="136"/>
<use href="#p" x="580" y="141"/>
<use href="#p" x="596" y="147"/>
<use href="#p" x="597" y="147"/>
<use href="#p" x="580" y="132"/>
<use href="#p" x="612" y="145"/>
<use href="#p" x="592" y="144"/>
<use href="#p" x="602" y="146"/>
<use href="#p" x="579" y="134"/>
<use href="#p" x="580" y="149"/>
<use href="#p" x="574" y="148"/>
<use href="#p" x="589" y="138"/>
<use href="#p" x="589" y="133"/>
<use href="#p" x="564" y="149"/>
<use href="#p" x="586" y="138"/>
<use href="#p" x="576" y="160"/>
<use href="#p" x="584" y="141"/>
<use href="#p" x="574" y="152"/>
<use href="#p" x="591" y="141"/>
<use href="#p" x="572" y="154"/>
<use href="#p" x="573" y="147"/>
<use href="#p" x="547" y="157"/>
<use href="#p" x="568" y="147"/>
<use href="#p" x="574" y="152"/>
<use href="#p" x="569" y="149"/>
<use href="#p" x="553" y="158"/>
<use href="#p" x="571" y="147"/>
<use href="#p" x="571" y="151"/>
<use href="#p" x="575" y="148"/>
<use href="#p" x="559" y="150"/>
<use href="#p" x="572" y="148"/>
<use href="#p" x="557" y="163"/>
<use href="#p" x="565" y="145"/>
<use href="#p" x="568" y="163"/>
<use href="#p" x="553" y="158"/>
<use href="#p" x="569" y="151"/>
<use href="#p" x="558" y="157"/>
<use href="#p" x="550" y="161"/>
<use href="#p" x="550" y="163"/>
<use href="#p" x="556" y="163"/>
<use href="#p" x="564" y="155"/>
<use href="#p" x="570" y="154"/>
<use href="#p" x="556" y="160"/>
<use href="#p" x="558" y="159"/>
<use href="#p" x="560" y="159"/>
<use href="#p" x="568" y="148"/>
<use href="#p" x="571" y="153"/>
<use href="#p" x="577" y="153"/>
<use href="#p" x="547" y="155"/>
<use href="#p" x="556" y="157"/>
<use href="#p" x="556" y="155"/>
<use href="#p" x="573" y="152"/>
<use href="#p" x="567" y="149"/>
<use href="#p" x="561" y="148"/>
<use href="#p" x="567" y="158"/>
<use href="#p" x="557" y="164"/>
<use href="#p" x="565" y="160"/>
<use href="#p" x="574" y="150"/>
<use href="#p" x="569" y="147"/>
<use href="#p" x="554" y="160"/>
<use href="#p" x="565" y="149"/>
<use href="#p" x="553" y="159"/>
<use href="#p" x="559" y="155"/>
<use href="#p" x="546" y="159"/>
<use href="#p" x="568" y="163"/>
<use href="#p" x="570" y="146"/>
<use href="#p" x="572" y="152"/>
<use href="#p" x="562" y="149"/>
<use href="#p" x="568" y="153"/>
<use href="#p" x="560" y="162"/>
<use href="#p" x="566" y="160"/>
<use href="#p" x="565" y="154"/>
<use href="#p" x="561" y="159"/>
<use href="#p" x="573" y="150"/>
<use href="#p" x="568" y="153"/>
<use href="#p" x="574" y="150"/>
<use href="#p" x="567" y="157"/>
<use href="#p" x="550" y="157"/>
<use href="#p" x="575" y="152"/>
<use href="#p" x="556" y="165"/>
<use href="#p" x="571" y="151"/>
<use href="#p" x="568" y="157"/>
<use href="#p" x="571" y="153"/>
<use href="#p" x="564" y="149"/>
<use href="#p" x="572" y="148"/>
<use href="#p" x="557" y="162"/>
<use href="#p" x="570" y="148"/>
<use href="#p" x="578" y="146"/>
<use href="#p" x="567" y="155"/>
<use href="#p" x="562" y="163"/>
<use href="#p" x="575" y="154"/>
<use href="#p" x="563" y="160"/>
<use href="#p" x="574" y="152"/>
<use href="#p" x="571" y="150"/>
<use href="#p" x="562" y="149"/>
<use href="#p" x="550" y="160"/>
<use href="#p" x="578" y="148"/>
<use href="#p" x="552" y="160"/>
<use href="#p" x="555" y="158"/>
<use href="#p" x="571" y="149"/>
<use href="#p" x="556" y="164"/>
<use href="#p" x="561" y="143"/>
<use href="#p" x="572" y="153"/>
<use href="#p" x="558" y="156"/>
<use href="#p" x="571" y="154"/>
<use href="#p" x="563" y="146"/>
<use href="#p" x="555" y="153"/>
<use href="#p" x="562" y="158"/>
<use href="#p" x="573" y="147"/>
<use href="#p" x="553" y="157"/>
<use href="#p" x="543" y="161"/>
<use href="#p" x="545" y="162"/>
<use href="#p" x="559" y="155"/>
<use href="#p" x="542" y="167"/>
<use href="#p" x="567" y="154"/>
<use href="#p" x="542" y="159"/>
<use href="#p" x="544" y="166"/>
<use href="#p" x="549" y="159"/>
<use href="#p" x="554" y="170"/>
<use href="#p" x="543" y="172"/>
<use href="#p" x="552" y="162"/>
<use href="#p" x="545" y="164"/>
<use href="#p" x="557" y="173"/>
<use href="#p" x="549" y="165"/>
<use href="#p" x="555" y="154"/>
<use href="#p" x="541" y="161"/>
<use href="#p" x="565" y="153"/>
<use href="#p" x="556" y="151"/>
<use href="#p" x="559" y="167"/>
<use href="#p" x="545" y="175"/>
<use href="#p" x="561" y="156"/>
<use href="#p" x="556" y="164"/>
<use href="#p" x="560" y="152"/>
<use href="#p" x="543" y="161"/>
<use href="#p" x="546" y="168"/>
<use href="#p" x="552" y="159"/>
<use href="#p" x="550" y="167"/>
<use href="#p" x="562" y="155"/>
<use href="#p" x="552" y="162"/>
<use href="#p" x="559" y="152"/>
<use href="#p" x="547" y="162"/>
<use href="#p" x="544" y="175"/>
<use href="#p" x="544" y="167"/>
<use href="#p" x="554" y="169"/>
<use href="#p" x="560" y="157"/>
<use href="#p" x="556" y="153"/>
<use href="#p" x="544" y="166"/>
<use href="#p" x="548" y="157"/>
<use href="#p" x="547" y="166"/>
<use href="#p" x="544" y="167"/>
<use href="#p" x="555" y="147"/>
<use href="#p" x="544" y="173"/>
<use href="#p" x="553" y="168"/>
<use href="#p" x="560" y="161"/>
<use href="#p" x="557" y="155"/>
<use href="#p" x="547" y="167"/>
<use href="#p" x="556" y="165"/>
<use href="#p" x="562" y="152"/>
<use href="#p" x="569" y="159"/>
<use href="#p" x="546" y="170"/>
<use href="#p" x="542" y="170"/>
<use href="#p" x="543" y="172"/>
<use href="#p" x="561" y="162"/>
<use href="#p" x="541" y="172"/>
<use href="#p" x="556" y="160"/>
<use href="#p" x="541" y="165"/>
<use href="#p" x="541" y="160"/>
<use href="#p" x="552" y="157"/>
<use href="#p" x="560" y="157"/>
<use href="#p" x="560" y="155"/>
<use href="#p" x="559" y="156"/>
<use href="#p" x="554" y="160"/>
<use href="#p" x="559" y="158"/>
<use href="#p" x="564" y="155"/>
<use href="#p" x="555" y="160"/>
<use href="#p" x="554" y="170"/>
</g>
<g fill="#00cd00" fill-opacity="0.3">
<use href="#p" x="540" y="186"/>
<use href="#p" x="566" y="203"/>
<use href="#p" x="562" y="212"/>
<use href="#p" x="587" y="211"/>
<use href="#p" x="590" y="211"/>
<use href="#p" x="545" y="233"/>
<use href="#p" x="566" y="235"/>
<use href="#p" x="556" y="271"/>
<use href="#p" x="551" y="320"/>
<use href="#p" x="544" y="330"/>
<use href="#p" x="557" y="328"/>
<use href="#p" x="557" y="328"/>
</g>
<path d="M79 181.5H354M255.5 112V386M362 181.5H637M538.5 112V386" stroke="#000" stroke-width="1" fill="none"/>
<rect x="78.5" y="111.5" width="276" height="275" fill="none" stroke="#333" stroke-width="1"/>
<rect x="361.5" y="111.5" width="276" height="275" fill="none" stroke="#333" stroke-width="1"/>
<path d="M74 112.5H78M74 181.5H78M74 250.5H78M74 319.5H78M145.5 387V390M218.5 387V390M292.5 387V390M428.5 387V390M501.5 387V390M575.5 387V390" stroke="#333" stroke-width="1" fill="none"/>
<path d="M31.5 108V120M31.3 108.6L27.4 111.9" stroke="#4d4d4d" stroke-width="1.5" fill="none"/>
<g font-size="16.5" fill="#4d4d4d" text-anchor="end">
<text x="72" y="120">0000</text>
<text x="72" y="188">7500</text>
<text x="72" y="257">5000</text>
<text x="72" y="326">2500</text>
</g>
<g font-size="16.5" fill="#4d4d4d" text-anchor="end">
<text transform="translate(153,393) rotate(-90)">2000</text>
<text transform="translate(226,393) rotate(-90)">4000</text>
<text transform="translate(300,393) rotate(-90)">6000</text>
<text transform="translate(436,393) rotate(-90)">2000</text>
<text transform="translate(509,393) rotate(-90)">4000</text>
<text transform="translate(583,393) rotate(-90)">6000</text>
</g>
<text x="356.5" y="446" font-size="16.5" fill="#000" text-anchor="middle">HEX</text>
<text transform="translate(21,248) rotate(-90)" font-size="16.5" fill="#000" text-anchor="middle">FAM</text>
</svg>
</body></html>
